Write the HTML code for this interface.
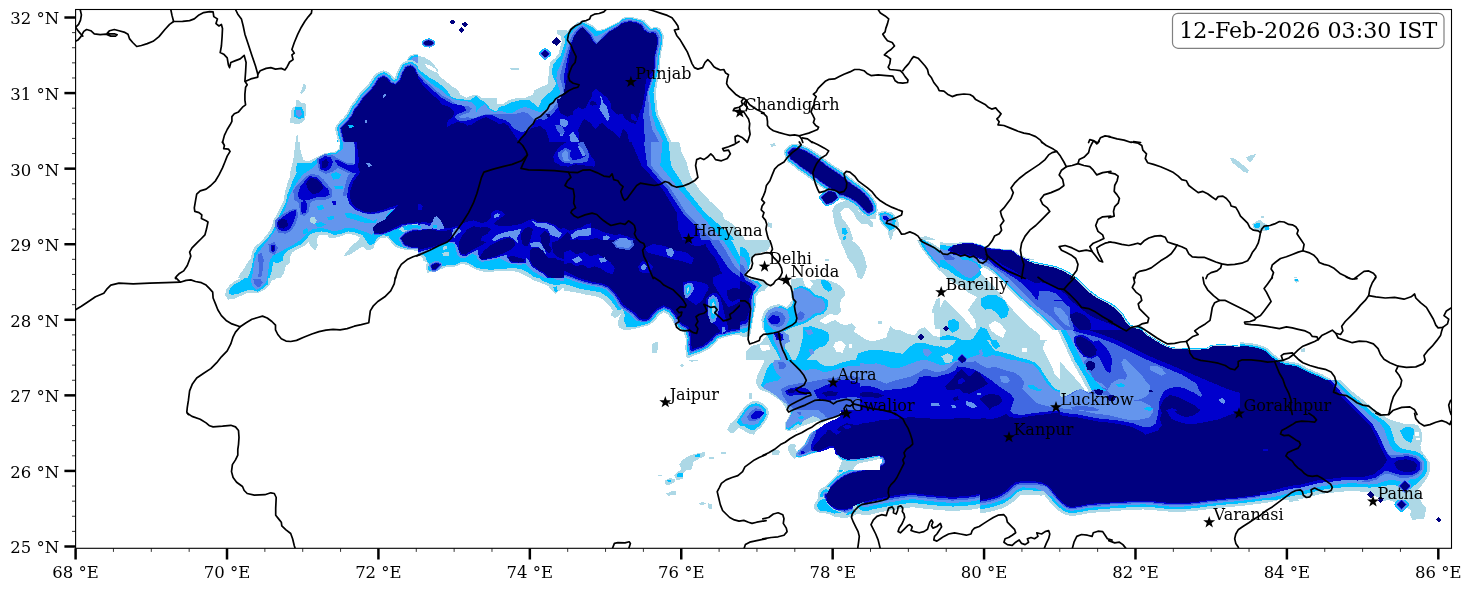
<!DOCTYPE html>
<html><head><meta charset="utf-8"><title>map</title>
<style>html,body{margin:0;padding:0;background:#fff}svg{display:block;will-change:transform}text{font-family:"DejaVu Serif","Liberation Serif",serif;fill:#000}</style>
</head><body>
<svg width="1471" height="591" viewBox="0 0 1471 591">
<defs><clipPath id="ax"><rect x="75.6" y="9.5" width="1375.9" height="538.8"/></clipPath><clipPath id="c00"><rect x="72.0" y="6.0" width="346.0" height="136.0"/></clipPath><clipPath id="c01"><rect x="72.0" y="142.0" width="346.0" height="136.0"/></clipPath><clipPath id="c02"><rect x="72.0" y="278.0" width="346.0" height="136.0"/></clipPath><clipPath id="c03"><rect x="72.0" y="414.0" width="346.0" height="136.0"/></clipPath><clipPath id="c10"><rect x="418.0" y="6.0" width="346.0" height="136.0"/></clipPath><clipPath id="c11"><rect x="418.0" y="142.0" width="346.0" height="136.0"/></clipPath><clipPath id="c12"><rect x="418.0" y="278.0" width="346.0" height="136.0"/></clipPath><clipPath id="c13"><rect x="418.0" y="414.0" width="346.0" height="136.0"/></clipPath><clipPath id="c20"><rect x="764.0" y="6.0" width="346.0" height="136.0"/></clipPath><clipPath id="c21"><rect x="764.0" y="142.0" width="346.0" height="136.0"/></clipPath><clipPath id="c22"><rect x="764.0" y="278.0" width="346.0" height="136.0"/></clipPath><clipPath id="c23"><rect x="764.0" y="414.0" width="346.0" height="136.0"/></clipPath><clipPath id="c30"><rect x="1110.0" y="6.0" width="346.0" height="136.0"/></clipPath><clipPath id="c31"><rect x="1110.0" y="142.0" width="346.0" height="136.0"/></clipPath><clipPath id="c32"><rect x="1110.0" y="278.0" width="346.0" height="136.0"/></clipPath><clipPath id="c33"><rect x="1110.0" y="414.0" width="346.0" height="136.0"/></clipPath><clipPath id="c90"><rect x="700" y="330" width="200" height="120"/></clipPath><clipPath id="c91"><rect x="564" y="240" width="200" height="120"/></clipPath><clipPath id="c92"><rect x="940" y="260" width="200" height="120"/></clipPath><clipPath id="c93"><rect x="1040" y="330" width="200" height="120"/></clipPath><clipPath id="c94"><rect x="740" y="240" width="200" height="120"/></clipPath><clipPath id="c95"><rect x="860" y="340" width="200" height="120"/></clipPath><clipPath id="c96"><rect x="1260" y="380" width="200" height="120"/></clipPath><clipPath id="c97"><rect x="780" y="410" width="200" height="120"/></clipPath><clipPath id="c98"><rect x="780" y="410" width="100" height="60"/></clipPath></defs>
<rect width="1471" height="591" fill="#fff"/>
<g clip-path="url(#ax)">
<g shape-rendering="crispEdges"><g clip-path="url(#c00)"><polygon fill="#add8e6" points="303.7,83.2 306.0,86.0 305.3,90.2 301.3,94.2 300.2,92.6 302.0,88.4"/><polygon fill="#add8e6" points="296.6,98.9 301.3,102.5 305.6,103.6 306.0,111.9 304.9,120.1 300.2,123.6 294.3,123.6 290.3,122.5 290.7,114.2 291.9,108.4 295.5,106.0"/><polygon fill="#00bfff" points="295.5,107.2 301.3,107.2 304.4,111.9 303.7,117.8 299.0,118.9 294.3,116.6 293.6,111.9"/><polygon fill="#6495ed" points="296.6,109.5 300.6,109.5 302.0,114.2 299.0,117.1 295.5,114.7"/><polygon fill="#add8e6" points="296.6,134.9 298.3,135.4 298.3,142.5 296.2,142.5"/><polygon fill="#add8e6" points="357.8,100.1 362.5,91.9 369.5,87.9 375.4,83.6 377.8,87.2 366.0,100.1"/><polygon fill="#add8e6" points="407.2,58.9 410.7,54.9 418.0,53.8 418.0,67.2 408.4,67.2"/><polygon fill="#00bfff" points="408.4,59.6 411.9,55.9 418.0,54.9 418.0,67.2 408.8,67.6"/><polygon fill="#6495ed" points="409.8,60.6 413.1,57.3 418.0,56.6 418.0,67.2 410.7,67.6"/><polygon fill="#00bfff" points="336.6,142.0 340.1,133.1 344.8,130.7 344.8,142.0"/><polygon fill="#6495ed" points="339.0,142.0 342.0,134.9 346.0,133.1 346.0,142.0"/><polygon fill="#add8e6" stroke="#add8e6" stroke-width="12.2" stroke-linejoin="round" points="344.8,142.5 342.5,134.2 341.3,128.4 344.8,124.8 348.4,121.3 351.9,116.6 355.4,109.5 360.1,103.6 363.7,97.8 367.2,94.2 371.9,89.5 375.4,84.8 379.0,78.9 383.7,76.6 387.2,78.9 390.7,83.2 395.4,84.8 400.1,81.3 402.5,74.2 406.0,67.6 410.7,66.0 414.2,68.4 416.6,74.2 420.1,75.4 420.1,142.5"/><polygon fill="#00bfff" stroke="#00bfff" stroke-width="8.4" stroke-linejoin="round" points="344.8,142.5 342.5,134.2 341.3,128.4 344.8,124.8 348.4,121.3 351.9,116.6 355.4,109.5 360.1,103.6 363.7,97.8 367.2,94.2 371.9,89.5 375.4,84.8 379.0,78.9 383.7,76.6 387.2,78.9 390.7,83.2 395.4,84.8 400.1,81.3 402.5,74.2 406.0,67.6 410.7,66.0 414.2,68.4 416.6,74.2 420.1,75.4 420.1,142.5"/><polygon fill="#6495ed" stroke="#6495ed" stroke-width="5.2" stroke-linejoin="round" points="344.8,142.5 342.5,134.2 341.3,128.4 344.8,124.8 348.4,121.3 351.9,116.6 355.4,109.5 360.1,103.6 363.7,97.8 367.2,94.2 371.9,89.5 375.4,84.8 379.0,78.9 383.7,76.6 387.2,78.9 390.7,83.2 395.4,84.8 400.1,81.3 402.5,74.2 406.0,67.6 410.7,66.0 414.2,68.4 416.6,74.2 420.1,75.4 420.1,142.5"/><polygon fill="#4169e1" stroke="#4169e1" stroke-width="3.2" stroke-linejoin="round" points="344.8,142.5 342.5,134.2 341.3,128.4 344.8,124.8 348.4,121.3 351.9,116.6 355.4,109.5 360.1,103.6 363.7,97.8 367.2,94.2 371.9,89.5 375.4,84.8 379.0,78.9 383.7,76.6 387.2,78.9 390.7,83.2 395.4,84.8 400.1,81.3 402.5,74.2 406.0,67.6 410.7,66.0 414.2,68.4 416.6,74.2 420.1,75.4 420.1,142.5"/><polygon fill="#0000cd" stroke="#0000cd" stroke-width="1.6" stroke-linejoin="round" points="344.8,142.5 342.5,134.2 341.3,128.4 344.8,124.8 348.4,121.3 351.9,116.6 355.4,109.5 360.1,103.6 363.7,97.8 367.2,94.2 371.9,89.5 375.4,84.8 379.0,78.9 383.7,76.6 387.2,78.9 390.7,83.2 395.4,84.8 400.1,81.3 402.5,74.2 406.0,67.6 410.7,66.0 414.2,68.4 416.6,74.2 420.1,75.4 420.1,142.5"/><polygon fill="#000080" points="344.8,142.5 342.5,134.2 341.3,128.4 344.8,124.8 348.4,121.3 351.9,116.6 355.4,109.5 360.1,103.6 363.7,97.8 367.2,94.2 371.9,89.5 375.4,84.8 379.0,78.9 383.7,76.6 387.2,78.9 390.7,83.2 395.4,84.8 400.1,81.3 402.5,74.2 406.0,67.6 410.7,66.0 414.2,68.4 416.6,74.2 420.1,75.4 420.1,142.5"/><polygon fill="#6495ed" points="382.0,95.9 385.3,93.5 386.7,94.9 383.7,97.8"/><polygon fill="#6495ed" points="364.8,120.1 367.4,120.1 367.4,122.9 364.8,122.9"/><polygon fill="#00bfff" points="348.4,125.5 352.4,124.4 354.3,126.5 350.0,128.4"/></g>
<g clip-path="url(#c01)"><polygon fill="#add8e6" points="295.5,142.0 294.3,151.4 293.1,160.8 290.7,170.2 289.6,177.3 287.2,184.4 284.9,192.6 283.7,200.8 280.2,207.9 276.6,214.9 273.1,220.8 271.9,226.7 268.4,232.6 263.7,238.5 259.0,243.2 254.3,246.7 251.9,252.6 250.8,258.5 247.2,263.2 243.7,269.1 240.2,273.8 237.8,278.5 280.2,278.5 283.7,273.8 286.0,265.5 289.6,263.2 289.6,258.5 291.9,252.6 297.8,249.1 304.9,245.5 308.4,242.0 310.7,246.7 315.4,250.2 317.8,245.5 316.6,239.6 319.0,234.9 327.2,234.9 329.6,238.5 337.8,237.3 347.2,233.8 354.3,234.9 360.1,237.3 357.8,240.8 351.9,245.5 346.0,252.6 343.7,256.1 349.6,254.9 356.6,250.2 362.5,246.7 367.2,250.2 373.1,249.1 375.4,243.2 380.1,238.5 387.2,237.3 391.9,243.2 395.4,246.7 401.3,249.1 408.4,250.2 418.0,250.7 420.1,142.0 340.1,140.8 339.0,149.1 334.3,151.9 324.9,153.3 316.6,157.3 309.6,160.8 303.7,160.4 300.6,151.4 299.7,140.8"/><polygon fill="#00bfff" points="340.1,140.8 340.1,149.1 335.4,152.6 326.0,153.8 317.8,158.0 311.9,162.7 304.9,163.2 297.8,162.7 295.5,167.9 296.6,172.6 293.1,179.6 290.7,186.7 287.2,194.9 286.0,202.0 282.5,209.1 279.0,216.1 275.5,222.0 274.3,227.9 270.8,233.8 266.1,239.6 261.3,244.4 257.8,247.9 254.3,253.8 253.1,259.6 251.9,266.7 249.6,273.8 247.2,278.5 269.6,278.5 271.9,270.2 273.1,262.0 277.8,263.2 282.5,260.8 283.7,254.9 288.4,250.2 295.5,246.7 301.3,244.4 306.0,239.6 309.6,234.9 314.3,232.6 321.3,231.4 328.4,232.6 334.3,234.9 341.3,233.8 348.4,231.4 355.4,232.6 362.5,234.9 366.0,240.8 369.5,245.5 374.3,243.2 376.6,238.5 382.5,234.9 388.4,236.1 393.1,242.0 397.8,245.5 403.7,247.9 410.7,249.1 420.1,249.1 420.1,140.8"/><polygon fill="#6495ed" points="342.5,140.8 342.5,149.1 336.6,153.8 327.2,154.9 319.0,159.6 315.4,165.5 309.6,170.2 303.7,173.8 299.0,179.6 294.3,186.7 289.6,196.1 287.2,203.2 284.9,210.2 280.2,217.3 276.6,223.2 276.2,229.1 271.9,234.9 268.4,239.6 263.7,245.5 260.2,250.2 256.6,254.9 254.3,262.0 253.1,269.1 251.9,278.5 267.2,278.5 268.4,270.2 269.6,260.8 273.1,254.9 279.0,252.6 284.9,249.1 291.9,245.5 297.8,242.0 303.7,237.3 307.2,232.6 313.1,229.1 320.2,227.9 327.2,229.1 333.1,231.4 340.1,230.2 346.0,227.9 353.1,227.9 360.1,230.2 367.2,232.6 371.9,234.9 375.4,231.4 380.1,226.7 384.8,219.6 388.4,212.6 391.9,210.2 396.6,212.6 420.1,212.6 420.1,140.8"/><polygon fill="#00bfff" points="330.7,173.8 336.6,172.1 341.3,174.9 339.0,179.2 333.1,179.6"/><polygon fill="#00bfff" points="334.3,186.2 342.5,185.5 343.0,188.6 335.4,189.5"/><polygon fill="#00bfff" points="327.2,216.8 333.6,216.1 334.3,219.2 327.9,220.1"/><polygon fill="#add8e6" points="309.6,217.8 314.3,216.8 317.1,220.8 314.3,223.9 310.0,222.0"/><polygon fill="#00bfff" points="316.6,206.0 322.5,205.1 324.1,208.4 319.0,210.7"/><polygon fill="#00bfff" points="315.4,223.2 321.3,222.0 326.0,224.4 321.3,227.2 316.6,226.7"/><polygon fill="#00bfff" points="344.8,212.6 354.3,213.8 363.7,217.3 373.1,220.8 377.8,218.5 375.4,223.2 366.0,223.2 354.3,219.6 346.0,217.3"/><polygon fill="#00bfff" points="302.5,230.2 307.2,227.9 308.4,231.4 303.7,234.9"/><polygon fill="#add8e6" points="400.1,224.8 408.4,223.2 418.0,223.2 418.0,229.5 410.7,230.9 403.7,232.6 399.4,229.5"/><polygon fill="#00bfff" points="402.5,226.7 409.5,224.8 418.0,224.8 418.0,228.1 410.7,229.5 404.8,230.5"/><polygon fill="#4169e1" points="293.1,190.2 299.0,183.2 304.9,177.3 310.7,173.8 317.8,174.9 323.7,179.6 328.4,185.5 331.9,189.1 331.9,197.3 326.0,199.6 317.8,199.6 310.7,202.0 308.4,212.6 304.9,216.1 300.2,214.9 299.0,203.2 294.3,199.6"/><polygon fill="#4169e1" points="316.6,158.5 324.9,154.2 333.1,155.6 339.0,158.9 346.0,162.7 354.3,163.6 360.1,162.7 360.1,176.1 351.9,174.5 344.8,171.4 337.8,167.9 333.1,171.4 326.0,173.8 319.0,170.7"/><polygon fill="#4169e1" points="275.5,219.6 282.5,214.5 290.7,209.8 297.3,208.4 297.8,216.8 295.5,224.4 291.2,230.9 285.6,233.8 278.5,232.6 274.8,226.7"/><polygon fill="#4169e1" points="257.8,254.9 261.3,252.6 263.7,259.6 263.0,269.1 261.3,277.3 258.3,277.3 259.0,266.7"/><polygon fill="#4169e1" points="268.4,244.4 274.3,242.0 277.8,247.9 274.8,254.9 269.6,252.6"/><polygon fill="#4169e1" points="342.5,196.1 349.6,194.9 351.9,205.5 357.8,210.2 366.0,213.8 377.8,213.8 389.5,210.2 397.8,206.7 391.9,213.8 384.8,222.0 375.4,227.9 374.3,234.9 382.5,234.9 396.6,229.1 408.4,224.8 418.0,223.9 418.0,142.0 354.3,142.0 355.4,165.5 347.2,177.3"/><polygon fill="#0000cd" points="319.0,159.6 324.9,156.1 330.7,157.3 333.1,162.0 330.7,167.9 326.0,171.4 320.2,169.1"/><polygon fill="#000080" points="321.8,162.0 326.0,158.9 328.9,162.0 327.2,167.4 322.5,167.9"/><polygon fill="#0000cd" points="334.3,159.6 340.1,160.8 346.0,164.4 353.1,165.5 357.8,164.4 357.8,173.8 351.9,172.6 344.8,169.1 337.8,165.5"/><polygon fill="#0000cd" points="297.8,193.8 300.2,186.7 304.9,180.8 309.6,176.1 316.6,177.3 321.3,182.0 324.9,186.7 328.4,189.1 329.6,194.9 323.7,197.3 316.6,197.3 309.6,199.6 303.7,200.8 299.0,198.5"/><polygon fill="#000080" points="306.0,183.2 310.7,177.3 316.6,179.2 321.3,183.9 323.7,187.9 319.0,192.6 313.1,194.2 308.4,190.2"/><polygon fill="#0000cd" points="301.3,202.0 306.0,200.8 307.2,206.7 306.0,212.6 302.0,213.8 300.6,207.9"/><polygon fill="#0000cd" points="277.8,220.8 283.7,216.1 290.7,211.4 295.5,210.2 295.5,216.1 293.1,223.2 289.6,229.1 284.9,231.4 279.0,230.2 276.6,225.5"/><polygon fill="#000080" points="277.8,222.0 282.5,218.5 287.2,220.8 287.9,225.5 283.7,228.6 279.0,227.9"/><polygon fill="#0000cd" points="270.8,245.5 274.3,244.4 275.5,249.1 273.1,252.6 270.8,250.2"/><polygon fill="#000080" points="271.5,246.7 273.8,246.0 274.3,249.1 272.4,250.7"/><polygon fill="#0000cd" points="331.9,201.3 335.4,200.8 336.6,204.4 333.1,205.5"/><polygon fill="#0000cd" points="354.3,140.8 355.4,156.1 354.3,165.5 356.6,172.6 353.1,177.3 349.6,183.2 347.7,190.2 347.2,197.3 349.6,204.4 355.4,209.8 363.7,213.1 371.9,214.0 380.1,212.6 388.4,210.2 395.4,207.9 390.7,212.6 386.0,219.6 377.8,224.8 373.1,229.1 374.3,233.8 380.1,234.5 388.4,232.1 395.4,229.1 402.5,225.5 409.5,224.1 420.1,223.2 420.1,140.8"/><polygon fill="#000080" points="356.6,140.8 357.8,151.4 359.0,160.8 357.8,165.5 360.1,172.6 356.6,177.3 353.1,182.0 350.7,189.1 349.6,196.1 351.9,203.2 356.6,207.9 363.7,211.4 370.7,212.6 377.8,211.4 384.8,209.1 391.9,206.7 397.8,205.1 394.2,210.2 388.4,214.9 384.8,219.6 377.8,223.2 373.1,227.9 374.3,232.6 380.1,233.8 387.2,231.4 394.2,227.9 401.3,224.4 408.4,223.2 420.1,222.0 420.1,140.8"/><polygon fill="#6495ed" points="366.0,163.6 369.5,162.7 371.9,165.5 368.8,166.9"/><polygon fill="#6495ed" stroke="#6495ed" stroke-width="5.2" stroke-linejoin="round" points="401.3,238.5 406.0,233.8 413.1,230.9 420.1,230.2 420.1,246.7 410.7,246.7 404.8,244.4"/><polygon fill="#4169e1" stroke="#4169e1" stroke-width="3.2" stroke-linejoin="round" points="401.3,238.5 406.0,233.8 413.1,230.9 420.1,230.2 420.1,246.7 410.7,246.7 404.8,244.4"/><polygon fill="#0000cd" stroke="#0000cd" stroke-width="1.6" stroke-linejoin="round" points="401.3,238.5 406.0,233.8 413.1,230.9 420.1,230.2 420.1,246.7 410.7,246.7 404.8,244.4"/><polygon fill="#000080" points="401.3,238.5 406.0,233.8 413.1,230.9 420.1,230.2 420.1,246.7 410.7,246.7 404.8,244.4"/></g>
<g clip-path="url(#c02)"><polygon fill="#add8e6" points="224.9,295.6 226.1,289.8 229.6,285.1 234.3,281.5 239.0,279.2 243.7,276.8 274.3,276.8 276.6,279.2 271.9,280.4 269.6,285.1 266.1,288.6 260.2,292.1 255.5,293.3 248.4,292.6 241.4,295.6 234.3,298.7 228.4,299.6"/><polygon fill="#00bfff" points="228.4,293.3 230.1,288.6 234.3,284.6 240.2,281.5 246.1,276.8 268.4,276.8 268.4,283.9 263.7,287.9 257.8,291.6 251.9,289.8 244.9,290.9 237.8,294.0 231.9,294.9"/><polygon fill="#6495ed" points="250.8,276.8 267.2,276.8 266.1,282.7 261.3,287.4 256.6,289.8 252.6,286.2 251.2,281.5"/><polygon fill="#4169e1" points="253.1,279.2 260.2,278.7 263.0,282.7 259.0,287.4 255.0,285.1"/></g>
<g clip-path="url(#c03)"></g>
<g clip-path="url(#c10)"><polygon fill="#add8e6" points="418.0,55.9 424.6,57.3 429.8,60.6 434.0,64.8 438.0,70.0 437.3,73.1 441.5,77.8 447.4,82.5 453.3,87.2 457.5,89.5 460.3,94.9 466.2,97.8 472.1,95.4 476.8,94.9 482.0,97.8 487.9,98.5 496.8,97.8 497.5,104.4 502.7,104.4 508.6,100.1 516.8,98.2 525.7,97.8 533.3,94.2 534.4,90.2 541.5,86.7 547.4,84.4 548.5,76.6 549.2,67.6 550.4,61.8 554.9,58.2 558.7,54.2 559.8,48.4 562.0,41.3 560.5,36.1 556.8,33.8 556.8,29.5 562.7,29.5 568.1,30.7 572.1,26.7 577.5,22.5 582.6,20.6 587.8,22.9 593.2,25.8 597.2,30.0 603.8,29.1 610.4,25.8 617.9,22.0 623.8,17.3 629.7,16.6 637.2,18.2 644.3,20.1 648.0,24.8 651.3,28.1 656.0,26.7 660.7,29.1 663.8,35.4 663.1,44.1 661.0,53.5 659.3,70.7 655.8,92.4 657.9,114.2 665.2,128.8 671.6,142.5 418.0,142.5"/><polygon fill="#ffffff" points="425.3,64.1 428.8,64.8 432.6,66.9 436.1,69.8 436.8,71.6 434.0,71.6 430.5,69.8 426.7,67.6"/><polygon fill="#00bfff" points="418.0,69.1 423.9,73.5 429.8,77.8 435.4,80.8 441.3,85.1 447.2,90.9 451.4,96.8 457.3,98.9 464.6,99.6 470.5,99.6 476.1,96.1 479.2,98.9 483.4,101.1 487.9,105.5 490.7,109.1 496.6,111.4 499.4,106.9 505.3,105.5 511.1,102.5 519.8,100.4 528.6,99.6 534.4,104.1 538.7,107.6 541.7,99.6 546.0,95.4 551.8,90.9 556.3,83.6 553.2,77.8 551.8,71.9 553.2,64.8 557.7,58.9 560.5,55.9 562.7,49.5 565.0,42.5 564.3,36.6 568.5,31.9 573.7,27.6 579.1,23.6 582.6,22.0 586.9,24.4 592.5,27.2 596.8,31.4 603.8,30.2 609.9,27.2 617.5,23.4 623.3,18.7 629.7,17.8 636.7,19.4 643.3,21.3 647.1,26.0 650.6,29.3 655.6,27.9 659.6,30.2 662.4,36.1 661.7,44.4 659.6,53.8 657.9,70.7 653.4,92.4 655.8,114.2 662.4,128.8 668.3,142.5 418.0,142.5"/><polygon fill="#6495ed" points="418.0,71.9 423.9,77.8 429.8,82.2 435.4,86.5 441.3,90.2 447.2,95.4 452.8,98.9 458.7,100.4 466.0,101.1 471.9,102.5 476.1,106.9 476.1,112.1 480.6,106.9 485.0,104.1 487.9,108.4 493.7,112.1 501.0,110.7 506.7,112.8 512.6,112.8 519.8,108.4 525.7,106.9 533.0,109.8 540.3,112.1 546.0,109.8 551.8,104.1 557.7,98.2 560.5,92.4 557.7,85.1 556.3,77.8 557.7,70.5 561.2,63.2 563.6,55.9 565.7,48.4 567.4,41.3 569.7,35.4 573.2,30.7 578.4,26.0 582.6,24.4 586.4,27.2 591.6,31.9 594.9,36.1 599.1,35.4 603.8,32.4 609.5,28.8 617.0,24.8 623.1,20.1 629.7,18.9 636.7,20.6 642.6,22.5 646.2,27.2 650.2,30.5 655.1,29.1 658.4,31.4 661.0,36.6 660.3,44.8 658.2,54.2 656.3,70.7 649.2,92.4 652.0,114.2 656.5,128.8 664.0,142.5 418.0,142.5"/><polygon fill="#4169e1" points="418.0,73.5 425.3,80.8 432.6,87.2 438.5,92.4 444.1,96.8 450.0,99.6 455.9,104.1 461.7,106.9 467.4,105.5 471.9,108.4 468.8,112.8 463.2,114.2 458.7,116.4 461.7,118.5 467.4,117.1 473.3,118.5 480.6,115.6 486.4,114.2 492.3,114.2 499.4,113.5 505.3,114.2 511.1,114.2 517.0,113.5 522.7,112.1 527.1,112.8 531.6,117.1 534.4,120.1 538.7,117.1 543.1,114.2 547.6,112.8 551.8,109.8 556.3,104.1 561.2,98.2 563.6,92.4 562.2,85.1 559.8,77.8 561.2,70.5 563.6,63.2 565.7,55.9 568.1,48.4 569.7,41.3 572.1,35.4 575.1,31.4 579.4,27.2 582.6,25.8 585.9,28.6 590.9,33.3 593.9,38.9 596.8,42.5 600.3,38.9 603.8,34.7 609.0,30.5 616.5,26.2 622.6,21.5 629.7,20.1 636.7,21.5 641.9,23.6 645.2,28.4 649.7,31.6 654.4,30.5 657.2,32.6 659.6,37.3 658.9,45.3 656.7,54.7 655.3,70.7 648.0,92.4 649.2,114.2 652.0,128.8 659.6,142.5 418.0,142.5"/><polygon fill="#0000cd" points="418.0,74.9 423.9,82.2 429.8,87.2 435.4,92.4 441.3,97.5 447.2,101.1 452.8,104.1 460.1,104.8 464.6,106.9 466.0,110.7 461.7,112.8 457.3,114.2 454.5,116.4 457.3,120.1 463.2,121.5 468.8,120.1 476.1,117.8 482.0,115.6 487.9,114.9 493.7,115.6 499.4,118.5 505.3,120.1 509.7,122.9 512.6,127.4 517.0,130.2 522.7,132.4 527.1,130.2 533.0,125.8 534.4,122.2 538.7,118.5 544.5,120.1 549.0,117.1 554.7,111.4 559.1,105.5 563.6,99.6 566.4,92.4 565.0,85.1 563.6,77.8 565.0,70.5 566.4,63.2 568.1,55.9 569.7,49.5 571.4,42.5 573.7,36.6 576.5,32.4 580.3,28.4 582.6,27.2 585.5,30.0 590.2,34.7 593.0,40.4 596.3,44.1 599.6,40.8 603.8,36.6 608.5,31.9 616.1,27.6 622.2,22.9 629.7,21.1 636.7,22.5 641.5,24.8 644.3,29.5 649.2,32.8 653.7,31.9 656.0,33.8 658.2,38.0 657.4,45.8 655.3,55.2 654.4,70.7 647.1,92.4 643.3,114.2 644.0,128.8 645.5,142.5 418.0,142.5"/><polygon fill="#000080" points="418.0,77.8 422.5,85.1 426.7,89.5 432.6,95.4 438.5,99.6 441.3,104.1 447.2,106.2 451.4,108.4 454.5,112.8 452.8,117.1 448.6,120.1 446.5,124.4 446.5,127.4 451.4,124.4 457.3,122.2 463.2,122.9 467.4,125.8 471.9,124.4 476.1,121.5 482.0,118.5 486.4,117.1 490.7,119.4 495.2,121.5 499.4,124.4 503.9,122.9 508.3,125.8 511.1,130.2 514.0,134.7 517.0,138.9 518.4,142.5 418.0,142.5"/><polygon fill="#000080" points="582.6,27.6 585.5,30.5 589.7,35.2 592.5,40.8 596.1,44.8 599.6,41.3 603.8,37.3 608.5,32.6 616.1,28.4 622.2,23.6 629.7,21.8 636.7,23.2 641.0,25.5 643.8,30.2 649.0,33.5 653.2,32.6 655.6,34.5 657.4,38.5 656.7,46.0 654.6,55.4 653.4,70.7 645.9,79.9 645.0,90.5 643.3,101.1 641.7,108.4 639.8,110.5 639.1,115.6 637.7,119.9 635.6,124.1 632.3,122.9 628.0,120.8 624.0,117.8 622.9,113.5 618.6,114.7 614.6,112.6 611.3,109.3 610.4,102.0 607.1,97.8 601.9,93.5 595.6,88.8 592.5,91.6 591.4,97.8 588.3,102.0 586.2,107.2 581.9,109.3 578.9,107.2 573.7,110.5 572.5,114.7 567.4,116.6 562.0,114.2 560.1,112.6 557.7,104.1 557.0,99.6 560.5,98.2 563.6,92.4 565.0,86.7 566.4,80.8 567.8,70.5 569.2,55.9 570.9,50.7 572.1,43.6 573.7,37.8 576.1,33.8 579.8,29.5"/><polygon fill="#000080" points="578.9,142.5 578.4,129.3 581.9,122.0 584.1,118.7 590.4,122.9 595.6,129.3 599.8,124.1 601.9,122.9 606.2,127.2 612.5,131.4 619.8,137.8 622.9,128.4 627.1,132.4 629.2,142.5"/><polygon fill="#000080" points="519.1,142.5 523.8,135.4 530.9,128.4 540.3,126.0 546.2,130.7 549.7,142.5"/><polygon fill="#6495ed" points="600.4,95.7 601.9,96.8 603.0,103.1 606.1,105.2 608.2,111.5 609.8,116.7 607.7,121.4 605.1,117.8 601.9,112.5 599.3,108.8 600.9,104.1"/><polygon fill="#000080" points="589.4,102.6 591.5,101.0 596.2,102.0 596.7,104.7 592.5,105.7 589.9,105.2"/><polygon fill="#0000cd" points="631.3,113.6 633.4,114.1 637.6,118.8 637.1,120.9 633.4,120.4 631.3,118.8"/><polygon fill="#6495ed" points="560.0,118.8 567.3,119.9 568.4,124.1 565.2,127.7 560.0,125.1"/><polygon fill="#6495ed" points="569.4,135.6 573.1,131.9 575.7,135.6 578.9,142.0 571.5,142.0"/><polygon fill="#6495ed" points="560.0,130.4 563.7,133.5 562.1,136.6 560.0,135.6"/><polygon fill="#4169e1" points="644.9,142.0 648.1,137.7 651.2,136.6 652.3,139.8 650.2,142.0"/><polygon fill="#000080" points="531.5,129.5 537.3,128.0 539.5,131.7 534.4,134.6"/><polygon fill="#000080" points="546.0,114.2 549.7,113.5 550.4,116.4 547.5,117.1"/><polygon fill="#4169e1" points="554.8,124.4 562.0,125.8 565.0,131.7 561.3,135.3 557.7,131.7"/><polygon fill="#6495ed" points="569.3,135.3 573.0,132.4 577.3,137.5 579.5,142.0 570.8,142.0"/><polygon fill="#000080" points="452.1,19.2 455.2,22.0 452.1,24.8 449.0,22.0"/><polygon fill="#000080" points="464.6,21.5 467.9,24.4 464.6,27.4 461.5,24.4"/><polygon fill="#000080" points="461.5,27.2 464.8,30.0 461.5,33.1 458.2,30.0"/><polygon fill="#00bfff" stroke="#00bfff" stroke-width="4.2" stroke-linejoin="round" points="424.6,41.8 428.6,40.4 432.6,41.8 433.5,43.6 429.8,45.5 425.5,45.1 423.6,43.6"/><polygon fill="#6495ed" stroke="#6495ed" stroke-width="2.6" stroke-linejoin="round" points="424.6,41.8 428.6,40.4 432.6,41.8 433.5,43.6 429.8,45.5 425.5,45.1 423.6,43.6"/><polygon fill="#4169e1" stroke="#4169e1" stroke-width="1.6" stroke-linejoin="round" points="424.6,41.8 428.6,40.4 432.6,41.8 433.5,43.6 429.8,45.5 425.5,45.1 423.6,43.6"/><polygon fill="#0000cd" stroke="#0000cd" stroke-width="0.8" stroke-linejoin="round" points="424.6,41.8 428.6,40.4 432.6,41.8 433.5,43.6 429.8,45.5 425.5,45.1 423.6,43.6"/><polygon fill="#000080" points="424.6,41.8 428.6,40.4 432.6,41.8 433.5,43.6 429.8,45.5 425.5,45.1 423.6,43.6"/><polygon fill="#000080" points="556.3,37.3 561.0,41.3 556.8,46.0 551.6,42.5"/><polygon fill="#00bfff" stroke="#00bfff" stroke-width="5.0" stroke-linejoin="round" points="545.0,50.5 548.8,53.8 545.0,57.3 541.5,53.8"/><polygon fill="#6495ed" stroke="#6495ed" stroke-width="3.1" stroke-linejoin="round" points="545.0,50.5 548.8,53.8 545.0,57.3 541.5,53.8"/><polygon fill="#4169e1" stroke="#4169e1" stroke-width="1.9" stroke-linejoin="round" points="545.0,50.5 548.8,53.8 545.0,57.3 541.5,53.8"/><polygon fill="#0000cd" stroke="#0000cd" stroke-width="1.0" stroke-linejoin="round" points="545.0,50.5 548.8,53.8 545.0,57.3 541.5,53.8"/><polygon fill="#000080" points="545.0,50.5 548.8,53.8 545.0,57.3 541.5,53.8"/><polygon fill="#add8e6" points="510.2,68.4 519.1,68.1 519.6,70.0 510.9,70.5"/></g>
<g clip-path="url(#c11)"><polygon fill="#add8e6" points="418.0,140.8 679.1,140.8 681.4,151.4 686.1,160.8 687.3,165.5 690.8,177.3 699.1,189.1 709.7,200.8 722.6,212.6 723.8,218.5 733.2,224.4 742.6,236.1 749.7,245.5 756.7,254.9 756.7,259.6 766.1,264.4 766.1,279.6 549.0,287.3 544.6,284.4 538.8,281.5 531.5,279.3 525.7,275.7 519.9,272.8 514.0,271.3 505.3,270.6 496.6,271.3 487.8,272.0 480.6,271.3 473.3,268.4 467.5,264.8 461.7,264.0 454.4,266.9 447.1,266.9 441.3,269.1 434.0,271.3 427.5,272.8 426.0,268.4 426.7,262.6 423.1,260.4 422.4,257.5 418.0,254.6"/><polygon fill="#00bfff" points="418.0,140.8 668.5,140.8 670.9,165.5 686.1,189.1 705.0,212.6 732.0,236.1 746.1,259.6 747.3,279.6 591.0,287.3 591.0,284.4 578.1,283.7 563.5,282.9 554.8,283.7 546.0,282.2 540.2,279.3 532.9,276.4 528.6,272.8 522.8,269.8 516.9,268.4 508.2,268.4 499.5,269.1 490.8,269.8 483.5,269.1 476.2,267.7 471.8,264.8 467.5,262.6 461.7,261.8 455.8,264.8 448.6,264.8 442.7,266.2 435.5,269.1 428.9,271.3 427.5,268.4 429.6,264.0 426.7,261.1 425.3,256.0 418.0,253.1"/><polygon fill="#add8e6" points="442.7,246.6 447.1,246.3 447.4,249.2 443.0,249.8"/><polygon fill="#add8e6" points="442.4,252.7 448.6,252.1 448.8,255.6 442.7,256.5"/><polygon fill="#6495ed" points="418.0,140.8 662.6,140.8 660.3,165.5 679.1,189.1 699.1,212.6 719.1,236.1 728.5,259.6 737.9,279.6 591.0,287.3 591.0,281.5 581.0,280.8 572.2,278.6 569.3,281.5 560.6,281.5 551.9,280.8 546.0,278.6 540.2,275.7 532.9,271.3 528.6,266.9 525.7,264.0 519.9,264.8 511.1,264.0 505.3,261.1 499.5,258.2 490.8,260.4 482.0,261.8 477.7,259.7 476.2,255.3 471.8,253.8 466.0,257.5 460.2,257.5 457.3,255.3 454.4,243.7 447.1,242.2 432.6,248.7 418.0,255.3"/><polygon fill="#add8e6" points="518.4,247.3 522.8,246.6 526.4,250.2 525.7,253.8 519.9,254.6 516.9,250.9"/><polygon fill="#4169e1" points="629.7,140.8 650.9,140.8 650.9,165.5 670.9,189.1 686.1,212.6 716.1,243.7 722.0,258.2 730.7,272.8 736.5,287.3 692.9,287.3"/><polygon fill="#0000cd" points="418.0,140.8 643.8,140.8 647.3,165.5 667.3,189.1 682.6,212.6 698.7,229.1 701.6,243.7 714.7,258.2 719.0,272.8 714.7,287.3 591.0,287.3 591.0,265.5 588.2,266.2 583.9,269.8 576.6,269.8 572.2,268.4 570.0,269.8 567.9,275.7 563.5,279.3 556.2,280.0 548.2,278.6 543.9,274.2 538.8,271.3 532.2,266.9 529.3,261.1 526.4,258.2 525.7,262.6 519.9,263.3 511.1,262.6 507.5,258.2 506.8,254.6 499.5,256.8 490.8,258.9 482.0,260.4 479.1,258.2 477.7,249.5 471.8,252.4 466.0,256.0 460.2,255.3 457.3,246.6 454.4,242.2 447.1,242.2 432.6,248.0 418.0,252.4"/><polygon fill="#6495ed" points="492.2,239.3 496.6,234.9 505.3,232.0 514.0,230.6 521.3,228.4 519.9,233.5 516.9,237.8 518.4,243.7 514.0,239.3 509.7,236.4 503.8,237.1 498.0,239.3 493.7,241.5"/><polygon fill="#6495ed" points="531.5,220.4 537.3,223.3 546.0,223.3 553.3,226.2 557.7,230.6 562.0,233.5 559.1,237.8 554.8,236.4 550.4,234.9 547.5,229.1 541.7,227.6 535.9,226.2"/><polygon fill="#6495ed" points="570.8,234.9 576.6,230.6 583.9,229.1 591.0,227.6 591.0,234.9 585.3,236.4 578.1,236.4 572.2,239.3"/><polygon fill="#6495ed" points="530.0,243.7 535.9,241.5 540.2,242.2 544.6,249.5 546.8,255.3 543.1,250.9 537.3,246.6 531.5,246.6"/><polygon fill="#6495ed" points="572.2,258.2 578.1,257.5 582.4,256.8 581.0,259.7 575.1,262.6"/><polygon fill="#6495ed" points="578.1,268.4 583.9,266.2 591.0,268.4 591.0,275.7 583.9,274.2"/><polygon fill="#6495ed" points="452.9,229.1 457.3,227.6 461.7,231.3 457.3,234.2 454.4,237.8 452.2,234.9"/><polygon fill="#000080" points="418.0,140.8 630.9,140.8 641.5,165.5 662.6,189.1 676.7,212.6 678.3,229.1 682.7,239.3 678.3,242.9 672.5,243.7 666.7,242.2 660.8,242.2 655.0,243.7 649.2,245.1 641.9,243.7 634.7,239.3 627.4,236.4 620.1,234.2 614.3,234.9 608.5,233.5 602.6,232.0 596.8,229.1 591.0,227.6 591.0,223.3 585.3,224.7 581.0,227.6 575.1,229.1 569.3,230.6 563.5,227.6 560.6,229.1 554.8,224.7 546.0,221.8 537.3,221.8 534.4,219.6 532.9,218.9 528.6,220.4 522.8,223.3 516.9,224.7 508.2,226.2 499.5,226.2 493.7,224.0 495.1,221.8 499.5,218.9 505.3,214.6 502.4,211.6 496.6,209.5 490.8,213.1 490.8,217.5 486.4,221.8 482.0,223.3 473.3,220.4 466.0,221.8 460.2,225.5 455.8,226.2 450.0,228.4 444.2,227.6 442.7,223.3 439.8,218.9 436.9,216.0 434.0,217.5 432.6,221.8 429.6,223.3 423.8,221.8 418.0,223.3"/><polygon fill="#000080" points="418.0,231.3 423.8,229.8 431.1,229.1 438.4,231.3 445.6,231.3 450.7,229.1 452.2,233.5 449.3,238.6 447.1,241.5 441.3,243.7 432.6,246.6 425.3,248.0 418.0,250.2"/><polygon fill="#000080" points="458.7,242.2 461.7,236.4 467.5,229.1 473.3,226.2 480.6,227.6 486.4,226.9 490.8,229.1 487.8,233.5 482.0,236.4 480.6,240.7 486.4,242.2 482.0,245.1 476.2,248.0 470.4,250.9 466.0,254.6 461.7,253.8 458.7,249.5"/><polygon fill="#000080" points="479.1,258.2 483.5,250.9 490.8,245.1 499.5,240.7 508.2,237.8 514.0,240.7 515.5,245.1 511.1,249.5 503.8,253.1 496.6,256.0 487.8,258.2 482.0,259.7"/><polygon fill="#000080" points="508.2,256.8 514.0,256.0 519.9,258.2 524.9,258.9 524.2,261.8 518.4,262.6 512.6,261.8 508.9,259.7"/><polygon fill="#000080" points="530.0,250.9 532.9,248.0 538.8,248.0 543.1,250.9 546.0,255.3 549.0,258.2 554.8,257.5 557.7,259.7 563.5,261.1 567.9,264.0 569.3,268.4 566.4,274.2 562.0,277.9 556.2,278.6 549.0,277.1 544.6,272.8 538.8,269.8 532.9,265.5 530.0,259.7"/><polygon fill="#000080" points="521.3,233.5 524.2,229.1 528.6,226.9 532.9,229.1 531.5,234.9 530.0,240.7 527.1,246.6 522.8,245.1 521.3,239.3"/><polygon fill="#000080" points="540.2,234.9 544.6,230.6 549.0,233.5 550.4,239.3 549.0,245.1 551.9,249.5 549.0,253.8 544.6,249.5 541.7,243.7"/><polygon fill="#000080" points="551.9,242.2 557.7,240.7 563.5,236.4 567.9,232.0 570.8,236.4 569.3,242.2 565.0,246.6 563.5,252.4 566.4,256.8 570.8,258.2 570.8,262.6 565.0,259.7 557.7,256.8 553.3,252.4 551.9,246.6"/><polygon fill="#000080" points="563.5,246.6 569.3,242.2 576.6,239.3 585.3,240.7 591.9,243.7 591.9,252.4 585.3,255.3 581.0,258.2 575.1,256.8 569.3,253.8 565.0,250.9"/><polygon fill="#000080" points="573.7,264.0 579.5,260.4 585.3,261.1 586.8,265.5 582.4,268.4 576.6,268.4"/><polygon fill="#6495ed" stroke="#6495ed" stroke-width="5.2" stroke-linejoin="round" points="431.8,265.5 436.9,263.3 439.8,264.8 435.5,269.1 432.6,269.1"/><polygon fill="#4169e1" stroke="#4169e1" stroke-width="3.2" stroke-linejoin="round" points="431.8,265.5 436.9,263.3 439.8,264.8 435.5,269.1 432.6,269.1"/><polygon fill="#0000cd" stroke="#0000cd" stroke-width="1.6" stroke-linejoin="round" points="431.8,265.5 436.9,263.3 439.8,264.8 435.5,269.1 432.6,269.1"/><polygon fill="#000080" points="431.8,265.5 436.9,263.3 439.8,264.8 435.5,269.1 432.6,269.1"/><polygon fill="#000080" points="590.3,239.3 596.8,237.8 604.1,242.2 611.4,245.1 614.3,248.0 621.6,250.2 628.8,249.5 636.1,250.9 641.9,250.2 643.4,258.2 646.3,265.5 639.0,264.0 637.6,269.8 641.9,272.8 649.2,269.8 652.1,275.7 657.9,281.5 662.3,287.3 590.3,287.3"/><polygon fill="#000080" points="646.3,258.2 652.1,256.8 659.4,255.3 666.7,258.2 669.6,262.6 673.9,258.2 681.2,255.3 685.6,250.9 692.9,249.5 698.7,252.4 704.5,258.2 710.3,264.0 714.7,269.8 713.2,275.7 707.4,281.5 704.5,287.3 663.8,287.3 659.4,281.5 653.6,275.7 650.7,269.8 649.2,264.0"/><polygon fill="#0000cd" points="418.0,204.4 420.9,204.1 422.7,206.5 421.6,209.9 418.0,210.5"/><polygon fill="#6495ed" points="418.0,224.7 423.8,224.0 429.6,226.2 432.6,221.8 434.0,217.5 436.9,216.0 439.8,218.9 442.7,224.0 444.9,228.4 438.4,229.8 432.6,228.4 426.7,229.1 418.0,229.8"/><polygon fill="#00bfff" points="418.0,226.2 420.9,225.9 420.9,228.4 418.0,228.7"/><polygon fill="#00bfff" points="432.6,225.5 436.9,225.0 437.6,227.9 433.3,228.4"/><polygon fill="#0000cd" points="490.8,217.5 490.8,213.1 496.6,209.5 502.4,211.6 505.3,214.6 499.5,218.9 495.1,221.8"/><polygon fill="#6495ed" points="493.7,215.3 497.3,213.1 500.2,214.6 498.0,217.2 494.4,217.8"/><polygon fill="#6495ed" points="613.6,241.5 620.1,237.8 627.4,238.6 633.2,243.7 630.3,247.3 623.0,248.7 615.7,246.6"/><polygon fill="#6495ed" points="602.6,236.4 607.0,235.2 609.9,237.5 607.0,240.0 603.4,239.6"/><polygon fill="#6495ed" points="665.2,249.5 669.6,248.7 675.4,251.7 673.9,255.3 669.6,256.8 666.7,253.8"/><polygon fill="#0000cd" points="593.9,256.0 599.7,253.8 607.0,253.1 609.9,256.0 608.5,260.4 602.6,261.8 596.8,261.1"/><polygon fill="#6495ed" points="598.3,258.2 603.4,256.8 605.6,258.9 602.6,261.1 599.0,260.8"/><polygon fill="#0000cd" points="593.9,264.8 602.6,266.2 609.9,269.8 614.3,272.8 612.8,276.4 605.6,274.2 598.3,271.3 593.9,268.4"/><polygon fill="#0000cd" points="591.0,279.3 596.8,280.8 599.7,287.3 591.0,287.3"/><polygon fill="#0000cd" points="637.6,265.5 641.9,261.8 647.7,264.0 649.2,268.4 644.8,272.8 639.7,272.0"/><polygon fill="#6495ed" points="640.5,266.2 644.1,264.8 646.0,267.2 643.4,269.8 640.8,269.1"/><polygon fill="#0000cd" points="681.2,283.7 687.0,281.5 694.3,282.2 697.2,287.3 679.8,287.3"/><polygon fill="#6495ed" points="683.4,284.4 688.5,282.9 692.9,284.1 693.6,287.3 682.7,287.3"/><polygon fill="#0000cd" points="553.2,156.1 556.8,150.2 561.5,145.5 568.5,140.8 582.6,140.8 587.4,149.1 590.9,156.1 595.6,162.0 594.4,166.7 585.0,165.5 575.6,164.4 568.5,166.7 560.3,165.5 554.4,162.0"/><polygon fill="#4169e1" points="558.0,152.6 565.0,147.9 570.9,150.2 569.7,156.1 573.2,160.4 581.5,158.5 586.2,156.1 582.6,150.2 577.9,143.9 582.6,140.8 586.2,146.7 589.2,154.9 587.8,161.3 580.3,163.2 570.9,163.6 563.8,162.7 558.7,158.5"/><polygon fill="#6495ed" points="561.5,153.3 565.7,150.2 568.5,152.6 567.4,157.3 570.9,161.3 563.8,160.8"/><polygon fill="#6495ed" points="579.8,145.5 583.8,151.4 585.5,155.6 582.6,156.6 580.3,151.4 577.9,146.7"/></g>
<g clip-path="url(#c12)"><polygon fill="#add8e6" points="528.6,276.8 533.3,280.4 540.3,282.7 548.5,286.2 552.1,290.9 555.6,294.0 559.1,290.9 563.8,287.4 573.2,288.6 582.6,290.9 586.2,294.5 592.1,295.6 599.1,296.8 606.2,301.5 610.9,306.2 615.6,309.8 617.9,313.3 613.2,315.6 610.9,318.0 614.4,319.2 617.9,316.8 619.1,322.7 617.5,326.2 621.5,330.2 627.3,332.1 634.4,331.6 641.5,327.4 647.3,325.1 653.2,323.9 653.2,276.8"/><polygon fill="#add8e6" points="756.7,303.9 759.5,299.2 766.1,296.8 766.1,339.2 760.2,336.8 757.9,325.1 756.7,313.3"/><polygon fill="#add8e6" stroke="#add8e6" stroke-width="12.2" stroke-linejoin="round" points="590.9,276.8 596.8,281.5 603.8,283.9 609.7,287.4 614.4,290.9 617.9,295.6 619.8,301.5 622.6,307.4 627.3,309.8 633.2,312.1 639.1,315.6 643.8,321.5 649.7,322.7 654.4,319.2 657.9,314.5 662.6,312.1 668.5,313.3 673.2,316.8 675.6,322.7 679.1,326.2 683.8,328.6 686.1,334.5 687.3,340.4 686.1,346.2 688.5,352.1 692.0,355.6 696.7,354.5 701.4,350.9 706.1,348.6 710.8,346.2 714.4,341.5 717.9,336.8 723.8,333.3 730.8,332.1 736.7,333.3 742.6,330.9 746.1,325.1 749.7,319.2 753.2,310.9 754.4,303.9 757.9,298.0 760.2,292.1 766.1,289.8 766.1,276.8"/><polygon fill="#00bfff" points="538.0,276.8 542.7,280.8 549.7,283.9 556.8,285.1 563.8,283.9 573.2,285.1 582.6,287.4 589.7,289.8 596.8,292.1 603.8,295.6 609.7,300.4 614.4,305.1 617.9,309.8 620.8,313.3 622.6,316.8 623.8,322.7 626.2,327.4 632.0,328.6 639.1,325.1 645.0,323.2 650.9,323.2 650.9,276.8"/><polygon fill="#00bfff" points="553.2,287.4 556.8,286.2 557.7,290.9 554.9,292.6"/><polygon fill="#00bfff" points="759.1,308.6 766.1,306.2 766.1,326.2 760.9,325.1 759.1,316.8"/><polygon fill="#00bfff" stroke="#00bfff" stroke-width="8.4" stroke-linejoin="round" points="590.9,276.8 596.8,281.5 603.8,283.9 609.7,287.4 614.4,290.9 617.9,295.6 619.8,301.5 622.6,307.4 627.3,309.8 633.2,312.1 639.1,315.6 643.8,321.5 649.7,322.7 654.4,319.2 657.9,314.5 662.6,312.1 668.5,313.3 673.2,316.8 675.6,322.7 679.1,326.2 683.8,328.6 686.1,334.5 687.3,340.4 686.1,346.2 688.5,352.1 692.0,355.6 696.7,354.5 701.4,350.9 706.1,348.6 710.8,346.2 714.4,341.5 717.9,336.8 723.8,333.3 730.8,332.1 736.7,333.3 742.6,330.9 746.1,325.1 749.7,319.2 753.2,310.9 754.4,303.9 757.9,298.0 760.2,292.1 766.1,289.8 766.1,276.8"/><polygon fill="#6495ed" points="548.5,276.8 559.1,280.4 570.9,281.5 582.6,283.9 592.1,286.2 600.3,288.6 606.2,292.1 612.1,296.8 615.6,301.5 617.9,306.2 620.8,310.9 625.0,313.3 630.9,315.6 635.6,319.2 640.3,322.7 645.0,322.7 645.0,276.8"/><polygon fill="#6495ed" stroke="#6495ed" stroke-width="5.2" stroke-linejoin="round" points="590.9,276.8 596.8,281.5 603.8,283.9 609.7,287.4 614.4,290.9 617.9,295.6 619.8,301.5 622.6,307.4 627.3,309.8 633.2,312.1 639.1,315.6 643.8,321.5 649.7,322.7 654.4,319.2 657.9,314.5 662.6,312.1 668.5,313.3 673.2,316.8 675.6,322.7 679.1,326.2 683.8,328.6 686.1,334.5 687.3,340.4 686.1,346.2 688.5,352.1 692.0,355.6 696.7,354.5 701.4,350.9 706.1,348.6 710.8,346.2 714.4,341.5 717.9,336.8 723.8,333.3 730.8,332.1 736.7,333.3 742.6,330.9 746.1,325.1 749.7,319.2 753.2,310.9 754.4,303.9 757.9,298.0 760.2,292.1 766.1,289.8 766.1,276.8"/><polygon fill="#4169e1" stroke="#4169e1" stroke-width="3.2" stroke-linejoin="round" points="590.9,276.8 596.8,281.5 603.8,283.9 609.7,287.4 614.4,290.9 617.9,295.6 619.8,301.5 622.6,307.4 627.3,309.8 633.2,312.1 639.1,315.6 643.8,321.5 649.7,322.7 654.4,319.2 657.9,314.5 662.6,312.1 668.5,313.3 673.2,316.8 675.6,322.7 679.1,326.2 683.8,328.6 686.1,334.5 687.3,340.4 686.1,346.2 688.5,352.1 692.0,355.6 696.7,354.5 701.4,350.9 706.1,348.6 710.8,346.2 714.4,341.5 717.9,336.8 723.8,333.3 730.8,332.1 736.7,333.3 742.6,330.9 746.1,325.1 749.7,319.2 753.2,310.9 754.4,303.9 757.9,298.0 760.2,292.1 766.1,289.8 766.1,276.8"/><polygon fill="#0000cd" points="559.1,276.8 570.9,279.9 582.6,281.5 592.1,283.9 600.3,286.2 606.2,289.8 612.1,294.0 616.1,298.7 618.4,303.9 621.2,308.6 629.7,308.6 629.7,276.8"/><polygon fill="#0000cd" stroke="#0000cd" stroke-width="1.6" stroke-linejoin="round" points="590.9,276.8 596.8,281.5 603.8,283.9 609.7,287.4 614.4,290.9 617.9,295.6 619.8,301.5 622.6,307.4 627.3,309.8 633.2,312.1 639.1,315.6 643.8,321.5 649.7,322.7 654.4,319.2 657.9,314.5 662.6,312.1 668.5,313.3 673.2,316.8 675.6,322.7 679.1,326.2 683.8,328.6 686.1,334.5 687.3,340.4 686.1,346.2 688.5,352.1 692.0,355.6 696.7,354.5 701.4,350.9 706.1,348.6 710.8,346.2 714.4,341.5 717.9,336.8 723.8,333.3 730.8,332.1 736.7,333.3 742.6,330.9 746.1,325.1 749.7,319.2 753.2,310.9 754.4,303.9 757.9,298.0 760.2,292.1 766.1,289.8 766.1,276.8"/><polygon fill="#000080" points="590.9,276.8 596.8,281.5 603.8,283.9 609.7,287.4 614.4,290.9 617.9,295.6 619.8,301.5 622.6,307.4 627.3,309.8 633.2,312.1 639.1,315.6 643.8,321.5 649.7,322.7 654.4,319.2 657.9,314.5 662.6,312.1 668.5,313.3 673.2,316.8 675.6,322.7 679.1,326.2 683.8,328.6 686.1,334.5 687.3,340.4 686.1,346.2 688.5,352.1 692.0,355.6 696.7,354.5 701.4,350.9 706.1,348.6 710.8,346.2 714.4,341.5 717.9,336.8 723.8,333.3 730.8,332.1 736.7,333.3 742.6,330.9 746.1,325.1 749.7,319.2 753.2,310.9 754.4,303.9 757.9,298.0 760.2,292.1 766.1,289.8 766.1,276.8"/><polygon fill="#0000cd" points="681.4,276.8 681.4,285.1 679.1,292.1 683.8,301.5 690.8,303.9 697.9,296.8 705.0,293.3 712.0,292.1 721.4,294.5 728.5,292.1 737.9,289.8 747.3,287.4 756.7,285.1 766.1,283.9 766.1,276.8"/><polygon fill="#000080" points="700.3,276.8 703.8,283.9 712.0,287.4 723.8,288.6 733.2,286.2 744.9,283.9 752.0,280.4 753.2,276.8"/><polygon fill="#0000cd" points="695.6,292.1 702.6,289.8 709.7,293.3 708.5,301.5 706.1,308.6 709.7,315.6 708.5,325.1 702.6,328.6 697.9,323.9 700.3,315.6 699.1,306.2 695.6,300.4"/><polygon fill="#0000cd" points="721.4,292.1 730.8,288.6 742.6,287.4 752.0,289.8 756.7,295.6 753.2,303.9 748.5,301.5 742.6,302.7 735.5,307.4 730.8,313.3 726.1,320.4 723.8,328.6 720.3,333.3 716.7,329.8 720.3,322.7 722.6,313.3 722.6,301.5"/><polygon fill="#6495ed" points="682.6,287.4 686.1,283.2 692.0,282.7 696.7,286.2 695.6,292.1 690.8,295.6 688.5,300.4 685.0,298.0 683.3,292.1"/><polygon fill="#00bfff" points="684.5,288.6 687.3,285.1 690.8,286.2 689.7,290.9 686.1,293.3"/><polygon fill="#add8e6" points="685.7,288.6 688.5,286.2 689.7,289.3 686.8,291.6"/><polygon fill="#6495ed" points="709.7,296.8 714.4,294.5 719.1,298.0 721.4,306.2 720.3,315.6 716.7,323.9 712.0,325.1 709.2,318.0 708.5,308.6 707.8,301.5"/><polygon fill="#00bfff" points="712.0,301.5 715.5,300.4 717.2,308.6 715.5,316.8 712.5,319.2 711.1,310.9"/><polygon fill="#add8e6" points="712.5,303.9 714.8,303.4 715.5,309.8 713.4,313.3"/><polygon fill="#6495ed" points="721.9,328.6 725.0,327.4 726.6,331.6 723.8,334.5 721.4,332.6"/><polygon fill="#6495ed" points="696.7,318.0 700.3,316.8 701.4,323.9 699.1,328.6 696.7,325.1"/><polygon fill="#6495ed" points="756.7,292.1 761.4,288.6 766.1,287.4 766.1,295.6 759.1,299.2"/><polygon fill="#add8e6" points="653.2,343.9 656.7,342.0 658.4,346.2 657.4,353.8 652.7,353.3 651.6,348.6"/><polygon fill="#add8e6" points="679.6,365.5 681.9,363.2 684.3,365.5 681.9,367.9"/><polygon fill="#add8e6" points="746.1,349.8 749.7,349.8 749.7,355.6 746.1,355.6"/><polygon fill="#add8e6" points="759.1,366.2 766.1,365.1 766.1,390.9 760.2,388.6 756.7,381.5 759.1,376.8 757.9,370.9"/><polygon fill="#00bfff" points="760.9,376.8 766.1,375.6 766.1,388.6 761.4,386.2"/><polygon fill="#add8e6" points="748.5,393.3 752.0,393.3 752.0,400.4 748.5,400.4"/><polygon fill="#add8e6" points="743.8,414.5 746.1,408.6 750.8,403.9 756.7,401.5 766.1,400.4 766.1,414.5"/><polygon fill="#00bfff" points="747.3,414.5 749.7,408.6 754.4,405.1 766.1,402.7 766.1,414.5"/><polygon fill="#6495ed" points="752.0,414.5 754.4,408.6 766.1,406.2 766.1,414.5"/><polygon fill="#0000cd" points="756.7,414.5 759.1,409.8 766.1,408.6 766.1,414.5"/></g>
<g clip-path="url(#c13)"><polygon fill="#add8e6" points="727.3,430.5 729.7,424.6 734.4,418.7 740.2,412.8 766.1,412.8 766.1,423.4 760.2,428.1 756.7,434.0 750.8,435.6 746.1,432.8 742.6,428.1 737.9,430.5 733.2,434.0 728.5,433.3"/><polygon fill="#00bfff" points="735.5,421.1 741.4,415.2 746.1,412.8 766.1,412.8 762.6,421.1 757.9,426.9 754.4,431.6 749.7,432.4 746.1,428.1 741.4,424.6 736.7,425.8"/><polygon fill="#00bfff" points="730.8,428.6 734.4,427.6 735.1,430.9 731.5,431.9"/><polygon fill="#6495ed" points="741.4,418.7 747.3,412.8 766.1,412.8 761.4,419.9 756.7,425.8 752.0,429.3 747.3,425.8 742.6,422.2"/><polygon fill="#4169e1" points="746.1,417.5 750.8,412.8 766.1,412.8 760.2,419.2 754.4,424.6 749.7,424.6 746.8,421.1"/><polygon fill="#0000cd" points="750.8,416.4 754.4,412.8 766.1,412.8 762.6,416.4 756.7,420.6 752.0,419.9"/><polygon fill="#000080" points="754.4,415.2 756.7,412.8 766.1,412.8 761.4,415.9 756.7,417.5"/><polygon fill="#add8e6" points="679.1,464.6 682.6,459.9 688.5,455.9 696.7,453.5 704.5,452.1 705.0,455.9 699.1,458.7 693.2,462.2 692.0,469.3 686.1,470.5 682.6,474.0 683.3,478.7 676.7,480.4 674.4,475.6 677.9,471.6 681.4,469.3"/><polygon fill="#00bfff" points="695.1,454.7 700.3,454.2 700.3,456.6 695.6,457.1"/><polygon fill="#00bfff" points="676.7,473.8 682.6,472.8 682.6,476.6 677.2,477.1"/><polygon fill="#add8e6" points="664.5,481.1 669.7,478.0 674.9,479.4 674.4,482.7 668.5,485.1 664.5,484.1"/><polygon fill="#00bfff" points="667.3,480.1 670.9,479.6 670.9,481.5 667.8,482.0"/><polygon fill="#add8e6" points="666.2,493.5 672.0,491.2 676.7,491.6 675.6,494.5 668.5,495.9"/><polygon fill="#add8e6" points="698.4,502.9 703.8,502.2 706.1,503.9 701.4,505.3"/><polygon fill="#add8e6" points="708.5,503.4 712.0,504.6 712.5,508.1 709.7,509.3 708.0,506.9"/><polygon fill="#add8e6" points="709.2,457.3 713.9,457.1 713.9,459.2 709.7,459.4"/><polygon fill="#add8e6" points="721.0,451.6 725.7,451.6 725.7,453.5 721.4,453.5"/><polygon fill="#add8e6" points="658.4,474.5 661.7,474.5 661.7,476.1 658.4,476.1"/></g>
<g clip-path="url(#c20)"></g>
<g clip-path="url(#c21)"><polygon fill="#add8e6" points="769.9,143.9 774.6,143.2 775.8,146.2 771.1,146.7"/><polygon fill="#add8e6" points="767.5,222.0 772.2,223.2 772.2,227.9 767.5,227.2"/><polygon fill="#add8e6" points="764.0,240.8 769.9,243.2 774.6,247.9 778.1,253.8 781.6,259.6 784.0,266.7 787.5,273.8 792.2,278.5 762.8,278.5"/><polygon fill="#00bfff" points="762.8,244.4 768.7,245.5 772.2,249.1 771.1,253.8 762.8,252.6"/><polygon fill="#add8e6" points="825.2,258.5 829.9,258.0 830.3,260.8 825.6,261.3"/><polygon fill="#add8e6" points="832.2,210.2 834.6,205.5 840.4,202.0 847.5,200.8 854.6,204.4 858.1,210.2 862.8,214.9 867.5,217.3 873.4,223.2 872.2,227.9 867.5,224.4 861.6,224.4 856.9,219.6 853.4,212.6 848.7,207.9 844.0,207.9 840.4,212.6 842.8,219.6 846.3,223.2 849.9,229.1 852.2,236.1 854.6,243.2 859.3,247.9 861.6,252.6 860.4,259.6 864.0,262.0 867.5,266.7 866.3,272.6 858.1,273.8 853.4,270.2 852.2,264.4 848.7,259.6 845.1,252.6 844.0,245.5 839.3,238.5 836.9,231.4 834.6,224.4 833.4,217.3"/><polygon fill="#00bfff" points="841.6,228.6 845.9,227.9 847.7,232.6 845.1,235.2 842.1,233.3"/><polygon fill="#00bfff" points="843.0,236.6 846.3,236.1 846.3,239.4 843.5,239.6"/><polygon fill="#add8e6" points="856.9,203.6 862.8,206.7 869.8,212.6 876.9,213.8 875.7,218.5 867.5,218.5 860.4,212.6"/><polygon fill="#00bfff" points="859.3,205.5 865.1,209.1 871.0,212.6 874.1,212.6 872.7,216.1 867.5,216.1 861.6,211.4"/><polygon fill="#add8e6" stroke="#add8e6" stroke-width="9.8" stroke-linejoin="round" points="788.7,152.6 793.4,148.6 799.3,149.1 805.2,151.4 811.0,154.9 818.1,159.6 825.2,165.5 832.2,170.2 839.3,174.9 845.1,179.6 851.0,184.4 858.1,189.1 864.0,193.8 868.7,199.6 872.2,205.5 872.7,210.2 868.7,212.6 864.0,209.1 860.4,204.4 855.7,200.8 849.9,197.3 844.0,194.9 838.8,194.2 834.6,190.2 827.5,185.5 820.5,180.8 814.6,176.1 808.7,171.4 801.6,166.7 795.8,162.0 791.0,158.5"/><polygon fill="#00bfff" stroke="#00bfff" stroke-width="6.7" stroke-linejoin="round" points="788.7,152.6 793.4,148.6 799.3,149.1 805.2,151.4 811.0,154.9 818.1,159.6 825.2,165.5 832.2,170.2 839.3,174.9 845.1,179.6 851.0,184.4 858.1,189.1 864.0,193.8 868.7,199.6 872.2,205.5 872.7,210.2 868.7,212.6 864.0,209.1 860.4,204.4 855.7,200.8 849.9,197.3 844.0,194.9 838.8,194.2 834.6,190.2 827.5,185.5 820.5,180.8 814.6,176.1 808.7,171.4 801.6,166.7 795.8,162.0 791.0,158.5"/><polygon fill="#6495ed" stroke="#6495ed" stroke-width="4.2" stroke-linejoin="round" points="788.7,152.6 793.4,148.6 799.3,149.1 805.2,151.4 811.0,154.9 818.1,159.6 825.2,165.5 832.2,170.2 839.3,174.9 845.1,179.6 851.0,184.4 858.1,189.1 864.0,193.8 868.7,199.6 872.2,205.5 872.7,210.2 868.7,212.6 864.0,209.1 860.4,204.4 855.7,200.8 849.9,197.3 844.0,194.9 838.8,194.2 834.6,190.2 827.5,185.5 820.5,180.8 814.6,176.1 808.7,171.4 801.6,166.7 795.8,162.0 791.0,158.5"/><polygon fill="#4169e1" stroke="#4169e1" stroke-width="2.6" stroke-linejoin="round" points="788.7,152.6 793.4,148.6 799.3,149.1 805.2,151.4 811.0,154.9 818.1,159.6 825.2,165.5 832.2,170.2 839.3,174.9 845.1,179.6 851.0,184.4 858.1,189.1 864.0,193.8 868.7,199.6 872.2,205.5 872.7,210.2 868.7,212.6 864.0,209.1 860.4,204.4 855.7,200.8 849.9,197.3 844.0,194.9 838.8,194.2 834.6,190.2 827.5,185.5 820.5,180.8 814.6,176.1 808.7,171.4 801.6,166.7 795.8,162.0 791.0,158.5"/><polygon fill="#0000cd" stroke="#0000cd" stroke-width="1.3" stroke-linejoin="round" points="788.7,152.6 793.4,148.6 799.3,149.1 805.2,151.4 811.0,154.9 818.1,159.6 825.2,165.5 832.2,170.2 839.3,174.9 845.1,179.6 851.0,184.4 858.1,189.1 864.0,193.8 868.7,199.6 872.2,205.5 872.7,210.2 868.7,212.6 864.0,209.1 860.4,204.4 855.7,200.8 849.9,197.3 844.0,194.9 838.8,194.2 834.6,190.2 827.5,185.5 820.5,180.8 814.6,176.1 808.7,171.4 801.6,166.7 795.8,162.0 791.0,158.5"/><polygon fill="#000080" points="788.7,152.6 793.4,148.6 799.3,149.1 805.2,151.4 811.0,154.9 818.1,159.6 825.2,165.5 832.2,170.2 839.3,174.9 845.1,179.6 851.0,184.4 858.1,189.1 864.0,193.8 868.7,199.6 872.2,205.5 872.7,210.2 868.7,212.6 864.0,209.1 860.4,204.4 855.7,200.8 849.9,197.3 844.0,194.9 838.8,194.2 834.6,190.2 827.5,185.5 820.5,180.8 814.6,176.1 808.7,171.4 801.6,166.7 795.8,162.0 791.0,158.5"/><polygon fill="#00bfff" stroke="#00bfff" stroke-width="5.0" stroke-linejoin="round" points="821.6,197.3 828.7,191.4 834.6,192.6 837.4,197.3 832.2,202.0 826.3,203.6"/><polygon fill="#6495ed" stroke="#6495ed" stroke-width="3.1" stroke-linejoin="round" points="821.6,197.3 828.7,191.4 834.6,192.6 837.4,197.3 832.2,202.0 826.3,203.6"/><polygon fill="#4169e1" stroke="#4169e1" stroke-width="1.9" stroke-linejoin="round" points="821.6,197.3 828.7,191.4 834.6,192.6 837.4,197.3 832.2,202.0 826.3,203.6"/><polygon fill="#0000cd" stroke="#0000cd" stroke-width="1.0" stroke-linejoin="round" points="821.6,197.3 828.7,191.4 834.6,192.6 837.4,197.3 832.2,202.0 826.3,203.6"/><polygon fill="#000080" points="821.6,197.3 828.7,191.4 834.6,192.6 837.4,197.3 832.2,202.0 826.3,203.6"/><polygon fill="#add8e6" points="878.1,212.6 884.0,210.7 892.2,212.6 898.1,219.6 899.2,226.7 893.4,232.6 891.0,240.8 888.7,236.1 887.5,230.2 881.6,224.4 878.8,218.5"/><polygon fill="#00bfff" points="879.3,213.8 885.1,212.1 892.2,214.9 895.7,220.8 894.5,227.9 889.8,230.9 884.0,224.4 880.4,219.6"/><polygon fill="#6495ed" points="881.1,214.9 886.3,213.8 891.0,216.8 892.9,222.0 889.8,225.5 885.1,223.2 882.1,219.2"/><polygon fill="#0000cd" points="882.8,216.1 886.3,215.4 888.7,218.5 886.3,220.8 883.5,219.2"/><polygon fill="#add8e6" points="919.2,237.3 926.3,236.1 933.4,238.5 939.2,242.0 947.5,243.2 956.9,242.7 963.9,242.0 973.3,242.5 981.6,244.8 987.5,247.2 996.9,248.4 1007.4,248.8 1013.3,249.8 1019.2,254.5 1026.3,257.8 1036.8,260.1 1046.3,261.3 1056.8,262.5 1063.9,264.8 1071.0,268.6 1076.4,273.8 1079.2,278.5 952.2,278.5 945.1,273.8 938.1,269.1 933.4,263.2 928.6,254.9 923.9,247.9 920.4,242.0"/><polygon fill="#00bfff" points="925.1,242.0 931.0,240.8 938.1,244.4 946.3,245.5 952.2,245.5 963.9,243.2 973.3,243.4 981.6,245.5 987.5,247.9 996.9,249.1 1007.4,249.8 1012.9,250.7 1018.5,255.4 1025.6,258.7 1036.8,261.1 1046.3,262.2 1056.1,263.4 1063.2,265.8 1070.2,269.5 1075.4,274.2 1077.8,278.5 954.5,278.5 947.5,272.6 941.6,267.9 936.9,262.0 932.2,254.9 927.5,247.9"/><polygon fill="#6495ed" points="928.6,245.5 934.5,245.5 940.4,249.1 946.3,250.2 952.2,247.9 963.9,243.9 1006.3,250.2 1013.3,254.9 999.2,278.5 959.2,278.5 952.2,271.4 946.3,266.7 940.4,260.8 935.7,254.9 931.5,250.2"/><polygon fill="#4169e1" points="942.8,255.4 949.8,254.5 955.0,258.5 952.2,262.5 945.1,260.8"/><polygon fill="#4169e1" points="959.2,260.8 966.3,259.6 969.8,264.4 966.3,267.9 960.4,266.2"/><polygon fill="#4169e1" points="963.9,270.2 971.0,269.1 976.9,273.8 975.7,278.5 966.3,278.5"/><polygon fill="#00bfff" points="960.4,257.3 968.6,256.8 975.7,260.8 976.9,269.1 971.0,267.9 967.5,262.0 961.6,259.6"/><polygon fill="#add8e6" points="979.2,270.2 986.3,269.1 995.7,272.6 1001.6,278.5 981.6,278.5"/><polygon fill="#ffffff" points="981.6,271.9 986.3,270.9 989.8,274.2 988.6,278.5 982.7,278.5"/><polygon fill="#0000cd" points="947.5,249.8 953.3,245.1 963.9,243.2 973.3,243.4 981.6,245.8 987.5,248.1 996.9,249.3 1007.4,249.8 1012.9,250.7 1018.5,255.4 1025.6,258.7 1036.8,261.1 1046.3,262.2 1056.1,263.4 1063.2,265.8 1070.2,269.5 1075.4,274.2 1077.8,278.5 1006.3,278.5 999.2,273.8 993.3,267.9 986.3,262.5 981.6,259.2 975.7,257.3 968.6,255.9 961.6,255.2 953.3,254.5"/><polygon fill="#000080" points="949.8,249.1 954.5,245.5 963.9,243.9 973.3,244.4 980.4,246.7 986.3,249.1 996.9,250.2 1006.3,250.7 1012.2,251.4 1018.0,256.1 1025.1,259.6 1036.8,262.0 1046.3,263.2 1055.7,264.4 1062.7,266.7 1069.8,270.2 1074.5,274.9 1076.8,278.5 1008.6,278.5 1001.6,273.8 994.5,267.9 987.5,262.0 982.7,258.5 975.7,256.1 968.6,254.5 961.6,253.8 954.5,253.1"/></g>
<g clip-path="url(#c22)"><polygon fill="#add8e6" points="762.8,276.8 1112.1,276.8 1112.1,415.6 762.8,415.6"/><polygon fill="#ffffff" points="842.8,276.8 845.1,287.4 844.0,294.5 839.3,299.2 841.6,306.2 836.9,312.1 829.9,313.3 822.8,318.0 816.9,321.5 821.6,323.9 829.9,321.5 836.9,323.9 841.6,328.6 847.5,325.1 853.4,323.9 854.6,328.6 851.0,334.5 852.2,340.4 858.1,341.5 865.1,345.1 872.2,346.2 876.9,341.5 881.6,338.0 886.3,334.5 888.7,328.6 892.2,326.2 895.7,330.9 902.8,330.9 907.5,333.3 914.5,332.1 919.2,328.6 923.9,326.2 928.6,328.6 933.4,325.1 938.1,321.5 939.2,315.6 936.9,310.9 938.1,303.9 936.9,296.8 938.1,292.1 942.8,289.8 952.2,290.9 963.9,292.1 973.3,294.5 985.1,290.9 999.2,288.6 1008.6,290.9 1008.6,276.8"/><polygon fill="#ffffff" points="947.5,292.1 952.2,290.9 963.9,292.1 973.3,294.5 978.0,299.2 974.5,303.9 971.0,308.6 968.6,313.3 967.5,320.4 969.8,327.4 972.2,334.5 968.6,333.3 963.9,325.1 959.2,316.8 954.5,310.9 949.8,303.9 945.1,298.0"/><polygon fill="#ffffff" points="1008.6,292.1 1013.3,295.6 1019.2,301.5 1025.1,308.6 1032.1,315.6 1039.2,323.9 1046.3,330.9 1053.3,338.0 1060.4,346.2 1067.4,354.5 1074.5,362.7 1080.4,370.9 1086.2,379.2 1090.9,386.2 1092.1,392.1 1088.6,390.9 1081.5,383.9 1074.5,376.8 1067.4,369.8 1060.4,362.7 1054.5,355.6 1049.8,348.6 1046.3,341.5 1040.4,335.6 1034.5,330.9 1027.4,323.9 1020.4,315.6 1013.3,306.2 1009.8,299.2"/><polygon fill="#ffffff" points="988.6,325.1 995.7,322.7 1001.6,318.0 1006.3,323.9 1003.9,330.9 1007.4,335.6 1001.6,339.2 994.5,334.5 989.8,330.9"/><polygon fill="#ffffff" points="832.2,345.1 838.1,341.5 844.0,343.9 846.3,349.8 842.8,356.8 835.7,358.0 832.2,352.1"/><polygon fill="#ffffff" points="802.8,280.4 807.5,279.2 813.4,283.9 814.6,288.6 809.9,289.8 805.2,286.2"/><polygon fill="#ffffff" points="762.8,406.2 767.5,406.9 768.7,415.6 762.8,415.6"/><polygon fill="#ffffff" points="764.0,355.6 769.9,354.5 773.4,359.2 771.1,363.9 765.2,362.7"/><polygon fill="#ffffff" points="799.3,355.6 805.2,353.3 809.9,358.0 807.5,363.9 801.6,363.2"/><polygon fill="#00bfff" points="764.0,301.5 771.1,294.5 780.5,289.8 789.9,287.4 796.9,289.8 799.3,295.6 805.2,298.0 813.4,295.6 820.5,293.3 826.3,296.8 828.7,303.9 825.2,309.8 820.5,313.3 814.6,316.8 809.9,321.5 805.2,326.2 811.0,328.6 819.3,328.6 826.3,330.9 829.9,336.8 826.3,342.7 820.5,346.2 815.7,350.9 819.3,355.6 826.3,356.8 828.7,361.5 824.0,365.1 816.9,362.7 811.0,360.4 806.3,356.8 801.6,353.3 795.8,349.8 792.2,345.1 795.8,339.2 799.3,334.5 796.9,329.8 792.2,333.3 787.5,339.2 785.2,346.2 787.5,353.3 792.2,359.2 796.9,363.9 804.0,367.4 813.4,368.6 822.8,367.4 834.6,365.1 846.3,361.5 858.1,358.0 859.3,352.1 865.1,349.8 874.6,350.9 886.3,349.8 898.1,350.9 907.5,348.6 909.8,345.1 916.9,343.9 926.3,345.1 933.4,348.6 939.2,345.1 942.8,340.4 949.8,338.0 952.2,333.3 949.8,328.6 952.2,321.5 956.9,320.4 959.2,325.1 956.9,330.9 959.2,336.8 963.9,341.5 968.6,346.2 973.3,350.9 976.9,346.2 974.5,336.8 973.3,328.6 976.9,330.9 979.2,338.0 982.7,343.9 989.8,346.2 996.9,348.6 1003.9,346.2 1011.0,343.9 1016.9,348.6 1022.7,355.6 1029.8,359.2 1036.8,362.7 1042.7,367.4 1048.6,372.1 1053.3,378.0 1058.0,382.7 1063.9,386.2 1069.8,388.6 1076.8,390.9 1083.9,393.3 1093.3,395.6 1112.1,395.6 1112.1,415.6 778.1,415.6 773.4,405.1 768.7,390.9 766.4,379.2 762.8,376.8"/><polygon fill="#00bfff" points="976.9,300.4 981.6,296.8 987.5,294.5 994.5,295.6 1001.6,299.2 1006.3,303.9 1007.4,310.9 1003.9,316.8 999.2,314.5 995.7,308.6 989.8,307.4 985.1,309.8 980.4,306.2"/><polygon fill="#00bfff" points="996.9,315.6 1001.6,318.0 1006.3,322.7 1009.8,329.8 1011.0,336.8 1007.4,335.6 1003.9,328.6 999.2,322.7"/><polygon fill="#00bfff" points="818.1,281.5 824.0,280.4 828.7,285.1 826.3,289.8 820.5,288.6"/><polygon fill="#00bfff" points="1008.6,287.4 1014.5,293.3 1020.4,300.4 1027.4,307.4 1034.5,314.5 1041.6,322.7 1048.6,329.8 1055.7,338.0 1062.7,346.2 1069.8,354.5 1076.8,362.7 1082.7,370.9 1088.6,379.2 1093.3,386.2 1098.0,390.5 1112.1,393.3 1112.1,276.8 1008.6,276.8"/><polygon fill="#6495ed" points="764.0,379.2 773.4,374.5 782.8,370.9 792.2,368.6 801.6,369.8 811.0,370.9 822.8,369.8 834.6,368.6 846.3,366.2 858.1,363.9 869.8,361.5 881.6,360.4 893.4,361.5 905.1,363.9 914.5,361.5 923.9,360.4 928.6,363.9 933.4,368.6 942.8,369.8 952.2,367.4 959.2,365.1 966.3,358.0 971.0,353.3 975.7,348.6 980.4,350.9 987.5,353.3 994.5,355.6 1001.6,353.3 1008.6,350.9 1013.3,355.6 1019.2,360.4 1025.1,363.9 1032.1,367.4 1038.0,372.1 1043.9,376.8 1048.6,381.5 1054.5,386.2 1060.4,389.8 1067.4,393.3 1074.5,395.6 1083.9,398.0 1093.3,399.2 1112.1,400.4 1112.1,415.6 782.8,415.6 778.1,405.1 771.1,390.9"/><polygon fill="#6495ed" points="762.8,313.3 768.7,306.2 775.8,302.7 784.0,303.9 789.9,308.6 794.6,315.6 796.9,322.7 793.4,328.6 787.5,330.9 782.8,336.8 778.1,340.4 773.4,336.8 767.5,333.3 762.8,330.9"/><polygon fill="#6495ed" points="795.8,298.0 801.6,294.5 807.5,300.4 814.6,298.0 821.6,300.4 825.2,305.1 822.8,310.9 816.9,313.3 811.0,310.9 805.2,313.3 799.3,310.9 795.8,305.1"/><polygon fill="#6495ed" points="773.4,348.6 780.5,345.1 786.3,348.6 787.5,355.6 782.8,360.4 776.9,358.0"/><polygon fill="#6495ed" points="1009.8,283.9 1016.9,292.1 1022.7,299.2 1029.8,306.2 1036.8,313.3 1043.9,321.5 1051.0,328.6 1058.0,336.8 1065.1,345.1 1072.1,353.3 1079.2,361.5 1085.1,369.8 1090.9,378.0 1098.0,385.1 1105.1,389.8 1112.1,390.9 1112.1,276.8 1008.6,276.8"/><polygon fill="#4169e1" points="787.5,415.6 782.8,405.1 775.8,388.6 775.8,381.5 787.5,379.2 799.3,381.5 811.0,382.7 822.8,381.5 834.6,379.2 846.3,378.0 858.1,376.8 869.8,375.6 881.6,376.8 891.0,379.2 900.4,376.8 909.8,372.1 919.2,368.6 928.6,369.8 938.1,372.1 947.5,370.9 956.9,368.6 966.3,365.1 975.7,363.9 985.1,366.2 994.5,368.6 1003.9,367.4 1013.3,369.8 1022.7,372.1 1032.1,376.8 1041.6,382.7 1051.0,388.6 1060.4,394.5 1069.8,398.0 1081.5,401.5 1093.3,403.9 1112.1,405.1 1112.1,415.6"/><polygon fill="#4169e1" points="766.4,315.6 771.1,310.9 778.1,309.8 784.0,313.3 786.3,319.2 782.8,325.1 776.9,327.4 771.1,326.2 766.8,321.5"/><polygon fill="#4169e1" points="1011.0,280.4 1018.0,288.6 1023.9,295.6 1031.0,301.5 1038.0,306.2 1045.1,313.3 1052.1,320.4 1059.2,326.2 1066.3,333.3 1072.1,341.5 1078.0,349.8 1082.7,358.0 1086.2,366.2 1092.1,374.5 1100.4,381.5 1112.1,383.9 1112.1,276.8 1008.6,276.8"/><polygon fill="#0000cd" points="789.9,415.6 785.2,405.1 780.5,395.6 782.8,388.6 787.5,386.2 799.3,385.1 811.0,388.6 822.8,387.4 834.6,385.1 844.0,383.9 853.4,386.2 862.8,388.6 872.2,389.8 881.6,390.9 891.0,388.6 900.4,383.9 909.8,380.4 919.2,376.8 928.6,374.5 938.1,376.8 947.5,374.5 956.9,370.9 961.6,367.4 968.6,368.6 978.0,369.8 985.1,374.5 989.8,381.5 996.9,385.1 1003.9,388.6 1011.0,390.9 1022.7,393.3 1034.5,395.6 1046.3,400.4 1058.0,405.1 1069.8,408.6 1081.5,412.1 1093.3,415.6"/><polygon fill="#0000cd" points="768.7,318.0 773.4,314.5 779.3,316.8 780.5,321.5 775.8,324.6 770.6,323.2"/><polygon fill="#0000cd" points="1008.6,276.8 1013.3,283.9 1019.2,289.8 1025.1,295.6 1032.1,299.2 1038.0,298.0 1043.9,301.5 1051.0,306.2 1058.0,309.8 1063.9,313.3 1068.6,319.2 1074.5,322.7 1081.5,322.7 1088.6,325.1 1095.7,330.9 1102.7,336.8 1112.1,340.4 1112.1,276.8"/><polygon fill="#0000cd" points="1074.5,348.6 1081.5,346.2 1088.6,350.9 1093.3,358.0 1098.0,367.4 1093.3,373.3 1086.2,372.1 1081.5,362.7 1076.8,355.6"/><polygon fill="#000080" points="959.2,372.1 963.9,369.8 971.0,372.1 978.0,370.9 983.9,375.6 987.5,381.5 985.1,388.6 978.0,393.3 968.6,392.1 963.9,388.6 956.9,386.2 952.2,381.5 954.5,375.6"/><polygon fill="#000080" points="858.1,393.3 869.8,392.1 881.6,393.3 895.7,395.6 905.1,400.4 895.7,402.7 881.6,401.5 867.5,399.2"/><polygon fill="#000080" points="919.2,378.0 926.3,375.6 933.4,378.0 938.1,382.7 933.4,386.2 926.3,385.1 920.4,382.7"/><polygon fill="#000080" points="987.5,393.3 996.9,390.9 1008.6,394.5 1013.3,400.4 1006.3,405.1 994.5,402.7 987.5,399.2"/><polygon fill="#000080" points="918.1,334.0 921.1,336.8 918.1,339.9 915.0,336.8"/><polygon fill="#000080" points="945.8,328.6 949.1,331.6 945.8,334.7 942.5,331.6"/><polygon fill="#000080" points="962.3,355.6 966.3,359.6 962.3,363.4 958.3,359.6"/><polygon fill="#000080" points="1075.7,339.2 1080.4,334.5 1087.4,335.6 1093.3,340.4 1095.7,347.4 1090.9,352.1 1083.9,350.9 1078.0,346.2"/><polygon fill="#000080" points="1085.8,362.7 1089.8,360.4 1094.5,363.9 1095.2,368.6 1091.4,371.2 1086.7,368.6"/><polygon fill="#000080" points="1093.3,391.4 1098.0,389.8 1102.7,392.1 1099.2,394.9 1094.5,394.5"/><polygon fill="#000080" points="787.5,388.6 796.9,386.7 806.3,388.6 809.9,392.1 804.0,394.5 794.6,393.8 788.7,392.1"/><polygon fill="#000080" points="822.8,393.3 832.2,390.9 839.3,393.3 834.6,396.8 826.3,396.8"/><polygon fill="#000080" points="1013.3,276.8 1019.2,282.7 1025.1,288.6 1032.1,292.1 1039.2,290.9 1046.3,294.5 1053.3,299.2 1060.4,301.5 1067.4,303.9 1072.1,309.8 1079.2,313.3 1086.2,312.1 1093.3,315.6 1100.4,321.5 1112.1,325.1 1112.1,276.8"/><polygon fill="#ffffff" points="1075.0,276.1 1080.6,282.9 1090.9,293.1 1101.1,299.4 1113.3,302.9 1113.3,276.1"/><polygon fill="#add8e6" points="1075.0,276.1 1080.6,282.9 1090.9,293.1 1101.1,299.4 1113.3,302.9 1113.3,300.6 1101.8,297.3 1092.4,291.6 1082.0,281.8 1077.8,276.1"/><polygon fill="#00bfff" points="1075.0,276.1 1080.6,282.9 1090.9,293.1 1101.1,299.4 1113.3,302.9 1113.3,301.8 1101.5,298.5 1091.7,292.4 1081.3,282.5 1076.4,276.1"/></g>
<g clip-path="url(#c23)"><polygon fill="#add8e6" points="785.2,425.8 787.5,419.9 792.2,415.2 794.6,412.8 858.1,412.8 858.1,425.8 844.0,429.3 834.6,432.8 827.5,437.5 821.6,442.2 816.9,446.9 814.6,451.6 811.0,455.2 804.0,457.5 796.9,457.5 794.6,454.0 796.9,449.3 792.2,449.3 787.5,446.9 788.7,442.2 794.6,439.9 800.5,437.5 805.2,434.0 801.6,430.5 799.3,425.8 794.6,424.6 789.9,428.1"/><polygon fill="#add8e6" points="762.8,412.8 787.5,412.8 785.2,418.7 778.1,421.1 771.1,419.9 762.8,421.1"/><polygon fill="#add8e6" points="771.1,449.3 776.9,448.1 780.5,451.6 778.1,455.2 772.2,454.5"/><polygon fill="#add8e6" stroke="#add8e6" stroke-width="7.3" stroke-linejoin="round" points="1112.1,428.1 1102.7,424.6 1093.3,421.1 1081.5,418.7 1069.8,418.2 1058.0,417.5 1046.3,416.8 1034.5,416.4 1022.7,417.5 1011.0,418.7 999.2,419.2 987.5,419.9 975.7,419.2 963.9,418.7 952.2,417.5 940.4,416.4 928.6,415.9 916.9,416.8 905.1,417.5 895.7,417.5 886.3,418.7 876.9,421.1 867.5,422.9 858.1,423.9 851.0,425.8 844.0,428.1 836.9,430.5 831.0,434.0 825.2,437.5 820.5,441.1 815.7,445.8 813.4,449.3 822.8,448.8 832.2,447.6 835.0,451.6 836.4,457.5 839.7,462.2 845.1,462.2 853.4,460.4 860.4,459.2 867.5,457.8 874.6,456.6 880.4,457.8 884.0,461.1 882.1,464.8 877.4,467.2 869.8,468.4 862.8,469.8 855.7,471.9 848.7,474.0 842.8,475.6 838.1,479.9 834.6,485.8 831.0,490.5 828.0,495.2 827.0,501.1 828.7,505.8 833.4,508.1 839.3,510.0 845.1,509.3 851.0,506.9 856.9,504.6 862.8,502.9 869.8,501.5 876.9,500.6 884.0,499.2 891.0,497.5 898.1,496.4 905.1,495.9 914.5,495.2 923.9,496.4 933.4,497.5 942.8,498.2 952.2,499.2 961.6,500.1 971.0,500.6 980.4,499.9 989.8,498.2 999.2,495.2 1006.3,490.5 1011.0,485.8 1015.7,482.2 1022.7,481.1 1032.1,481.1 1041.6,482.2 1048.6,485.8 1053.3,491.6 1058.0,497.5 1062.7,502.2 1067.4,505.8 1072.1,506.9 1079.2,505.8 1088.6,503.9 1098.0,503.2 1112.1,502.7"/><polyline fill="none" stroke="#add8e6" stroke-width="26.8" stroke-linejoin="round" stroke-linecap="round" points="827.0,501.1 828.7,505.8 833.4,508.1 839.3,510.0 845.1,509.3 851.0,506.9 856.9,504.6 862.8,502.9 869.8,501.5 876.9,500.6 884.0,499.2 891.0,497.5 898.1,496.4 905.1,495.9 914.5,495.2 923.9,496.4 933.4,497.5 942.8,498.2 952.2,499.2 961.6,500.1 971.0,500.6 980.4,499.9 989.8,498.2 999.2,495.2 1006.3,490.5 1011.0,485.8 1015.7,482.2 1022.7,481.1 1032.1,481.1 1041.6,482.2"/><polyline fill="none" stroke="#add8e6" stroke-width="18.3" stroke-linejoin="round" stroke-linecap="round" points="1041.6,482.2 1048.6,485.8 1053.3,491.6 1058.0,497.5 1062.7,502.2 1067.4,505.8 1072.1,506.9 1079.2,505.8 1088.6,503.9 1098.0,503.2 1112.1,502.7"/><polygon fill="#add8e6" points="814.6,504.6 818.1,498.7 825.2,497.5 828.7,506.9 834.6,510.5 841.6,512.8 839.3,517.5 829.9,516.4 820.5,514.0 813.9,510.5"/><polygon fill="#ffffff" points="801.6,420.6 809.9,419.2 818.1,421.1 816.9,424.6 808.7,425.3 802.8,423.9"/><polygon fill="#00bfff" points="762.8,412.8 778.1,412.8 775.8,416.8 768.7,417.5 762.8,418.2"/><polygon fill="#00bfff" points="794.6,452.8 799.3,446.9 805.2,441.1 811.0,435.2 818.1,429.3 825.2,424.6 832.2,419.9 834.6,412.8 858.1,412.8 858.1,424.6 844.0,428.6 834.6,432.4 827.5,437.1 821.6,441.8 816.9,446.5 813.9,451.2 809.9,454.5 802.8,456.4 796.9,455.9"/><polygon fill="#00bfff" stroke="#00bfff" stroke-width="5.0" stroke-linejoin="round" points="1112.1,428.1 1102.7,424.6 1093.3,421.1 1081.5,418.7 1069.8,418.2 1058.0,417.5 1046.3,416.8 1034.5,416.4 1022.7,417.5 1011.0,418.7 999.2,419.2 987.5,419.9 975.7,419.2 963.9,418.7 952.2,417.5 940.4,416.4 928.6,415.9 916.9,416.8 905.1,417.5 895.7,417.5 886.3,418.7 876.9,421.1 867.5,422.9 858.1,423.9 851.0,425.8 844.0,428.1 836.9,430.5 831.0,434.0 825.2,437.5 820.5,441.1 815.7,445.8 813.4,449.3 822.8,448.8 832.2,447.6 835.0,451.6 836.4,457.5 839.7,462.2 845.1,462.2 853.4,460.4 860.4,459.2 867.5,457.8 874.6,456.6 880.4,457.8 884.0,461.1 882.1,464.8 877.4,467.2 869.8,468.4 862.8,469.8 855.7,471.9 848.7,474.0 842.8,475.6 838.1,479.9 834.6,485.8 831.0,490.5 828.0,495.2 827.0,501.1 828.7,505.8 833.4,508.1 839.3,510.0 845.1,509.3 851.0,506.9 856.9,504.6 862.8,502.9 869.8,501.5 876.9,500.6 884.0,499.2 891.0,497.5 898.1,496.4 905.1,495.9 914.5,495.2 923.9,496.4 933.4,497.5 942.8,498.2 952.2,499.2 961.6,500.1 971.0,500.6 980.4,499.9 989.8,498.2 999.2,495.2 1006.3,490.5 1011.0,485.8 1015.7,482.2 1022.7,481.1 1032.1,481.1 1041.6,482.2 1048.6,485.8 1053.3,491.6 1058.0,497.5 1062.7,502.2 1067.4,505.8 1072.1,506.9 1079.2,505.8 1088.6,503.9 1098.0,503.2 1112.1,502.7"/><polyline fill="none" stroke="#00bfff" stroke-width="18.5" stroke-linejoin="round" stroke-linecap="round" points="827.0,501.1 828.7,505.8 833.4,508.1 839.3,510.0 845.1,509.3 851.0,506.9 856.9,504.6 862.8,502.9 869.8,501.5 876.9,500.6 884.0,499.2 891.0,497.5 898.1,496.4 905.1,495.9 914.5,495.2 923.9,496.4 933.4,497.5 942.8,498.2 952.2,499.2 961.6,500.1 971.0,500.6 980.4,499.9 989.8,498.2 999.2,495.2 1006.3,490.5 1011.0,485.8 1015.7,482.2 1022.7,481.1 1032.1,481.1 1041.6,482.2"/><polyline fill="none" stroke="#00bfff" stroke-width="12.6" stroke-linejoin="round" stroke-linecap="round" points="1041.6,482.2 1048.6,485.8 1053.3,491.6 1058.0,497.5 1062.7,502.2 1067.4,505.8 1072.1,506.9 1079.2,505.8 1088.6,503.9 1098.0,503.2 1112.1,502.7"/><polygon fill="#6495ed" points="798.1,452.8 802.8,446.9 808.7,439.9 814.6,434.0 821.6,428.1 828.7,423.4 836.9,418.7 841.6,412.8 858.1,412.8 858.1,424.6 844.0,428.1 834.6,431.9 827.5,436.6 821.6,441.3 816.9,446.0 813.4,450.5 808.7,453.5 802.8,455.2 799.3,455.2"/><polygon fill="#6495ed" points="1093.3,412.8 1112.1,412.8 1112.1,419.2 1105.1,416.8 1098.0,414.7"/><polygon fill="#6495ed" stroke="#6495ed" stroke-width="3.1" stroke-linejoin="round" points="1112.1,428.1 1102.7,424.6 1093.3,421.1 1081.5,418.7 1069.8,418.2 1058.0,417.5 1046.3,416.8 1034.5,416.4 1022.7,417.5 1011.0,418.7 999.2,419.2 987.5,419.9 975.7,419.2 963.9,418.7 952.2,417.5 940.4,416.4 928.6,415.9 916.9,416.8 905.1,417.5 895.7,417.5 886.3,418.7 876.9,421.1 867.5,422.9 858.1,423.9 851.0,425.8 844.0,428.1 836.9,430.5 831.0,434.0 825.2,437.5 820.5,441.1 815.7,445.8 813.4,449.3 822.8,448.8 832.2,447.6 835.0,451.6 836.4,457.5 839.7,462.2 845.1,462.2 853.4,460.4 860.4,459.2 867.5,457.8 874.6,456.6 880.4,457.8 884.0,461.1 882.1,464.8 877.4,467.2 869.8,468.4 862.8,469.8 855.7,471.9 848.7,474.0 842.8,475.6 838.1,479.9 834.6,485.8 831.0,490.5 828.0,495.2 827.0,501.1 828.7,505.8 833.4,508.1 839.3,510.0 845.1,509.3 851.0,506.9 856.9,504.6 862.8,502.9 869.8,501.5 876.9,500.6 884.0,499.2 891.0,497.5 898.1,496.4 905.1,495.9 914.5,495.2 923.9,496.4 933.4,497.5 942.8,498.2 952.2,499.2 961.6,500.1 971.0,500.6 980.4,499.9 989.8,498.2 999.2,495.2 1006.3,490.5 1011.0,485.8 1015.7,482.2 1022.7,481.1 1032.1,481.1 1041.6,482.2 1048.6,485.8 1053.3,491.6 1058.0,497.5 1062.7,502.2 1067.4,505.8 1072.1,506.9 1079.2,505.8 1088.6,503.9 1098.0,503.2 1112.1,502.7"/><polyline fill="none" stroke="#6495ed" stroke-width="11.4" stroke-linejoin="round" stroke-linecap="round" points="827.0,501.1 828.7,505.8 833.4,508.1 839.3,510.0 845.1,509.3 851.0,506.9 856.9,504.6 862.8,502.9 869.8,501.5 876.9,500.6 884.0,499.2 891.0,497.5 898.1,496.4 905.1,495.9 914.5,495.2 923.9,496.4 933.4,497.5 942.8,498.2 952.2,499.2 961.6,500.1 971.0,500.6 980.4,499.9 989.8,498.2 999.2,495.2 1006.3,490.5 1011.0,485.8 1015.7,482.2 1022.7,481.1 1032.1,481.1 1041.6,482.2"/><polyline fill="none" stroke="#6495ed" stroke-width="7.8" stroke-linejoin="round" stroke-linecap="round" points="1041.6,482.2 1048.6,485.8 1053.3,491.6 1058.0,497.5 1062.7,502.2 1067.4,505.8 1072.1,506.9 1079.2,505.8 1088.6,503.9 1098.0,503.2 1112.1,502.7"/><polygon fill="#6495ed" points="1001.6,496.4 1008.6,490.5 1013.3,484.6 1020.4,482.7 1032.1,482.7 1041.6,484.1 1047.4,488.1 1052.1,494.0 1049.8,496.4 1043.9,491.6 1034.5,488.1 1022.7,487.4 1015.7,490.5 1009.8,496.4 1003.9,499.9"/><polygon fill="#4169e1" points="1076.8,412.8 1112.1,412.8 1112.1,423.4 1102.7,420.6 1093.3,417.5 1083.9,415.2"/><polygon fill="#4169e1" points="942.8,412.8 999.2,412.8 996.9,416.8 975.7,417.5 952.2,416.4"/><polygon fill="#4169e1" stroke="#4169e1" stroke-width="1.9" stroke-linejoin="round" points="1112.1,428.1 1102.7,424.6 1093.3,421.1 1081.5,418.7 1069.8,418.2 1058.0,417.5 1046.3,416.8 1034.5,416.4 1022.7,417.5 1011.0,418.7 999.2,419.2 987.5,419.9 975.7,419.2 963.9,418.7 952.2,417.5 940.4,416.4 928.6,415.9 916.9,416.8 905.1,417.5 895.7,417.5 886.3,418.7 876.9,421.1 867.5,422.9 858.1,423.9 851.0,425.8 844.0,428.1 836.9,430.5 831.0,434.0 825.2,437.5 820.5,441.1 815.7,445.8 813.4,449.3 822.8,448.8 832.2,447.6 835.0,451.6 836.4,457.5 839.7,462.2 845.1,462.2 853.4,460.4 860.4,459.2 867.5,457.8 874.6,456.6 880.4,457.8 884.0,461.1 882.1,464.8 877.4,467.2 869.8,468.4 862.8,469.8 855.7,471.9 848.7,474.0 842.8,475.6 838.1,479.9 834.6,485.8 831.0,490.5 828.0,495.2 827.0,501.1 828.7,505.8 833.4,508.1 839.3,510.0 845.1,509.3 851.0,506.9 856.9,504.6 862.8,502.9 869.8,501.5 876.9,500.6 884.0,499.2 891.0,497.5 898.1,496.4 905.1,495.9 914.5,495.2 923.9,496.4 933.4,497.5 942.8,498.2 952.2,499.2 961.6,500.1 971.0,500.6 980.4,499.9 989.8,498.2 999.2,495.2 1006.3,490.5 1011.0,485.8 1015.7,482.2 1022.7,481.1 1032.1,481.1 1041.6,482.2 1048.6,485.8 1053.3,491.6 1058.0,497.5 1062.7,502.2 1067.4,505.8 1072.1,506.9 1079.2,505.8 1088.6,503.9 1098.0,503.2 1112.1,502.7"/><polyline fill="none" stroke="#4169e1" stroke-width="7.0" stroke-linejoin="round" stroke-linecap="round" points="827.0,501.1 828.7,505.8 833.4,508.1 839.3,510.0 845.1,509.3 851.0,506.9 856.9,504.6 862.8,502.9 869.8,501.5 876.9,500.6 884.0,499.2 891.0,497.5 898.1,496.4 905.1,495.9 914.5,495.2 923.9,496.4 933.4,497.5 942.8,498.2 952.2,499.2 961.6,500.1 971.0,500.6 980.4,499.9 989.8,498.2 999.2,495.2 1006.3,490.5 1011.0,485.8 1015.7,482.2 1022.7,481.1 1032.1,481.1 1041.6,482.2"/><polyline fill="none" stroke="#4169e1" stroke-width="4.8" stroke-linejoin="round" stroke-linecap="round" points="1041.6,482.2 1048.6,485.8 1053.3,491.6 1058.0,497.5 1062.7,502.2 1067.4,505.8 1072.1,506.9 1079.2,505.8 1088.6,503.9 1098.0,503.2 1112.1,502.7"/><polygon fill="#0000cd" points="811.0,442.2 816.9,436.4 824.0,430.5 832.2,424.6 841.6,419.9 848.7,412.8 1112.1,412.8 1112.1,429.3 1069.8,419.9 905.1,418.7 862.8,423.4 851.0,425.8 844.0,428.1 836.9,430.5 831.0,434.0 825.2,437.5 820.5,441.1 815.7,445.8 812.2,446.9"/><polygon fill="#0000cd" stroke="#0000cd" stroke-width="1.0" stroke-linejoin="round" points="1112.1,428.1 1102.7,424.6 1093.3,421.1 1081.5,418.7 1069.8,418.2 1058.0,417.5 1046.3,416.8 1034.5,416.4 1022.7,417.5 1011.0,418.7 999.2,419.2 987.5,419.9 975.7,419.2 963.9,418.7 952.2,417.5 940.4,416.4 928.6,415.9 916.9,416.8 905.1,417.5 895.7,417.5 886.3,418.7 876.9,421.1 867.5,422.9 858.1,423.9 851.0,425.8 844.0,428.1 836.9,430.5 831.0,434.0 825.2,437.5 820.5,441.1 815.7,445.8 813.4,449.3 822.8,448.8 832.2,447.6 835.0,451.6 836.4,457.5 839.7,462.2 845.1,462.2 853.4,460.4 860.4,459.2 867.5,457.8 874.6,456.6 880.4,457.8 884.0,461.1 882.1,464.8 877.4,467.2 869.8,468.4 862.8,469.8 855.7,471.9 848.7,474.0 842.8,475.6 838.1,479.9 834.6,485.8 831.0,490.5 828.0,495.2 827.0,501.1 828.7,505.8 833.4,508.1 839.3,510.0 845.1,509.3 851.0,506.9 856.9,504.6 862.8,502.9 869.8,501.5 876.9,500.6 884.0,499.2 891.0,497.5 898.1,496.4 905.1,495.9 914.5,495.2 923.9,496.4 933.4,497.5 942.8,498.2 952.2,499.2 961.6,500.1 971.0,500.6 980.4,499.9 989.8,498.2 999.2,495.2 1006.3,490.5 1011.0,485.8 1015.7,482.2 1022.7,481.1 1032.1,481.1 1041.6,482.2 1048.6,485.8 1053.3,491.6 1058.0,497.5 1062.7,502.2 1067.4,505.8 1072.1,506.9 1079.2,505.8 1088.6,503.9 1098.0,503.2 1112.1,502.7"/><polyline fill="none" stroke="#0000cd" stroke-width="3.5" stroke-linejoin="round" stroke-linecap="round" points="827.0,501.1 828.7,505.8 833.4,508.1 839.3,510.0 845.1,509.3 851.0,506.9 856.9,504.6 862.8,502.9 869.8,501.5 876.9,500.6 884.0,499.2 891.0,497.5 898.1,496.4 905.1,495.9 914.5,495.2 923.9,496.4 933.4,497.5 942.8,498.2 952.2,499.2 961.6,500.1 971.0,500.6 980.4,499.9 989.8,498.2 999.2,495.2 1006.3,490.5 1011.0,485.8 1015.7,482.2 1022.7,481.1 1032.1,481.1 1041.6,482.2"/><polyline fill="none" stroke="#0000cd" stroke-width="2.4" stroke-linejoin="round" stroke-linecap="round" points="1041.6,482.2 1048.6,485.8 1053.3,491.6 1058.0,497.5 1062.7,502.2 1067.4,505.8 1072.1,506.9 1079.2,505.8 1088.6,503.9 1098.0,503.2 1112.1,502.7"/><polygon fill="#000080" points="1112.1,428.1 1102.7,424.6 1093.3,421.1 1081.5,418.7 1069.8,418.2 1058.0,417.5 1046.3,416.8 1034.5,416.4 1022.7,417.5 1011.0,418.7 999.2,419.2 987.5,419.9 975.7,419.2 963.9,418.7 952.2,417.5 940.4,416.4 928.6,415.9 916.9,416.8 905.1,417.5 895.7,417.5 886.3,418.7 876.9,421.1 867.5,422.9 858.1,423.9 851.0,425.8 844.0,428.1 836.9,430.5 831.0,434.0 825.2,437.5 820.5,441.1 815.7,445.8 813.4,449.3 822.8,448.8 832.2,447.6 835.0,451.6 836.4,457.5 839.7,462.2 845.1,462.2 853.4,460.4 860.4,459.2 867.5,457.8 874.6,456.6 880.4,457.8 884.0,461.1 882.1,464.8 877.4,467.2 869.8,468.4 862.8,469.8 855.7,471.9 848.7,474.0 842.8,475.6 838.1,479.9 834.6,485.8 831.0,490.5 828.0,495.2 827.0,501.1 828.7,505.8 833.4,508.1 839.3,510.0 845.1,509.3 851.0,506.9 856.9,504.6 862.8,502.9 869.8,501.5 876.9,500.6 884.0,499.2 891.0,497.5 898.1,496.4 905.1,495.9 914.5,495.2 923.9,496.4 933.4,497.5 942.8,498.2 952.2,499.2 961.6,500.1 971.0,500.6 980.4,499.9 989.8,498.2 999.2,495.2 1006.3,490.5 1011.0,485.8 1015.7,482.2 1022.7,481.1 1032.1,481.1 1041.6,482.2 1048.6,485.8 1053.3,491.6 1058.0,497.5 1062.7,502.2 1067.4,505.8 1072.1,506.9 1079.2,505.8 1088.6,503.9 1098.0,503.2 1112.1,502.7"/></g>
<g clip-path="url(#c30)"></g>
<g clip-path="url(#c31)"><polygon fill="#add8e6" points="1230.0,158.5 1233.5,158.0 1239.4,162.0 1245.2,166.7 1248.8,170.2 1247.6,173.1 1244.1,172.1 1238.2,167.4 1232.3,162.7"/><polygon fill="#add8e6" points="1246.4,157.3 1251.1,154.9 1255.8,154.2 1253.5,158.5 1250.0,162.0 1247.6,160.4"/><polygon fill="#add8e6" points="1252.3,224.4 1257.0,220.8 1260.5,220.1 1264.1,223.2 1268.8,225.5 1269.9,229.1 1265.2,231.4 1259.4,231.4 1254.0,229.1"/><polygon fill="#00bfff" points="1254.0,223.9 1259.4,222.5 1260.5,226.7 1256.3,228.6 1254.0,226.7"/><polygon fill="#00bfff" points="1264.1,226.7 1268.8,226.2 1268.8,229.5 1265.2,229.5"/><polygon fill="#add8e6" points="1260.5,216.1 1264.1,216.1 1264.1,217.8 1260.5,217.8"/><polygon fill="#add8e6" points="1293.5,276.6 1297.0,276.6 1297.0,278.5 1293.5,278.5"/></g>
<g clip-path="url(#c32)"><polygon fill="#add8e6" points="1293.5,279.2 1298.2,278.5 1299.3,282.2 1295.8,282.7"/><polygon fill="#add8e6" points="1300.5,349.1 1304.8,348.1 1305.7,351.4 1301.7,352.4"/><polygon fill="#add8e6" stroke="#add8e6" stroke-width="7.0" stroke-linejoin="round" points="1108.8,301.5 1110.0,301.5 1115.9,305.1 1120.6,309.8 1122.9,316.8 1127.6,322.7 1133.5,326.2 1140.6,329.8 1147.6,334.5 1154.7,339.2 1161.7,342.7 1167.6,345.8 1175.9,347.4 1185.3,348.1 1194.7,348.6 1204.1,348.6 1208.8,346.7 1213.5,345.8 1222.9,345.3 1232.3,345.3 1241.7,345.8 1251.1,346.7 1258.2,348.1 1265.2,350.9 1269.9,355.6 1274.6,359.2 1279.4,362.2 1285.2,364.6 1292.3,365.5 1298.2,366.9 1305.2,370.9 1312.3,374.0 1319.3,376.8 1326.4,380.4 1332.3,385.1 1337.0,389.8 1341.7,394.5 1346.4,399.2 1352.3,403.9 1358.2,407.4 1364.0,410.9 1368.7,414.5 1108.8,415.6"/><polygon fill="#00bfff" points="1294.6,279.4 1297.7,278.9 1298.2,281.3 1295.8,281.5"/><polygon fill="#00bfff" stroke="#00bfff" stroke-width="3.2" stroke-linejoin="round" points="1108.8,301.5 1110.0,301.5 1115.9,305.1 1120.6,309.8 1122.9,316.8 1127.6,322.7 1133.5,326.2 1140.6,329.8 1147.6,334.5 1154.7,339.2 1161.7,342.7 1167.6,345.8 1175.9,347.4 1185.3,348.1 1194.7,348.6 1204.1,348.6 1208.8,346.7 1213.5,345.8 1222.9,345.3 1232.3,345.3 1241.7,345.8 1251.1,346.7 1258.2,348.1 1265.2,350.9 1269.9,355.6 1274.6,359.2 1279.4,362.2 1285.2,364.6 1292.3,365.5 1298.2,366.9 1305.2,370.9 1312.3,374.0 1319.3,376.8 1326.4,380.4 1332.3,385.1 1337.0,389.8 1341.7,394.5 1346.4,399.2 1352.3,403.9 1358.2,407.4 1364.0,410.9 1368.7,414.5 1108.8,415.6"/><polygon fill="#00bfff" points="1114.7,382.0 1126.5,381.5 1126.9,386.7 1115.2,387.6"/><polygon fill="#00bfff" points="1142.9,406.7 1153.5,406.2 1154.0,410.5 1143.4,411.2"/><polygon fill="#00bfff" points="1108.8,355.6 1112.8,356.8 1113.5,372.1 1108.8,372.1"/><polygon fill="#6495ed" points="1108.8,301.5 1110.0,301.5 1115.9,305.1 1120.6,309.8 1122.9,316.8 1127.6,322.7 1133.5,326.2 1140.6,329.8 1147.6,334.5 1154.7,339.2 1161.7,342.7 1167.6,345.8 1175.9,347.4 1185.3,348.1 1194.7,348.6 1204.1,348.6 1208.8,346.7 1213.5,345.8 1222.9,345.3 1232.3,345.3 1241.7,345.8 1251.1,346.7 1258.2,348.1 1265.2,350.9 1269.9,355.6 1274.6,359.2 1279.4,362.2 1285.2,364.6 1292.3,365.5 1298.2,366.9 1305.2,370.9 1312.3,374.0 1319.3,376.8 1326.4,380.4 1332.3,385.1 1337.0,389.8 1341.7,394.5 1346.4,399.2 1352.3,403.9 1358.2,407.4 1364.0,410.9 1368.7,414.5 1108.8,415.6"/><polygon fill="#4169e1" points="1108.8,301.5 1110.0,301.5 1115.9,305.1 1120.6,309.8 1122.9,316.8 1127.6,322.7 1133.5,326.2 1140.6,329.8 1147.6,334.5 1154.7,339.2 1161.7,342.7 1167.6,345.8 1175.9,347.4 1185.3,348.1 1194.7,348.6 1204.1,348.6 1208.8,346.7 1213.5,345.8 1222.9,345.3 1232.3,345.3 1241.7,345.8 1251.1,346.7 1258.2,348.1 1265.2,350.9 1269.9,355.6 1274.6,359.2 1279.4,362.2 1285.2,364.6 1292.3,365.5 1298.2,366.9 1305.2,370.9 1312.3,374.0 1319.3,376.8 1326.4,380.4 1332.3,385.1 1337.0,389.8 1341.7,394.5 1346.4,399.2 1352.3,403.9 1358.2,407.4 1364.0,410.9 1368.7,414.5 1204.1,414.5 1201.7,402.7 1197.0,395.6 1192.3,388.6 1185.3,382.7 1175.9,376.8 1166.5,370.9 1157.0,365.1 1147.6,360.4 1138.2,355.6 1128.8,350.9 1119.4,346.2 1108.8,341.5"/><polygon fill="#4169e1" points="1122.9,359.2 1131.2,358.0 1137.0,367.4 1139.4,376.8 1133.5,379.2 1127.6,372.1 1122.9,365.1"/><polygon fill="#4169e1" points="1150.0,367.4 1159.4,368.6 1164.1,372.1 1157.0,373.3 1151.2,370.9"/><polygon fill="#4169e1" points="1133.5,382.7 1145.3,381.5 1157.0,386.2 1159.4,393.3 1150.0,395.6 1140.6,390.9 1134.7,387.4"/><polygon fill="#4169e1" points="1110.0,390.9 1119.4,388.6 1126.5,395.6 1124.1,405.1 1114.7,407.4 1110.0,402.7"/><polygon fill="#0000cd" points="1108.8,301.5 1110.0,301.5 1115.9,305.1 1120.6,309.8 1122.9,316.8 1127.6,322.7 1133.5,326.2 1140.6,329.8 1147.6,334.5 1154.7,339.2 1161.7,342.7 1167.6,345.8 1175.9,347.4 1185.3,348.1 1194.7,348.6 1204.1,348.6 1208.8,346.7 1213.5,345.8 1222.9,345.3 1232.3,345.3 1241.7,345.8 1251.1,346.7 1258.2,348.1 1265.2,350.9 1269.9,355.6 1274.6,359.2 1279.4,362.2 1285.2,364.6 1292.3,365.5 1298.2,366.9 1305.2,370.9 1312.3,374.0 1319.3,376.8 1326.4,380.4 1332.3,385.1 1337.0,389.8 1341.7,394.5 1346.4,399.2 1352.3,403.9 1358.2,407.4 1364.0,410.9 1368.7,414.5 1230.0,414.5 1227.6,406.2 1222.9,400.4 1218.2,395.6 1211.1,389.8 1204.1,385.1 1194.7,379.2 1185.3,374.5 1175.9,368.6 1166.5,363.9 1157.0,359.2 1147.6,354.5 1138.2,349.8 1128.8,345.1 1119.4,339.2 1108.8,334.5"/><polygon fill="#0000cd" points="1160.6,395.6 1166.5,390.9 1173.5,387.4 1182.9,386.2 1190.0,388.6 1197.0,393.3 1204.1,396.8 1213.5,399.2 1222.9,402.7 1230.0,414.5 1164.1,414.5 1161.7,405.1"/><polygon fill="#000080" points="1108.8,300.8 1110.0,301.5 1115.9,305.1 1120.6,309.8 1122.9,316.8 1127.6,322.7 1133.5,326.2 1140.6,329.8 1147.6,334.5 1154.7,339.2 1161.7,342.7 1167.6,345.8 1175.9,347.4 1185.3,348.1 1194.7,348.6 1204.1,348.6 1208.8,346.7 1213.5,345.8 1222.9,345.3 1232.3,345.3 1241.7,345.8 1251.1,346.7 1258.2,348.1 1265.2,350.9 1269.9,355.6 1274.6,359.2 1279.4,362.2 1285.2,364.6 1292.3,365.5 1298.2,366.9 1305.2,370.9 1312.3,374.0 1319.3,376.8 1326.4,380.4 1332.3,385.1 1337.0,389.8 1341.7,394.5 1346.4,399.2 1352.3,403.9 1358.2,407.4 1364.0,410.9 1368.7,414.5 1238.2,414.5 1235.8,409.8 1232.3,402.7 1227.6,395.6 1222.9,390.9 1215.8,386.2 1208.8,381.5 1199.4,376.8 1190.0,370.9 1180.6,366.2 1171.2,361.5 1161.7,356.8 1152.3,352.1 1142.9,347.4 1133.5,342.7 1124.1,338.0 1117.1,333.3 1108.8,327.9"/><polygon fill="#000080" points="1168.8,398.0 1175.9,394.5 1185.3,395.6 1194.7,400.4 1204.1,405.1 1211.1,409.8 1213.5,414.5 1180.6,414.5 1173.5,406.2"/><polygon fill="#6495ed" points="1193.5,390.9 1198.2,393.3 1201.3,401.5 1198.2,402.7 1194.7,396.8"/><polygon fill="#6495ed" points="1219.4,399.2 1222.9,400.4 1225.3,403.9 1221.7,403.2"/></g>
<g clip-path="url(#c33)"><polygon fill="#add8e6" points="1359.3,412.8 1368.7,415.2 1378.1,418.7 1387.6,422.2 1395.8,423.4 1401.7,426.9 1408.7,424.6 1415.8,426.9 1420.5,430.5 1422.8,436.4 1419.3,441.1 1420.5,448.1 1421.7,455.2 1425.2,459.9 1427.5,466.9 1427.1,474.0 1424.0,479.9 1421.7,484.6 1424.0,489.3 1422.8,495.2 1420.5,499.9 1422.8,504.6 1426.4,508.1 1425.2,514.0 1424.0,518.7 1417.0,519.4 1412.3,519.9 1409.9,515.2 1411.1,510.5 1407.5,508.1 1401.7,509.3 1397.0,506.9 1394.6,502.2 1388.7,499.9 1382.8,501.1 1375.8,498.7 1368.7,496.4 1359.3,495.2 1349.9,494.0 1340.5,495.2 1331.1,497.5 1321.7,498.7 1312.3,499.2 1302.9,499.9 1295.8,501.1 1288.8,502.2 1288.8,484.6 1345.2,461.1"/><polyline fill="none" stroke="#add8e6" stroke-width="17.7" stroke-linejoin="round" stroke-linecap="round" points="1108.8,502.2 1124.1,501.5 1133.5,501.1 1142.9,500.6 1152.3,501.1 1161.7,502.2 1171.2,502.9 1180.6,502.9 1190.0,502.5 1199.4,501.5 1208.8,500.1 1218.2,499.2 1227.6,498.2 1237.0,497.5 1246.4,496.4 1255.8,495.2 1265.2,494.0 1274.6,492.1 1281.7,490.5 1288.8,488.1 1295.8,484.6"/><polyline fill="none" stroke="#add8e6" stroke-width="26.8" stroke-linejoin="round" stroke-linecap="round" points="1295.8,484.6 1302.9,482.2 1312.3,481.1 1321.7,479.9 1331.1,478.7 1340.5,477.5 1349.9,476.4 1359.3,476.4 1368.7,475.6"/><polygon fill="#00bfff" points="1366.4,415.2 1375.8,419.9 1382.8,425.8 1388.7,432.8 1392.3,439.9 1394.6,446.9 1400.5,451.6 1406.4,454.0 1412.3,455.2 1415.8,452.8 1413.4,446.9 1409.9,442.2 1406.4,437.5 1401.7,432.8 1400.5,428.1 1406.4,426.9 1412.3,429.3 1415.8,434.0 1414.6,439.9 1417.0,445.8 1419.3,452.8 1422.8,459.9 1425.2,466.9 1424.7,474.0 1421.7,479.9 1418.1,484.6 1415.8,489.3 1412.3,492.8 1408.7,490.5 1404.0,484.6 1399.3,482.2 1394.6,484.6 1389.9,486.9 1384.0,489.3 1378.1,491.6 1371.1,492.8 1364.0,492.8 1354.6,491.6 1345.2,492.8 1335.8,494.5 1326.4,496.4 1317.0,496.8 1307.6,497.5 1298.2,498.7 1293.5,484.6 1345.2,461.1 1357.0,412.8"/><polyline fill="none" stroke="#00bfff" stroke-width="12.2" stroke-linejoin="round" stroke-linecap="round" points="1108.8,502.2 1124.1,501.5 1133.5,501.1 1142.9,500.6 1152.3,501.1 1161.7,502.2 1171.2,502.9 1180.6,502.9 1190.0,502.5 1199.4,501.5 1208.8,500.1 1218.2,499.2 1227.6,498.2 1237.0,497.5 1246.4,496.4 1255.8,495.2 1265.2,494.0 1274.6,492.1 1281.7,490.5 1288.8,488.1 1295.8,484.6"/><polyline fill="none" stroke="#00bfff" stroke-width="18.5" stroke-linejoin="round" stroke-linecap="round" points="1295.8,484.6 1302.9,482.2 1312.3,481.1 1321.7,479.9 1331.1,478.7 1340.5,477.5 1349.9,476.4 1359.3,476.4 1368.7,475.6"/><polygon fill="#00bfff" stroke="#00bfff" stroke-width="6.7" stroke-linejoin="round" points="1401.7,500.8 1405.4,504.6 1401.7,508.4 1397.9,504.6"/><polygon fill="#6495ed" points="1364.0,416.4 1371.1,421.1 1377.0,428.1 1380.5,435.2 1382.8,442.2 1384.0,449.3 1386.4,455.2 1391.1,457.5 1398.1,458.2 1406.4,458.2 1413.4,459.2 1419.3,462.2 1422.8,466.9 1422.4,472.8 1419.3,477.5 1414.6,481.1 1408.7,483.4 1402.8,482.2 1398.1,479.9 1393.4,482.2 1387.6,484.6 1381.7,485.8 1375.8,484.6 1368.7,482.2 1345.2,461.1 1357.0,412.8"/><polygon fill="#6495ed" points="1108.8,412.8 1168.8,412.8 1161.7,416.8 1152.3,419.9 1142.9,421.5 1133.5,420.6 1124.1,419.2 1108.8,418.2"/><polyline fill="none" stroke="#6495ed" stroke-width="7.5" stroke-linejoin="round" stroke-linecap="round" points="1108.8,502.2 1124.1,501.5 1133.5,501.1 1142.9,500.6 1152.3,501.1 1161.7,502.2 1171.2,502.9 1180.6,502.9 1190.0,502.5 1199.4,501.5 1208.8,500.1 1218.2,499.2 1227.6,498.2 1237.0,497.5 1246.4,496.4 1255.8,495.2 1265.2,494.0 1274.6,492.1 1281.7,490.5 1288.8,488.1 1295.8,484.6"/><polyline fill="none" stroke="#6495ed" stroke-width="11.4" stroke-linejoin="round" stroke-linecap="round" points="1295.8,484.6 1302.9,482.2 1312.3,481.1 1321.7,479.9 1331.1,478.7 1340.5,477.5 1349.9,476.4 1359.3,476.4 1368.7,475.6"/><polygon fill="#6495ed" stroke="#6495ed" stroke-width="5.2" stroke-linejoin="round" points="1405.2,483.4 1409.9,488.1 1405.2,492.8 1400.5,488.1"/><polygon fill="#6495ed" stroke="#6495ed" stroke-width="4.2" stroke-linejoin="round" points="1401.7,500.8 1405.4,504.6 1401.7,508.4 1397.9,504.6"/><polygon fill="#4169e1" points="1374.6,476.4 1380.5,471.6 1387.6,472.4 1394.6,473.3 1401.7,475.2 1408.7,475.2 1415.1,473.3 1419.1,469.5 1420.5,465.3 1417.4,462.0 1392.3,456.4 1368.7,461.1"/><polygon fill="#4169e1" points="1108.8,412.8 1194.7,412.8 1185.3,417.5 1175.9,421.1 1166.5,423.9 1157.0,426.2 1147.6,427.6 1138.2,426.9 1128.8,425.3 1119.4,423.9 1108.8,422.9"/><polygon fill="#4169e1" stroke="#4169e1" stroke-width="2.9" stroke-linejoin="round" points="1108.8,428.6 1119.4,430.0 1128.8,432.4 1138.2,434.0 1147.6,434.7 1157.0,432.8 1166.5,430.5 1175.9,428.1 1185.3,425.8 1194.7,423.4 1204.1,421.1 1213.5,418.7 1220.6,416.4 1227.6,412.8 1359.3,412.8 1364.0,417.5 1368.7,422.2 1373.4,428.1 1377.0,435.2 1379.3,442.2 1380.5,449.3 1382.8,455.2 1387.6,458.7 1394.6,459.9 1404.0,459.9 1412.3,461.1 1417.0,464.6 1415.8,469.3 1411.1,472.4 1404.0,472.8 1397.0,471.6 1389.9,470.5 1382.8,469.3 1378.1,471.6 1374.6,474.7 1368.7,475.6 1359.3,476.4 1349.9,476.4 1340.5,477.5 1331.1,478.7 1321.7,479.9 1312.3,481.1 1302.9,482.2 1295.8,484.6 1288.8,488.1 1281.7,490.5 1274.6,492.1 1265.2,494.0 1255.8,495.2 1246.4,496.4 1237.0,497.5 1227.6,498.2 1218.2,499.2 1208.8,500.1 1199.4,501.5 1190.0,502.5 1180.6,502.9 1171.2,502.9 1161.7,502.2 1152.3,501.1 1142.9,500.6 1133.5,501.1 1124.1,501.5 1108.8,502.2"/><polyline fill="none" stroke="#4169e1" stroke-width="4.6" stroke-linejoin="round" stroke-linecap="round" points="1108.8,502.2 1124.1,501.5 1133.5,501.1 1142.9,500.6 1152.3,501.1 1161.7,502.2 1171.2,502.9 1180.6,502.9 1190.0,502.5 1199.4,501.5 1208.8,500.1 1218.2,499.2 1227.6,498.2 1237.0,497.5 1246.4,496.4 1255.8,495.2 1265.2,494.0 1274.6,492.1 1281.7,490.5 1288.8,488.1 1295.8,484.6"/><polyline fill="none" stroke="#4169e1" stroke-width="7.0" stroke-linejoin="round" stroke-linecap="round" points="1295.8,484.6 1302.9,482.2 1312.3,481.1 1321.7,479.9 1331.1,478.7 1340.5,477.5 1349.9,476.4 1359.3,476.4 1368.7,475.6"/><polygon fill="#4169e1" stroke="#4169e1" stroke-width="3.2" stroke-linejoin="round" points="1405.2,483.4 1409.9,488.1 1405.2,492.8 1400.5,488.1"/><polygon fill="#4169e1" stroke="#4169e1" stroke-width="2.6" stroke-linejoin="round" points="1401.7,500.8 1405.4,504.6 1401.7,508.4 1397.9,504.6"/><polygon fill="#0000cd" points="1108.8,412.8 1232.3,412.8 1232.3,437.5 1108.8,437.5"/><polygon fill="#0000cd" stroke="#0000cd" stroke-width="1.4" stroke-linejoin="round" points="1108.8,428.6 1119.4,430.0 1128.8,432.4 1138.2,434.0 1147.6,434.7 1157.0,432.8 1166.5,430.5 1175.9,428.1 1185.3,425.8 1194.7,423.4 1204.1,421.1 1213.5,418.7 1220.6,416.4 1227.6,412.8 1359.3,412.8 1364.0,417.5 1368.7,422.2 1373.4,428.1 1377.0,435.2 1379.3,442.2 1380.5,449.3 1382.8,455.2 1387.6,458.7 1394.6,459.9 1404.0,459.9 1412.3,461.1 1417.0,464.6 1415.8,469.3 1411.1,472.4 1404.0,472.8 1397.0,471.6 1389.9,470.5 1382.8,469.3 1378.1,471.6 1374.6,474.7 1368.7,475.6 1359.3,476.4 1349.9,476.4 1340.5,477.5 1331.1,478.7 1321.7,479.9 1312.3,481.1 1302.9,482.2 1295.8,484.6 1288.8,488.1 1281.7,490.5 1274.6,492.1 1265.2,494.0 1255.8,495.2 1246.4,496.4 1237.0,497.5 1227.6,498.2 1218.2,499.2 1208.8,500.1 1199.4,501.5 1190.0,502.5 1180.6,502.9 1171.2,502.9 1161.7,502.2 1152.3,501.1 1142.9,500.6 1133.5,501.1 1124.1,501.5 1108.8,502.2"/><polyline fill="none" stroke="#0000cd" stroke-width="2.3" stroke-linejoin="round" stroke-linecap="round" points="1108.8,502.2 1124.1,501.5 1133.5,501.1 1142.9,500.6 1152.3,501.1 1161.7,502.2 1171.2,502.9 1180.6,502.9 1190.0,502.5 1199.4,501.5 1208.8,500.1 1218.2,499.2 1227.6,498.2 1237.0,497.5 1246.4,496.4 1255.8,495.2 1265.2,494.0 1274.6,492.1 1281.7,490.5 1288.8,488.1 1295.8,484.6"/><polyline fill="none" stroke="#0000cd" stroke-width="3.5" stroke-linejoin="round" stroke-linecap="round" points="1295.8,484.6 1302.9,482.2 1312.3,481.1 1321.7,479.9 1331.1,478.7 1340.5,477.5 1349.9,476.4 1359.3,476.4 1368.7,475.6"/><polygon fill="#0000cd" stroke="#0000cd" stroke-width="1.6" stroke-linejoin="round" points="1405.2,483.4 1409.9,488.1 1405.2,492.8 1400.5,488.1"/><polygon fill="#0000cd" stroke="#0000cd" stroke-width="1.3" stroke-linejoin="round" points="1401.7,500.8 1405.4,504.6 1401.7,508.4 1397.9,504.6"/><polygon fill="#000080" points="1108.8,428.6 1119.4,430.0 1128.8,432.4 1138.2,434.0 1147.6,434.7 1157.0,432.8 1166.5,430.5 1175.9,428.1 1185.3,425.8 1194.7,423.4 1204.1,421.1 1213.5,418.7 1220.6,416.4 1227.6,412.8 1359.3,412.8 1364.0,417.5 1368.7,422.2 1373.4,428.1 1377.0,435.2 1379.3,442.2 1380.5,449.3 1382.8,455.2 1387.6,458.7 1394.6,459.9 1404.0,459.9 1412.3,461.1 1417.0,464.6 1415.8,469.3 1411.1,472.4 1404.0,472.8 1397.0,471.6 1389.9,470.5 1382.8,469.3 1378.1,471.6 1374.6,474.7 1368.7,475.6 1359.3,476.4 1349.9,476.4 1340.5,477.5 1331.1,478.7 1321.7,479.9 1312.3,481.1 1302.9,482.2 1295.8,484.6 1288.8,488.1 1281.7,490.5 1274.6,492.1 1265.2,494.0 1255.8,495.2 1246.4,496.4 1237.0,497.5 1227.6,498.2 1218.2,499.2 1208.8,500.1 1199.4,501.5 1190.0,502.5 1180.6,502.9 1171.2,502.9 1161.7,502.2 1152.3,501.1 1142.9,500.6 1133.5,501.1 1124.1,501.5 1108.8,502.2"/><polygon fill="#000080" points="1370.6,491.2 1373.9,494.5 1370.6,497.8 1367.3,494.5"/><polygon fill="#000080" points="1380.5,497.3 1383.3,500.1 1380.5,502.9 1377.7,500.1"/><polygon fill="#000080" points="1405.2,483.4 1409.9,488.1 1405.2,492.8 1400.5,488.1"/><polygon fill="#000080" points="1401.7,500.8 1405.4,504.6 1401.7,508.4 1397.9,504.6"/><polygon fill="#000080" points="1438.8,517.1 1441.7,519.9 1438.8,522.7 1436.0,519.9"/></g>
<g clip-path="url(#c90)"><rect x="700" y="330" width="200" height="120" fill="#fff"/><polygon fill="#add8e6" stroke="#add8e6" stroke-width="9.8" stroke-linejoin="round" points="698.0,328.0 740.6,328.0 734.5,332.0 726.4,334.1 720.3,337.1 716.2,342.2 711.2,348.3 705.1,350.7 698.0,351.9"/><polygon fill="#add8e6" points="746.7,350.3 749.7,350.3 749.7,355.4 746.7,355.4"/><polygon fill="#add8e6" points="748.7,392.9 751.8,392.9 751.8,399.0 748.7,399.0"/><polygon fill="#add8e6" points="727.4,429.5 730.5,423.4 735.5,419.3 739.6,413.2 743.7,408.2 747.7,404.1 752.8,401.1 758.9,401.5 764.0,404.1 768.0,408.2 769.0,413.2 767.0,419.3 764.0,423.4 760.9,427.5 756.9,430.5 753.8,434.6 748.7,433.6 743.7,430.5 738.6,427.5 734.5,432.5 730.5,432.5"/><polygon fill="#add8e6" points="760.9,329.0 760.9,340.2 757.9,346.2 760.9,352.3 765.0,358.4 762.9,364.5 759.9,370.6 756.9,376.7 755.8,382.8 758.9,388.9 762.9,390.9 769.0,392.9 775.1,397.0 781.2,401.1 785.3,407.2 787.3,411.2 789.3,415.3 787.3,421.4 786.3,427.5 791.4,429.5 797.5,431.5 803.6,427.5 809.6,425.4 815.7,423.4 821.8,421.4 826.9,419.3 842.1,415.3 838.1,419.3 832.0,425.4 825.9,431.5 819.8,437.6 813.7,443.7 810.7,451.0 901.0,451.0 901.0,329.0"/><polygon fill="#add8e6" points="797.5,352.3 805.6,350.3 812.7,355.4 813.7,363.5 807.6,368.6 801.5,365.5 797.9,359.4"/><polygon fill="#ffffff" points="833.0,342.2 840.1,340.2 845.2,346.2 844.2,353.4 838.1,356.4 833.0,352.3"/><polygon fill="#ffffff" points="850.3,342.2 854.3,342.2 854.3,346.2 850.3,346.2"/><polygon fill="#ffffff" points="858.4,329.0 862.4,334.1 870.6,338.1 880.7,337.1 888.8,332.0 890.9,329.0"/><polygon fill="#ffffff" points="894.9,334.1 901.0,333.7 901.0,338.1 895.9,338.1"/><polygon fill="#ffffff" points="765.0,373.7 771.1,371.6 774.1,375.7 771.1,379.7 766.0,378.7"/><polygon fill="#00bfff" stroke="#00bfff" stroke-width="6.7" stroke-linejoin="round" points="698.0,328.0 740.6,328.0 734.5,332.0 726.4,334.1 720.3,337.1 716.2,342.2 711.2,348.3 705.1,350.7 698.0,351.9"/><polygon fill="#00bfff" points="736.5,422.4 740.6,416.3 744.7,410.2 749.7,405.1 755.8,403.1 761.9,405.1 766.0,409.6 766.6,414.3 764.0,420.4 759.9,425.4 754.8,429.5 749.7,429.5 744.7,426.4 739.6,425.4"/><polygon fill="#00bfff" points="767.0,329.0 769.0,336.1 775.1,340.2 781.2,339.1 787.3,342.2 789.3,348.3 785.3,352.3 781.2,356.4 777.2,360.5 771.1,363.5 767.0,368.6 765.0,374.7 762.9,380.8 760.9,385.8 765.0,388.9 771.1,390.9 777.2,395.0 783.2,400.1 787.3,405.1 790.4,411.2 793.4,417.3 797.5,425.4 803.6,423.4 809.6,420.4 815.7,419.3 821.8,417.3 829.9,414.3 842.1,411.2 846.2,414.3 840.1,419.3 834.0,425.4 827.9,431.5 821.8,438.6 816.8,444.7 814.7,451.0 901.0,451.0 901.0,354.4 894.9,352.3 888.8,354.4 882.7,352.3 876.6,355.4 870.6,358.4 862.4,360.5 856.3,358.4 850.3,360.5 842.1,362.5 834.0,365.5 825.9,366.5 819.8,363.5 815.7,358.4 819.8,352.3 825.9,348.3 827.9,342.2 825.9,336.1 821.8,332.0 817.8,329.0"/><polygon fill="#6495ed" stroke="#6495ed" stroke-width="4.2" stroke-linejoin="round" points="698.0,328.0 740.6,328.0 734.5,332.0 726.4,334.1 720.3,337.1 716.2,342.2 711.2,348.3 705.1,350.7 698.0,351.9"/><polygon fill="#6495ed" points="740.6,419.3 745.7,412.2 750.8,407.2 756.9,405.5 761.9,408.2 764.6,412.2 761.9,418.3 757.9,423.4 752.8,425.4 747.7,424.4 742.6,423.4"/><polygon fill="#6495ed" points="775.1,358.4 781.2,357.4 787.3,360.5 793.4,364.5 799.5,368.6 805.6,370.6 811.7,368.6 817.8,369.6 823.9,372.6 832.0,370.6 842.1,367.6 852.3,365.5 862.4,366.5 872.6,364.5 882.7,365.5 892.9,363.5 901.0,362.5 901.0,451.0 819.8,451.0 823.9,443.7 829.9,435.6 836.0,428.5 842.1,421.4 848.2,417.3 842.1,415.3 829.9,417.3 821.8,420.4 813.7,422.4 805.6,424.4 799.5,426.4 795.4,421.4 792.4,415.3 789.3,409.2 786.3,404.1 781.2,400.1 775.1,395.0 769.0,390.9 762.9,387.9 765.0,383.8 771.1,381.8 777.2,380.8 781.2,377.7 777.2,373.7 774.1,368.6 773.1,363.5"/><polygon fill="#6495ed" points="777.2,329.0 779.2,336.1 783.2,338.1 785.3,334.1 784.3,329.0"/><polygon fill="#4169e1" stroke="#4169e1" stroke-width="2.6" stroke-linejoin="round" points="698.0,328.0 740.6,328.0 734.5,332.0 726.4,334.1 720.3,337.1 716.2,342.2 711.2,348.3 705.1,350.7 698.0,351.9"/><polygon fill="#4169e1" points="746.7,417.3 750.8,411.2 755.8,408.2 760.9,409.6 762.9,413.2 759.9,418.3 754.8,421.4 749.7,421.4"/><polygon fill="#4169e1" points="781.2,388.9 787.3,385.8 795.4,383.8 805.6,382.8 815.7,380.8 825.9,378.7 836.0,377.7 846.2,375.7 856.3,376.7 866.5,378.7 876.6,380.8 886.8,382.8 901.0,384.8 901.0,451.0 829.9,451.0 834.0,443.7 840.1,435.6 846.2,427.5 850.3,420.4 846.2,415.3 838.1,413.2 829.9,411.2 821.8,410.2 813.7,411.2 805.6,412.2 797.5,411.2 791.4,407.2 786.3,401.1 782.2,395.0"/><polygon fill="#4169e1" points="778.2,362.5 783.2,361.5 786.3,365.5 783.2,369.6 779.2,368.6"/><polygon fill="#0000cd" stroke="#0000cd" stroke-width="1.3" stroke-linejoin="round" points="698.0,328.0 740.6,328.0 734.5,332.0 726.4,334.1 720.3,337.1 716.2,342.2 711.2,348.3 705.1,350.7 698.0,351.9"/><polygon fill="#0000cd" points="750.8,416.3 754.8,411.6 759.9,410.8 764.6,412.2 760.9,416.9 755.8,419.3 751.8,419.3"/><polygon fill="#0000cd" points="785.3,390.9 791.4,387.9 799.5,386.9 807.6,388.9 811.7,392.9 805.6,395.0 797.5,395.0 789.3,396.0 786.3,394.0"/><polygon fill="#0000cd" points="813.7,390.9 821.8,386.9 832.0,382.8 842.1,379.7 852.3,380.8 862.4,383.8 872.6,385.8 882.7,384.8 892.9,386.9 901.0,387.9 901.0,398.0 892.9,399.0 882.7,398.0 872.6,399.0 862.4,398.0 852.3,397.0 842.1,398.0 834.0,400.1 825.9,401.1 817.8,398.0"/><polygon fill="#0000cd" points="829.9,451.0 834.0,441.7 840.1,433.6 846.2,426.4 852.3,421.4 860.4,417.3 868.5,414.3 878.7,413.2 888.8,412.2 901.0,411.2 901.0,451.0"/><polygon fill="#000080" points="698.0,328.0 740.6,328.0 734.5,332.0 726.4,334.1 720.3,337.1 716.2,342.2 711.2,348.3 705.1,350.7 698.0,351.9"/><polygon fill="#000080" points="787.3,390.1 792.4,388.9 795.8,390.9 793.4,393.4 788.9,393.4"/><polygon fill="#000080" points="821.8,392.9 829.9,390.9 838.1,392.5 836.0,396.0 825.9,396.6"/><polygon fill="#000080" points="840.1,451.0 843.1,440.7 849.2,431.5 856.3,425.4 864.5,421.4 872.6,419.3 882.7,418.3 892.9,416.3 901.0,415.3 901.0,451.0"/><polygon fill="#ffffff" points="789.3,451.0 787.3,431.5 797.5,432.5 809.6,426.4 825.9,420.4 840.1,416.3 832.0,425.4 821.8,435.6 813.7,443.7 810.7,451.0"/><polygon fill="#add8e6" points="795.4,435.6 805.6,431.5 809.6,435.6 801.5,440.7 795.4,439.6"/></g>
<g clip-path="url(#c91)"><rect x="564" y="240" width="200" height="120" fill="#fff"/><polygon fill="#add8e6" points="564.0,239.0 564.0,290.8 572.1,291.8 580.2,293.2 586.3,294.8 594.5,296.0 602.6,298.9 608.7,305.0 612.7,310.1 610.7,315.1 614.8,318.2 618.8,316.1 621.9,312.1 617.8,321.2 618.8,327.3 624.9,330.4 633.0,329.3 641.2,327.3 649.3,325.3 655.4,320.2 659.4,315.1 663.5,312.1 667.6,314.1 671.6,319.2 674.7,325.3 677.7,329.3 683.8,332.4 685.8,339.5 685.4,347.6 685.8,355.7 687.9,358.8 693.9,355.7 702.1,352.7 708.2,349.6 714.3,344.6 718.3,339.5 724.4,337.5 732.5,335.4 740.6,334.4 746.7,332.4 752.8,327.3 755.9,317.2 756.5,305.0 757.9,294.8 764.0,291.8 765.0,280.6 754.9,281.6 747.8,279.6 744.7,274.5 748.8,270.5 753.8,264.4 752.8,258.3 756.9,252.2 753.8,248.1 750.8,239.0"/><polygon fill="#add8e6" points="652.3,343.6 657.4,341.5 658.4,347.6 656.4,353.7 652.3,352.7"/><polygon fill="#add8e6" points="758.9,341.5 765.0,340.5 765.0,350.7 759.9,349.6"/><polygon fill="#add8e6" points="745.7,349.6 749.8,349.6 749.8,356.8 745.7,356.8"/><polygon fill="#add8e6" points="749.8,344.6 752.8,344.6 752.8,347.6 749.8,347.6"/><polygon fill="#00bfff" points="564.0,239.0 564.0,283.7 570.1,285.7 576.2,287.7 584.3,289.7 592.4,290.8 600.5,292.4 607.7,296.9 613.7,304.0 617.8,310.1 622.9,309.0 624.9,315.1 623.9,321.2 626.9,327.3 634.1,327.3 642.2,325.3 649.3,323.2 654.4,318.2 658.4,313.1 663.5,310.1 668.6,312.1 672.6,317.2 675.7,323.2 679.3,327.7 685.4,331.0 687.5,338.5 687.0,346.6 687.9,355.7 693.9,353.7 702.1,350.7 707.8,347.6 713.2,343.1 717.9,337.9 724.4,335.8 732.5,333.8 740.6,332.8 746.7,330.4 752.8,325.3 754.9,317.2 754.9,305.0 755.9,294.8 764.0,290.8 765.0,279.6 754.9,279.6 749.8,276.5 746.7,270.5 742.7,262.3 738.6,254.2 734.6,246.1 730.5,239.0"/><polygon fill="#6495ed" points="564.0,239.0 564.0,277.6 570.1,279.6 576.2,282.2 583.3,283.7 590.4,285.7 598.5,287.1 605.6,289.5 611.7,294.8 615.8,300.9 618.8,307.0 624.9,311.1 631.0,315.1 635.1,320.2 643.2,322.2 649.3,321.2 653.3,316.8 657.8,311.5 663.5,308.6 669.2,310.7 673.6,316.1 676.9,322.2 680.5,326.5 686.6,329.7 688.7,337.5 688.3,345.6 689.5,353.7 695.0,351.7 702.5,348.8 707.4,346.0 712.6,341.5 717.3,336.4 724.0,334.4 732.5,332.4 740.6,331.4 746.3,328.9 751.8,323.7 753.8,316.1 753.8,305.0 754.9,294.4 764.0,288.7 765.0,286.7 758.9,283.7 750.8,278.6 743.7,272.5 738.6,264.4 733.5,256.2 728.5,248.1 722.4,239.0"/><polygon fill="#4169e1" points="709.2,239.0 712.2,244.1 716.3,250.2 720.3,256.2 724.4,262.3 728.5,268.4 734.6,273.5 742.7,278.6 750.8,283.7 756.9,287.7 757.9,285.7 753.8,281.6 745.7,276.1 738.6,270.5 733.5,264.4 729.5,257.3 725.4,250.2 721.4,244.1 718.3,239.0"/><polygon fill="#4169e1" stroke="#4169e1" stroke-width="2.4" stroke-linejoin="round" points="564.0,239.0 564.0,274.5 570.1,276.5 578.2,279.6 584.3,281.6 592.4,283.7 600.5,284.7 607.7,287.5 613.7,293.2 618.4,299.9 621.9,306.0 628.0,310.1 634.1,314.1 638.1,319.2 644.2,321.2 648.9,319.8 652.5,315.5 657.4,310.1 663.5,307.0 669.6,309.4 674.7,315.1 677.7,321.2 681.4,325.3 687.5,328.5 689.9,337.1 689.5,344.6 690.9,351.7 695.6,349.6 702.9,347.2 706.5,344.8 711.8,340.3 716.7,335.0 723.6,333.0 732.5,331.0 740.6,329.9 745.9,327.3 750.8,322.4 752.8,315.5 752.8,305.0 753.6,293.8 756.9,287.7 750.8,283.7 742.7,278.6 734.6,273.5 728.5,268.4 724.4,262.3 720.3,256.2 716.3,250.2 712.2,244.1 709.2,239.0"/><polygon fill="#0000cd" points="564.0,239.0 564.0,274.5 570.1,276.5 578.2,279.6 584.3,281.6 592.4,283.7 600.5,284.7 607.7,287.5 613.7,293.2 618.4,299.9 621.9,306.0 628.0,310.1 634.1,314.1 638.1,319.2 644.2,321.2 648.9,319.8 652.5,315.5 657.4,310.1 663.5,307.0 669.6,309.4 674.7,315.1 677.7,321.2 681.4,325.3 687.5,328.5 689.9,337.1 689.5,344.6 690.9,351.7 695.6,349.6 702.9,347.2 706.5,344.8 711.8,340.3 716.7,335.0 723.6,333.0 732.5,331.0 740.6,329.9 745.9,327.3 750.8,322.4 752.8,315.5 752.8,305.0 753.6,293.8 756.9,287.7 750.8,283.7 742.7,278.6 734.6,273.5 728.5,268.4 724.4,262.3 720.3,256.2 716.3,250.2 712.2,244.1 709.2,239.0"/><polygon fill="#000080" points="564.0,239.0 564.0,270.5 570.5,273.5 578.6,277.6 584.7,279.6 592.8,282.2 601.4,283.0 608.7,286.3 615.2,292.4 619.8,298.9 623.3,304.6 629.0,308.6 635.1,312.7 639.1,317.6 644.2,319.6 648.1,318.4 651.3,314.3 656.6,308.6 663.5,305.4 670.4,308.0 675.9,314.1 678.9,320.2 682.2,323.9 688.7,326.9 691.5,336.6 691.1,344.0 692.3,349.6 695.2,348.0 702.5,345.6 705.7,343.1 711.0,338.9 715.7,333.6 723.2,331.4 732.1,329.3 740.2,328.3 745.1,325.7 749.6,321.2 751.2,314.7 751.2,305.0 752.0,294.4 752.8,290.8 746.7,287.1 738.6,285.1 730.5,280.6 724.4,276.5 720.3,270.5 718.3,264.4 715.3,258.3 710.2,252.2 706.1,246.1 704.1,239.0"/><polygon fill="#0000cd" points="682.8,282.6 689.9,280.6 698.0,281.6 706.1,283.7 710.2,288.7 706.1,292.8 702.1,300.9 696.0,305.0 689.9,300.9 685.8,296.9 682.8,290.8"/><polygon fill="#6495ed" points="683.8,285.7 687.9,282.6 692.9,283.7 693.9,289.7 689.9,295.8 685.8,298.9 683.8,292.8"/><polygon fill="#00bfff" points="685.4,287.1 688.3,284.7 690.9,286.3 690.3,291.8 686.8,295.8"/><polygon fill="#add8e6" points="686.4,288.7 688.3,286.7 689.5,289.7 687.5,293.2"/><polygon fill="#0000cd" points="706.1,298.9 710.2,293.8 716.3,292.8 720.3,296.9 722.4,305.0 724.4,313.1 726.4,321.2 728.5,329.3 724.4,334.4 720.3,331.4 716.3,325.3 712.2,323.2 708.2,317.2 706.1,309.0"/><polygon fill="#6495ed" points="708.6,297.9 713.2,294.8 717.3,297.9 719.3,305.0 718.3,313.1 715.3,321.2 711.2,323.2 708.6,317.2 707.8,307.0"/><polygon fill="#00bfff" points="710.2,299.9 713.8,297.9 716.3,301.9 716.7,310.1 714.7,318.2 711.8,319.2 710.2,311.1"/><polygon fill="#add8e6" points="711.8,302.9 714.3,301.9 715.1,309.0 713.2,315.1 711.8,311.1"/><polygon fill="#6495ed" points="721.4,327.7 724.8,326.9 725.8,331.4 722.4,332.6"/><polygon fill="#0000cd" points="713.2,277.6 720.3,273.5 726.4,275.5 732.5,279.6 740.6,283.7 746.7,285.7 753.8,288.7 753.8,294.8 746.7,298.9 740.6,300.9 734.6,305.0 728.5,307.0 724.4,300.9 720.3,294.8 716.3,288.7 713.2,283.7"/><polygon fill="#000080" points="726.4,290.8 734.6,287.7 742.7,289.7 747.8,293.8 744.7,297.9 738.6,298.9 732.5,301.9 728.1,298.9"/><polygon fill="#000080" points="708.2,288.3 713.2,287.1 716.7,289.3 713.2,291.2 708.6,290.8"/><polygon fill="#4169e1" points="612.3,242.4 618.4,238.4 632.0,238.4 634.3,245.1 629.8,250.2 622.9,249.1 616.4,248.1"/><polygon fill="#6495ed" points="614.8,242.4 619.8,239.0 630.0,239.0 631.8,244.5 628.2,248.1 622.9,247.3 617.2,246.5"/><polygon fill="#0000cd" points="564.0,252.2 570.1,250.2 576.2,254.2 584.3,252.2 590.4,256.2 598.5,254.2 604.6,258.3 610.7,262.3 614.8,268.4 612.7,274.5 606.6,272.5 600.5,268.4 594.5,266.4 588.4,268.4 582.3,264.4 576.2,266.4 570.1,262.3 564.0,264.4"/><polygon fill="#6495ed" points="572.1,259.3 578.2,256.2 582.3,260.3 576.2,263.4"/><polygon fill="#6495ed" points="598.5,258.7 604.6,257.3 607.0,261.3 601.0,262.7"/><polygon fill="#0000cd" points="638.1,266.4 642.2,261.3 649.3,262.3 653.3,266.4 650.3,272.5 643.2,273.5 639.1,270.5"/><polygon fill="#6495ed" points="640.8,266.4 644.2,264.0 646.8,266.4 644.8,270.1 641.6,269.4"/><polygon fill="#0000cd" points="645.2,248.1 653.3,244.1 665.5,246.1 673.6,250.2 685.8,252.2 693.9,258.3 691.9,264.4 685.8,262.3 677.7,260.3 669.6,258.3 661.5,256.2 653.3,254.2 647.2,252.2"/><polygon fill="#6495ed" points="665.5,249.1 671.6,248.1 674.7,252.2 671.6,257.3 667.6,255.2"/><polygon fill="#0000cd" points="687.9,239.0 706.1,239.0 704.1,245.1 696.0,246.1 689.9,244.1"/><polygon fill="#6495ed" points="673.6,320.2 677.7,319.2 678.7,323.2 675.3,325.3"/></g>
<g clip-path="url(#c92)"><rect x="940" y="260" width="200" height="120" fill="#fff"/><polygon fill="#add8e6" points="939.0,259.0 1141.0,259.0 1141.0,381.0 939.0,381.0"/><polygon fill="#00bfff" points="939.0,259.0 970.5,259.0 980.6,265.1 983.7,270.2 979.6,276.2 972.5,281.3 964.4,280.3 956.2,276.2 948.1,270.2 939.0,266.1"/><polygon fill="#6495ed" points="944.1,259.0 968.4,259.0 976.5,264.1 980.6,269.1 976.5,274.2 970.5,278.3 964.4,276.2 958.3,271.2 952.2,266.1 946.1,262.0"/><polygon fill="#00bfff" points="980.6,298.6 988.7,294.5 996.9,295.5 1005.0,300.6 1009.0,308.7 1007.0,316.9 1000.9,318.9 996.9,312.8 990.8,308.7 984.7,309.7 980.6,304.7"/><polygon fill="#00bfff" points="948.1,320.9 954.2,318.9 959.3,322.9 958.3,330.1 952.2,333.1 948.1,329.0"/><polygon fill="#00bfff" points="939.0,337.2 948.1,335.1 956.2,337.2 964.4,341.2 972.5,339.2 976.5,333.1 980.6,327.0 986.7,329.0 990.8,337.2 994.8,345.3 1000.9,349.3 1009.0,347.3 1017.2,349.3 1025.3,355.4 1031.4,361.5 1037.5,359.5 1043.6,363.6 1047.6,371.7 1049.6,381.0 939.0,381.0"/><polygon fill="#6495ed" points="939.0,347.3 948.1,349.3 956.2,355.4 964.4,353.4 972.5,349.3 980.6,351.4 988.7,357.5 996.9,361.5 1005.0,359.5 1013.1,361.5 1021.2,365.6 1029.3,369.6 1035.4,367.6 1041.5,373.7 1043.6,381.0 939.0,381.0"/><polygon fill="#4169e1" points="939.0,369.6 948.1,370.7 956.2,373.7 964.4,371.7 974.5,373.7 984.7,376.8 992.8,381.0 939.0,381.0"/><polygon fill="#000080" points="939.0,375.7 948.1,374.7 956.2,377.8 960.3,381.0 939.0,381.0"/><polygon fill="#000080" points="946.1,325.6 949.1,328.6 946.1,331.7 943.0,328.6"/><polygon fill="#000080" points="961.9,355.8 965.6,359.5 961.9,363.1 958.3,359.5"/><polygon fill="#ffffff" points="939.0,272.2 940.6,270.8 950.8,280.9 960.9,287.0 969.0,293.1 977.2,297.2 971.1,305.3 967.0,311.4 960.9,309.3 956.9,301.2 948.7,297.2 943.7,300.2 940.6,307.3 939.0,307.3"/><polygon fill="#ffffff" points="946.1,294.5 952.2,297.6 960.3,303.7 968.4,310.8 974.5,318.9 976.5,327.0 972.5,329.0 967.4,322.9 962.3,316.9 956.2,310.8 950.2,304.7 945.1,299.6"/><polygon fill="#ffffff" points="988.7,325.0 994.8,320.9 1000.9,324.0 1006.0,331.1 1002.9,338.2 996.9,335.1 991.8,331.1"/><polygon fill="#ffffff" points="1023.2,349.3 1027.3,349.3 1027.3,353.4 1023.2,353.4"/><polygon fill="#00bfff" points="964.4,259.0 974.5,262.0 986.7,266.1 994.8,272.2 1002.9,280.3 1011.1,288.4 1019.2,296.5 1027.3,303.7 1035.4,310.8 1043.6,317.9 1050.7,325.0 1057.8,333.1 1062.8,341.2 1067.9,349.3 1073.0,357.5 1078.1,365.6 1083.1,374.7 1085.2,381.0 1141.0,381.0 1141.0,259.0"/><polygon fill="#6495ed" points="970.5,259.0 980.6,264.1 990.8,268.1 998.9,274.2 1007.0,282.3 1015.1,290.5 1023.2,298.6 1031.4,305.7 1039.5,312.8 1047.6,319.9 1054.7,327.0 1061.8,335.1 1066.9,343.2 1072.0,351.4 1077.1,359.5 1082.1,367.6 1087.2,376.8 1090.3,381.0 1141.0,381.0 1141.0,259.0"/><polygon fill="#4169e1" points="980.6,259.0 990.8,265.1 1000.9,272.2 1011.1,280.3 1021.2,290.5 1029.3,298.6 1037.5,306.7 1045.6,312.8 1053.7,318.9 1061.8,327.0 1067.9,335.1 1073.0,343.2 1078.1,351.4 1082.1,359.5 1086.2,367.6 1091.3,375.7 1094.3,381.0 1141.0,381.0 1141.0,259.0"/><polygon fill="#6495ed" points="1053.7,306.7 1061.8,308.7 1067.9,316.9 1069.9,327.0 1065.9,325.0 1059.8,318.9 1054.7,312.8"/><polygon fill="#6495ed" points="1122.7,357.5 1130.9,361.5 1140.0,367.6 1140.0,381.0 1128.8,381.0 1122.7,369.6"/><polygon fill="#0000cd" points="987.7,259.0 994.8,266.1 1005.0,272.2 1015.1,278.3 1023.2,284.4 1029.3,290.5 1035.4,298.6 1045.6,303.7 1053.7,300.6 1061.8,300.6 1069.9,307.7 1069.9,314.8 1072.0,320.9 1074.0,329.0 1078.1,337.2 1082.1,345.3 1085.2,353.4 1086.2,361.5 1090.3,369.6 1096.3,370.7 1102.4,365.6 1110.6,367.6 1112.6,361.5 1122.7,365.6 1132.9,371.7 1141.0,375.7 1141.0,259.0"/><polygon fill="#4169e1" points="1039.5,290.5 1047.6,290.5 1055.7,293.5 1061.8,299.6 1053.7,300.6 1045.6,303.7 1037.5,300.6"/><polygon fill="#4169e1" points="1094.3,333.1 1102.4,331.1 1112.6,335.1 1122.7,341.2 1132.9,347.3 1141.0,351.4 1141.0,361.5 1130.9,357.5 1120.7,351.4 1110.6,345.3 1102.4,341.2 1096.3,338.2"/><polygon fill="#000080" points="1069.9,314.8 1076.0,311.8 1084.2,314.8 1090.3,320.9 1091.3,329.0 1086.2,332.1 1080.1,330.1 1074.0,325.0 1071.0,319.9"/><polygon fill="#000080" points="1075.0,338.2 1082.1,335.1 1090.3,339.2 1096.3,345.3 1097.4,352.4 1092.3,355.4 1086.2,353.4 1080.1,348.3 1076.0,343.2"/><polygon fill="#000080" points="1085.8,363.6 1089.8,360.5 1094.3,362.5 1095.3,367.6 1091.3,370.7 1086.6,368.6"/><polygon fill="#000080" points="994.8,259.0 1002.9,265.1 1013.1,270.2 1021.2,275.2 1029.3,280.3 1035.4,283.4 1041.5,282.3 1049.6,284.4 1057.8,288.4 1065.9,294.5 1072.0,301.6 1080.1,307.7 1086.2,312.8 1094.3,317.9 1102.4,320.9 1112.6,325.0 1122.7,330.1 1132.9,336.1 1141.0,340.2 1141.0,259.0"/><polygon fill="#ffffff" points="979.6,269.1 983.7,267.1 988.7,270.2 995.8,275.2 1002.9,282.3 1010.1,290.5 1018.2,298.6 1026.3,305.7 1034.4,312.8 1042.5,319.9 1049.6,327.0 1056.8,335.1 1061.8,343.2 1066.9,351.4 1072.0,359.5 1077.1,367.6 1082.1,376.8 1080.1,381.0 1069.9,381.0 1065.9,373.7 1059.8,365.6 1053.7,357.5 1049.6,349.3 1045.6,341.2 1041.5,337.2 1035.4,331.1 1029.3,327.0 1023.2,320.9 1017.2,314.8 1011.1,307.7 1005.0,300.6 998.9,292.5 992.8,285.4 986.7,279.3 981.6,274.2"/><polygon fill="#add8e6" points="1022.8,259.0 1034.6,263.7 1044.8,265.7 1054.9,267.7 1064.7,271.8 1072.8,276.9 1080.7,284.0 1088.8,292.1 1097.2,298.2 1107.3,303.2 1115.2,308.3 1121.1,314.2 1125.2,321.3 1129.6,326.6 1141.0,329.8 1141.0,259.0"/><polygon fill="#00bfff" points="1024.1,259.0 1035.0,262.8 1045.2,264.9 1055.3,266.9 1065.3,271.0 1073.4,276.0 1081.5,283.1 1089.6,291.3 1097.8,297.4 1107.9,302.4 1116.0,307.5 1121.9,313.4 1126.0,320.5 1130.3,325.8 1141.0,329.0 1141.0,259.0"/><polygon fill="#ffffff" points="1025.3,259.0 1035.4,262.0 1045.6,264.1 1055.7,266.1 1065.9,270.2 1074.0,275.2 1082.1,282.3 1090.3,290.5 1098.4,296.5 1108.5,301.6 1116.6,306.7 1122.7,312.8 1126.8,319.9 1130.9,325.0 1141.0,328.0 1141.0,259.0"/></g>
<g clip-path="url(#c93)"><rect x="1040" y="330" width="200" height="120" fill="#fff"/><polygon fill="#4169e1" points="1039.0,329.0 1241.0,329.0 1241.0,451.0 1039.0,451.0"/><polygon fill="#add8e6" points="1039.0,329.0 1060.3,329.0 1064.4,338.1 1069.4,348.3 1074.9,360.5 1081.0,370.6 1087.1,380.8 1091.8,390.9 1088.7,392.9 1080.6,388.9 1074.5,390.9 1068.4,395.0 1062.3,397.0 1056.2,395.0 1050.2,390.9 1044.1,386.9 1039.0,384.8"/><polygon fill="#00bfff" points="1060.3,329.0 1067.4,329.0 1072.1,338.1 1077.0,348.3 1082.6,360.5 1088.7,370.6 1094.4,379.7 1100.9,386.9 1107.0,390.9 1100.9,391.9 1094.8,388.9 1091.8,390.9 1087.1,380.8 1081.0,370.6 1074.9,360.5 1069.4,348.3 1064.4,338.1"/><polygon fill="#00bfff" points="1039.0,364.5 1044.1,367.6 1049.1,374.7 1052.2,382.8 1055.2,390.9 1052.2,395.0 1046.1,392.9 1039.0,388.9"/><polygon fill="#6495ed" points="1041.0,366.5 1044.1,365.5 1046.1,369.6 1043.7,371.6"/><polygon fill="#6495ed" points="1042.0,377.7 1045.7,376.7 1047.1,381.8 1044.1,383.8"/><polygon fill="#ffffff" points="1039.0,329.0 1057.3,329.0 1061.3,338.1 1066.0,348.3 1071.5,360.5 1077.2,370.6 1083.0,380.8 1088.3,390.9 1085.1,390.5 1079.6,383.2 1073.5,376.3 1066.4,368.6 1059.3,360.5 1052.2,354.4 1046.1,349.3 1039.0,342.2"/><polygon fill="#6495ed" points="1065.4,329.0 1072.5,329.0 1076.5,336.1 1080.6,344.2 1081.6,352.3 1086.7,358.4 1083.7,362.5 1085.7,370.6 1090.8,376.7 1096.9,381.8 1102.9,383.8 1107.0,388.9 1100.9,386.9 1093.8,379.7 1087.7,370.6 1081.6,360.5 1075.5,348.3 1070.5,338.1"/><polygon fill="#6495ed" points="1039.0,388.9 1046.1,392.9 1052.2,395.0 1058.3,396.0 1064.4,397.0 1070.5,395.0 1076.5,390.9 1080.6,388.9 1088.7,394.0 1098.9,393.4 1107.0,395.4 1121.2,399.0 1129.3,401.1 1141.5,401.1 1149.6,405.1 1153.7,411.2 1149.6,417.3 1141.5,419.3 1133.4,420.4 1125.3,419.3 1117.2,417.3 1109.0,415.3 1100.9,414.3 1092.8,413.2 1084.7,411.2 1076.5,410.2 1068.4,409.2 1060.3,408.2 1052.2,407.2 1044.1,405.1 1039.0,404.1"/><polygon fill="#6495ed" points="1107.0,390.9 1111.1,383.8 1115.1,380.8 1120.2,378.7 1125.3,379.7 1127.3,374.7 1123.2,368.6 1121.2,362.5 1124.3,358.4 1129.3,362.5 1135.4,368.6 1141.5,374.7 1145.6,380.8 1149.6,384.8 1150.7,390.9 1145.6,397.0 1137.5,400.1 1129.3,401.1 1121.2,399.0 1113.1,397.0"/><polygon fill="#6495ed" points="1149.6,366.5 1155.7,365.5 1161.8,368.6 1165.9,373.7 1161.8,375.7 1155.7,372.6 1150.7,370.6"/><polygon fill="#6495ed" points="1090.8,330.0 1100.9,331.0 1107.0,336.1 1102.9,338.1 1096.9,335.1 1091.8,333.0"/><polygon fill="#00bfff" points="1116.1,384.4 1121.2,383.2 1125.3,385.2 1123.2,387.3 1118.2,386.9"/><polygon fill="#00bfff" points="1143.6,408.2 1148.6,406.8 1153.7,408.2 1150.7,410.6 1145.6,410.4"/><polygon fill="#4169e1" points="1070.5,407.2 1080.6,405.5 1092.8,407.2 1100.9,410.2 1092.8,411.2 1080.6,410.2 1072.5,409.6"/><polygon fill="#0000cd" points="1073.5,337.1 1081.6,334.5 1088.7,338.1 1094.8,343.2 1098.9,349.3 1097.9,355.4 1091.8,358.8 1083.7,356.8 1079.0,351.3 1074.9,344.6"/><polygon fill="#0000cd" points="1090.8,342.2 1098.9,340.2 1105.0,346.2 1110.1,353.4 1112.1,360.5 1111.1,368.6 1110.1,373.7 1106.0,370.6 1102.9,364.5 1099.9,358.4 1096.9,354.4 1095.8,349.3 1093.2,345.2"/><polygon fill="#0000cd" points="1068.4,329.0 1080.6,333.0 1096.9,337.1 1113.1,343.2 1127.3,350.3 1141.5,357.4 1155.7,363.5 1169.9,369.6 1182.1,374.7 1196.3,383.6 1208.5,389.3 1218.7,393.4 1230.9,398.4 1241.0,402.7 1241.0,329.0"/><polygon fill="#0000cd" points="1039.0,408.2 1046.1,409.2 1056.2,411.2 1066.4,413.2 1076.5,414.3 1086.7,416.3 1096.9,418.3 1107.0,419.3 1117.2,420.4 1125.3,421.8 1133.4,423.4 1141.5,426.4 1149.6,427.5 1155.7,423.4 1157.8,415.3 1158.8,407.2 1159.8,399.0 1163.9,390.9 1169.9,387.9 1178.1,386.9 1186.2,388.9 1194.3,392.9 1200.4,397.0 1202.4,395.0 1198.4,388.9 1196.3,382.8 1208.5,387.9 1218.7,391.9 1230.9,397.0 1241.0,401.1 1241.0,451.0 1039.0,451.0"/><polygon fill="#6495ed" points="1218.7,399.0 1222.7,398.0 1225.8,402.1 1223.8,404.1 1220.3,402.1"/><polygon fill="#000080" points="1075.5,338.1 1080.6,336.1 1086.7,339.1 1092.8,344.2 1096.9,349.3 1095.8,354.4 1090.8,357.4 1084.7,355.4 1080.6,350.3 1076.5,344.2"/><polygon fill="#000080" points="1085.7,363.5 1089.7,360.5 1094.4,362.5 1095.2,367.6 1091.8,370.6 1087.1,369.6"/><polygon fill="#000080" points="1094.4,390.5 1098.9,388.9 1103.4,390.9 1101.9,394.6 1096.9,395.0"/><polygon fill="#000080" points="1107.0,396.0 1112.1,394.6 1116.1,397.0 1114.1,401.1 1109.0,400.7"/><polygon fill="#000080" points="1148.6,389.9 1152.1,389.5 1152.9,391.9 1149.6,392.5"/><polygon fill="#000080" points="1085.7,329.0 1100.9,334.1 1117.2,340.2 1131.4,347.3 1145.6,354.4 1159.8,360.5 1172.0,365.5 1186.2,371.6 1200.4,377.7 1212.6,382.8 1224.8,387.9 1232.9,390.9 1241.0,392.9 1241.0,329.0"/><polygon fill="#000080" points="1039.0,411.2 1046.1,412.2 1056.2,414.3 1066.4,416.3 1076.5,417.3 1086.7,419.3 1096.9,421.4 1107.0,422.4 1117.2,423.8 1125.3,425.4 1133.4,427.5 1141.5,431.5 1145.6,434.6 1151.7,432.5 1157.8,430.5 1161.8,425.4 1159.8,419.3 1161.8,413.2 1159.8,407.2 1163.9,399.0 1169.9,395.0 1178.1,397.0 1186.2,401.1 1194.3,405.1 1200.4,410.2 1194.3,415.3 1186.2,417.3 1180.1,415.3 1174.0,411.2 1169.9,409.2 1167.9,413.2 1172.0,419.3 1180.1,422.4 1188.2,424.4 1198.4,423.4 1208.5,421.4 1218.7,419.3 1228.8,415.3 1241.0,411.2 1241.0,451.0 1039.0,451.0"/><polygon fill="#0000cd" points="1165.9,410.2 1172.0,408.2 1178.1,410.2 1174.0,412.2 1167.9,412.8"/><polygon fill="#add8e6" points="1139.9,329.0 1146.4,334.9 1154.9,340.2 1163.5,345.4 1172.0,348.7 1182.1,349.3 1194.3,349.7 1207.3,349.3 1211.6,346.6 1219.1,345.6 1228.8,346.0 1241.0,347.3 1241.0,329.0"/><polygon fill="#00bfff" points="1140.7,329.0 1147.0,334.5 1155.3,339.5 1163.7,344.8 1172.0,347.9 1182.1,348.5 1194.3,348.9 1206.9,348.5 1211.0,345.8 1218.9,344.8 1228.8,345.2 1241.0,346.4 1241.0,329.0"/><polygon fill="#ffffff" points="1141.5,329.0 1147.6,334.1 1155.7,339.1 1163.9,344.2 1172.0,347.3 1182.1,347.9 1194.3,348.3 1206.5,347.9 1210.6,345.2 1218.7,344.2 1228.8,344.6 1241.0,345.8 1241.0,329.0"/></g>
<g clip-path="url(#c95)"><rect x="860" y="340" width="200" height="120" fill="#fff"/><polygon fill="#add8e6" points="859.0,339.0 1061.0,339.0 1061.0,461.0 859.0,461.0"/><polygon fill="#ffffff" points="886.4,339.0 900.6,339.0 899.6,342.4 888.4,343.0"/><polygon fill="#ffffff" points="1048.8,339.0 1061.0,339.0 1061.0,380.6 1054.9,374.5 1050.9,364.4 1046.8,356.2 1042.7,348.1 1044.8,342.0"/><polygon fill="#ffffff" points="1022.4,348.1 1026.5,348.1 1026.5,352.2 1022.4,352.2"/><polygon fill="#00bfff" points="859.0,351.2 868.1,352.2 876.2,350.2 884.4,352.2 892.5,351.2 900.6,354.2 908.7,348.1 914.8,344.1 920.9,342.0 929.0,343.0 935.1,342.0 941.2,346.1 947.3,348.1 953.4,344.1 957.5,339.0 985.9,339.0 989.9,344.1 994.0,350.2 1002.1,352.2 1010.3,354.2 1018.4,357.3 1026.5,359.3 1034.6,362.3 1040.7,368.4 1044.8,375.5 1049.8,382.6 1054.9,388.7 1061.0,390.8 1061.0,461.0 859.0,461.0"/><polygon fill="#00bfff" points="973.7,344.1 977.8,342.0 981.8,348.1 983.9,354.2 979.8,355.2 976.8,350.2"/><polygon fill="#00bfff" points="989.9,339.0 996.0,339.0 1000.1,346.1 996.0,349.1 992.0,345.1"/><polygon fill="#add8e6" points="941.2,356.2 947.3,353.2 953.4,356.2 951.4,362.3 945.3,363.4"/><polygon fill="#add8e6" points="907.7,352.2 912.8,349.1 918.9,351.2 916.9,356.2 909.7,357.3"/><polygon fill="#6495ed" points="859.0,362.3 868.1,364.4 876.2,363.4 884.4,365.4 892.5,368.4 900.6,367.4 908.7,364.4 916.9,361.3 925.0,359.3 933.1,362.3 941.2,365.4 949.3,363.4 957.5,360.3 965.6,359.3 973.7,356.2 979.8,354.2 985.9,357.3 992.0,355.2 1000.1,356.2 1008.2,359.3 1016.3,360.3 1024.5,362.3 1032.6,364.4 1038.7,370.5 1042.7,376.5 1046.8,383.7 1052.9,389.7 1061.0,392.8 1061.0,461.0 859.0,461.0"/><polygon fill="#6495ed" points="925.0,349.1 930.1,348.1 931.1,353.2 927.0,355.2"/><polygon fill="#6495ed" points="978.8,350.2 981.8,349.1 983.5,355.2 980.2,356.2"/><polygon fill="#00bfff" points="1026.5,385.7 1032.6,384.7 1038.7,388.7 1042.7,389.7 1038.7,391.2 1030.6,388.7"/><polygon fill="#4169e1" points="859.0,380.6 868.1,378.6 878.3,380.6 886.4,383.7 894.5,380.6 902.6,378.6 910.8,376.5 918.9,372.5 925.0,368.4 931.1,370.5 937.2,372.5 945.3,370.5 951.4,366.4 955.4,362.3 961.5,360.3 969.6,362.3 975.7,361.3 981.8,365.4 987.9,368.4 994.0,366.4 1000.1,368.4 1006.2,370.5 1014.3,372.5 1020.4,376.5 1024.5,382.6 1022.4,388.7 1026.5,392.8 1032.6,398.9 1036.6,402.9 1042.7,405.0 1050.9,407.0 1061.0,408.0 1061.0,461.0 859.0,461.0"/><polygon fill="#6495ed" points="903.7,372.5 909.7,370.5 913.8,373.5 908.7,376.1 904.3,375.5"/><polygon fill="#6495ed" points="1000.1,376.5 1006.2,375.5 1010.3,380.6 1006.2,383.7 1001.1,381.6"/><polygon fill="#6495ed" points="870.2,411.1 880.3,410.1 890.5,411.1 896.5,414.7 890.5,416.8 880.3,416.1 872.2,414.7"/><polygon fill="#0000cd" points="859.0,386.7 868.1,385.7 876.2,387.7 882.3,390.8 890.5,389.7 900.6,388.7 910.8,386.7 916.9,382.6 918.9,377.6 927.0,375.5 935.1,377.6 941.2,375.5 949.3,373.5 955.4,370.5 957.5,366.4 965.6,367.4 973.7,369.4 979.8,372.5 985.9,376.5 992.0,380.6 998.1,385.7 1004.2,389.7 1010.3,393.8 1014.3,398.9 1012.3,405.0 1010.3,411.1 1014.3,414.1 1022.4,415.1 1032.6,413.1 1042.7,412.1 1050.9,411.1 1061.0,410.1 1061.0,461.0 859.0,461.0"/><polygon fill="#6495ed" points="870.2,411.5 880.3,410.5 890.5,411.5 896.1,414.7 890.5,416.3 880.3,415.7 872.2,414.3"/><polygon fill="#6495ed" points="931.1,402.9 939.2,403.4 939.6,406.0 931.5,406.0"/><polygon fill="#6495ed" points="951.4,405.0 955.4,404.6 955.8,408.0 951.8,408.2"/><polygon fill="#6495ed" points="965.6,400.9 973.7,402.9 977.8,407.0 971.7,408.0 965.6,405.0"/><polygon fill="#6495ed" points="976.8,393.2 980.8,393.2 980.8,395.2 976.8,395.2"/><polygon fill="#000080" points="945.3,386.7 951.4,380.6 957.5,372.5 961.5,369.4 965.6,373.5 969.6,376.5 975.7,370.5 979.8,373.5 983.9,378.6 987.9,383.7 981.8,387.7 975.7,390.8 969.6,393.8 963.6,392.8 959.5,388.7 953.4,389.7 947.3,389.7"/><polygon fill="#0000cd" points="957.5,380.6 962.5,377.6 965.6,380.6 961.5,384.3 957.9,383.7"/><polygon fill="#000080" points="979.8,398.9 985.9,394.8 992.0,393.8 1000.1,395.8 1002.1,400.9 998.1,405.0 992.0,407.0 989.9,410.1 985.9,405.0 981.8,401.9"/><polygon fill="#000080" points="952.4,397.9 957.5,396.4 959.1,399.9 953.8,400.9"/><polygon fill="#000080" points="859.0,422.2 868.1,420.8 876.2,419.2 886.4,418.2 896.5,418.8 904.7,417.2 912.8,416.1 920.9,415.1 929.0,414.1 937.2,414.7 941.2,418.2 947.3,419.2 955.4,418.2 963.6,419.6 973.7,419.2 983.9,418.2 992.0,419.2 1002.1,416.1 1006.2,414.1 1010.3,417.2 1018.4,418.2 1026.5,416.8 1034.6,415.5 1042.7,414.7 1050.9,413.5 1061.0,412.1 1061.0,461.0 859.0,461.0"/><polygon fill="#000080" points="860.0,392.8 868.1,391.8 878.3,393.2 884.4,395.8 878.3,397.9 868.1,396.9 860.0,396.4"/><polygon fill="#4169e1" stroke="#4169e1" stroke-width="2.2" stroke-linejoin="round" points="962.1,355.4 966.0,359.3 962.1,363.1 958.3,359.3"/><polygon fill="#0000cd" stroke="#0000cd" stroke-width="1.1" stroke-linejoin="round" points="962.1,355.4 966.0,359.3 962.1,363.1 958.3,359.3"/><polygon fill="#000080" points="962.1,355.4 966.0,359.3 962.1,363.1 958.3,359.3"/><polygon fill="#add8e6" points="865.1,461.0 869.1,456.1 878.3,454.9 886.4,457.8 888.4,461.0"/><polygon fill="#00bfff" points="868.1,461.0 871.2,457.8 878.3,456.8 884.4,458.8 885.4,461.0"/></g>
<g clip-path="url(#c96)"><rect x="1260" y="380" width="200" height="120" fill="#fff"/><polygon fill="#add8e6" points="1259.0,379.0 1340.2,379.0 1346.3,386.1 1354.4,393.2 1362.5,399.3 1370.7,406.4 1378.8,412.5 1387.9,418.6 1396.0,421.6 1404.2,423.7 1412.3,423.7 1418.4,425.7 1421.4,430.8 1422.4,438.9 1420.4,445.0 1421.4,451.1 1425.5,456.1 1429.5,462.2 1430.2,470.4 1426.9,478.5 1422.4,484.6 1418.4,489.6 1420.4,495.7 1419.4,501.0 1389.9,501.0 1381.8,499.4 1374.7,496.1 1369.6,492.1 1361.5,491.7 1353.4,490.7 1345.3,491.3 1337.2,492.3 1329.0,492.9 1320.9,494.1 1312.8,496.1 1304.7,498.2 1296.5,499.8 1292.5,501.0 1259.0,501.0"/><polygon fill="#ffffff" points="1415.3,431.8 1419.4,431.8 1419.4,435.8 1415.3,435.8"/><polygon fill="#ffffff" points="1416.3,437.9 1420.4,437.9 1420.4,439.9 1416.3,439.9"/><polygon fill="#00bfff" points="1259.0,379.0 1336.1,379.0 1342.2,386.1 1350.4,394.2 1358.5,400.3 1366.6,407.4 1374.7,414.5 1383.9,420.6 1389.9,426.7 1393.0,434.8 1395.0,442.9 1400.1,448.0 1408.2,450.1 1415.3,451.1 1422.4,455.1 1426.9,461.2 1427.5,469.3 1424.5,476.4 1419.4,481.5 1414.3,485.6 1410.3,489.6 1402.1,487.6 1394.0,484.6 1385.9,485.6 1377.8,487.2 1369.6,487.6 1361.5,487.2 1353.4,486.6 1345.3,487.0 1337.2,488.0 1329.0,488.6 1320.9,490.1 1312.8,492.1 1304.7,494.1 1296.5,495.3 1288.4,496.8 1280.3,498.8 1272.2,501.0 1259.0,501.0"/><polygon fill="#00bfff" points="1400.1,430.8 1404.2,427.7 1410.3,426.7 1414.3,429.7 1413.3,436.9 1411.3,442.9 1406.2,440.9 1402.1,435.8"/><polygon fill="#6495ed" points="1259.0,379.0 1333.1,379.0 1339.2,386.1 1347.3,395.2 1355.4,402.3 1363.6,409.4 1371.7,416.5 1379.8,422.6 1383.9,428.7 1386.9,436.9 1389.9,445.0 1394.0,451.1 1402.1,453.1 1410.3,453.5 1418.4,456.1 1423.5,461.2 1424.1,468.3 1421.4,474.4 1416.3,478.5 1410.3,479.5 1406.2,483.6 1400.1,481.5 1392.0,479.5 1383.9,481.5 1377.8,483.6 1369.6,484.6 1361.5,484.0 1353.4,483.1 1345.3,483.6 1337.2,484.6 1329.0,485.2 1320.9,486.6 1312.8,488.6 1304.7,490.7 1296.5,491.7 1288.4,493.3 1280.3,495.7 1272.2,497.4 1259.0,498.8"/><polygon fill="#4169e1" points="1381.8,440.9 1384.9,449.0 1389.9,455.5 1398.1,455.1 1407.2,454.1 1416.3,456.5 1421.8,462.2 1422.0,469.3 1418.4,473.8 1412.3,477.1 1402.1,478.5 1394.0,475.4 1386.9,473.4 1381.8,475.4 1376.8,479.5 1369.6,481.5 1361.5,481.9 1373.7,475.4 1381.8,469.3 1385.9,461.2 1382.8,451.1"/><polygon fill="#0000cd" points="1259.0,379.0 1330.1,379.0 1336.1,386.1 1344.3,396.2 1351.4,403.4 1358.5,410.5 1365.6,417.6 1372.7,424.7 1377.4,432.8 1381.4,440.9 1384.3,448.0 1386.9,453.1 1392.0,458.2 1398.1,457.2 1407.2,456.1 1415.3,458.2 1420.4,463.2 1419.4,470.4 1414.3,474.4 1406.2,475.4 1398.1,474.4 1392.0,472.4 1385.9,470.4 1381.8,473.4 1375.7,477.5 1367.6,479.5 1357.5,480.5 1349.3,480.1 1341.2,480.5 1333.1,481.5 1325.0,482.1 1316.9,483.6 1308.7,485.6 1300.6,487.6 1292.5,488.6 1284.4,490.3 1276.2,492.7 1268.1,494.3 1259.0,495.7"/><polygon fill="#000080" points="1259.0,379.0 1327.0,379.0 1333.1,386.1 1341.2,396.2 1348.3,403.4 1355.4,410.5 1362.5,417.6 1369.6,424.7 1373.7,432.8 1377.8,440.9 1380.8,448.0 1383.9,454.1 1386.9,460.2 1383.9,465.3 1379.8,469.3 1373.7,474.4 1365.6,476.4 1357.5,477.5 1349.3,477.1 1341.2,477.5 1333.1,478.5 1325.0,479.1 1316.9,480.5 1308.7,482.5 1300.6,484.6 1292.5,485.6 1284.4,487.2 1276.2,489.6 1268.1,491.3 1259.0,492.7"/><polygon fill="#000080" points="1394.0,463.2 1398.1,460.2 1406.2,459.2 1413.3,461.2 1417.4,465.3 1415.3,470.4 1409.2,472.4 1402.1,471.4 1397.1,469.3"/><polygon fill="#0000cd" points="1263.0,449.0 1268.1,448.6 1268.1,450.7 1263.0,451.1"/><polygon fill="#000080" points="1370.7,491.1 1374.3,494.7 1370.7,498.4 1367.0,494.7"/><polygon fill="#000080" points="1380.8,496.1 1383.9,498.8 1380.8,501.4 1377.8,498.8"/><polygon fill="#6495ed" stroke="#6495ed" stroke-width="4.2" stroke-linejoin="round" points="1404.6,481.5 1409.2,486.0 1404.6,490.7 1400.1,486.0"/><polygon fill="#4169e1" stroke="#4169e1" stroke-width="2.6" stroke-linejoin="round" points="1404.6,481.5 1409.2,486.0 1404.6,490.7 1400.1,486.0"/><polygon fill="#0000cd" stroke="#0000cd" stroke-width="1.3" stroke-linejoin="round" points="1404.6,481.5 1409.2,486.0 1404.6,490.7 1400.1,486.0"/><polygon fill="#000080" points="1404.6,481.5 1409.2,486.0 1404.6,490.7 1400.1,486.0"/></g>
<g clip-path="url(#c97)"><rect x="780" y="410" width="200" height="120" fill="#fff"/><polygon fill="#add8e6" points="786.1,428.3 787.1,420.2 792.2,415.1 800.3,411.0 806.4,409.0 922.1,409.0 922.1,422.2 861.2,422.2 840.9,432.3 830.8,437.4 823.7,440.5 818.6,444.5 814.5,450.6 806.4,453.7 799.3,456.7 795.2,453.7 797.3,448.6 792.2,449.6 788.1,447.6 787.1,443.5 794.2,440.5 802.3,436.4 810.5,431.3 816.5,428.3 808.4,427.3 800.3,429.3 792.2,430.3"/><polygon fill="#00bfff" points="789.1,422.2 794.2,417.1 801.3,413.0 807.4,409.0 922.1,409.0 922.1,422.2 861.2,422.2 840.9,431.3 830.8,436.4 823.7,439.4 817.6,443.5 813.5,448.6 806.4,451.6 800.3,453.7 798.3,450.6 804.4,445.5 810.5,440.5 816.5,435.4 823.7,430.3 830.8,425.2 837.9,420.2 841.9,415.1 836.9,414.1 828.7,417.1 820.6,420.2 812.5,419.1 804.4,420.2 796.2,423.2"/><polygon fill="#6495ed" points="808.4,446.5 812.5,441.5 817.6,436.4 824.7,431.3 831.8,426.2 838.9,421.2 842.9,416.1 847.0,409.0 922.1,409.0 922.1,422.2 861.2,422.2 840.9,430.3 830.8,435.4 823.7,438.4 817.6,442.5 812.5,447.6"/><polygon fill="#6495ed" points="802.3,414.1 810.5,410.0 832.8,409.0 838.9,413.0 830.8,416.1 820.6,418.1 810.5,418.1"/><polygon fill="#4169e1" points="813.5,443.5 818.6,438.4 825.7,432.7 832.8,427.9 839.9,422.6 844.0,417.1 849.0,409.0 922.1,409.0 922.1,422.2 861.2,421.2 840.9,429.3 830.8,434.4 823.7,437.4 818.2,440.9"/><polygon fill="#0000cd" points="817.6,440.5 823.7,434.8 830.8,430.3 837.9,425.2 845.0,419.1 850.1,413.0 853.1,409.0 981.0,409.0 981.0,420.2 922.1,419.1 861.2,420.2 840.9,428.3 830.8,433.4 823.7,436.4"/><polygon fill="#add8e6" points="828.7,445.5 834.8,446.5 837.9,451.6 840.9,456.3 847.0,459.7 840.9,465.8 840.9,471.9 846.0,474.6 840.9,479.0 834.8,484.1 829.7,490.2 825.7,495.3 820.6,497.3 823.7,491.2 828.7,485.1 833.8,479.0 837.9,472.9 835.8,466.9 837.9,461.8 833.8,456.7 830.8,451.6"/><polygon fill="#00bfff" points="831.8,447.0 835.2,447.6 838.3,452.6 841.3,457.1 847.0,460.4 842.9,465.8 843.4,470.9 847.0,474.0 841.9,478.0 838.9,480.1 839.9,472.9 837.9,466.9 839.9,461.8 835.8,457.1 833.2,452.2"/><polyline fill="none" stroke="#add8e6" stroke-width="11.0" stroke-linejoin="round" stroke-linecap="round" points="833.8,447.6 835.8,451.6 838.9,455.7 845.0,458.7 853.1,459.7 861.2,458.3 869.3,456.7 876.4,455.5 882.5,456.3 885.6,459.7 885.2,463.2 881.5,466.4 875.4,468.3 867.3,470.1 859.2,471.9 851.1,473.4 845.0,476.0 838.9,480.1 833.8,485.1 828.7,490.2 826.3,495.3"/><polyline fill="none" stroke="#00bfff" stroke-width="7.6" stroke-linejoin="round" stroke-linecap="round" points="833.8,447.6 835.8,451.6 838.9,455.7 845.0,458.7 853.1,459.7 861.2,458.3 869.3,456.7 876.4,455.5 882.5,456.3 885.6,459.7 885.2,463.2 881.5,466.4 875.4,468.3 867.3,470.1 859.2,471.9 851.1,473.4 845.0,476.0 838.9,480.1 833.8,485.1 828.7,490.2 826.3,495.3"/><polyline fill="none" stroke="#6495ed" stroke-width="4.7" stroke-linejoin="round" stroke-linecap="round" points="833.8,447.6 835.8,451.6 838.9,455.7 845.0,458.7 853.1,459.7 861.2,458.3 869.3,456.7 876.4,455.5 882.5,456.3 885.6,459.7 885.2,463.2 881.5,466.4 875.4,468.3 867.3,470.1 859.2,471.9 851.1,473.4 845.0,476.0 838.9,480.1 833.8,485.1 828.7,490.2 826.3,495.3"/><polyline fill="none" stroke="#4169e1" stroke-width="2.9" stroke-linejoin="round" stroke-linecap="round" points="833.8,447.6 835.8,451.6 838.9,455.7 845.0,458.7 853.1,459.7 861.2,458.3 869.3,456.7 876.4,455.5 882.5,456.3 885.6,459.7 885.2,463.2 881.5,466.4 875.4,468.3 867.3,470.1 859.2,471.9 851.1,473.4 845.0,476.0 838.9,480.1 833.8,485.1 828.7,490.2 826.3,495.3"/><polyline fill="none" stroke="#0000cd" stroke-width="1.4" stroke-linejoin="round" stroke-linecap="round" points="833.8,447.6 835.8,451.6 838.9,455.7 845.0,458.7 853.1,459.7 861.2,458.3 869.3,456.7 876.4,455.5 882.5,456.3 885.6,459.7 885.2,463.2 881.5,466.4 875.4,468.3 867.3,470.1 859.2,471.9 851.1,473.4 845.0,476.0 838.9,480.1 833.8,485.1 828.7,490.2 826.3,495.3"/><polyline fill="none" stroke="#add8e6" stroke-width="17.1" stroke-linejoin="round" stroke-linecap="round" points="826.3,495.3 827.1,501.4 830.8,505.4 836.9,508.5 845.0,509.5 851.1,507.5 857.2,504.4 865.3,501.4"/><polyline fill="none" stroke="#00bfff" stroke-width="11.8" stroke-linejoin="round" stroke-linecap="round" points="826.3,495.3 827.1,501.4 830.8,505.4 836.9,508.5 845.0,509.5 851.1,507.5 857.2,504.4 865.3,501.4"/><polyline fill="none" stroke="#6495ed" stroke-width="7.3" stroke-linejoin="round" stroke-linecap="round" points="826.3,495.3 827.1,501.4 830.8,505.4 836.9,508.5 845.0,509.5 851.1,507.5 857.2,504.4 865.3,501.4"/><polyline fill="none" stroke="#4169e1" stroke-width="4.5" stroke-linejoin="round" stroke-linecap="round" points="826.3,495.3 827.1,501.4 830.8,505.4 836.9,508.5 845.0,509.5 851.1,507.5 857.2,504.4 865.3,501.4"/><polyline fill="none" stroke="#0000cd" stroke-width="2.2" stroke-linejoin="round" stroke-linecap="round" points="826.3,495.3 827.1,501.4 830.8,505.4 836.9,508.5 845.0,509.5 851.1,507.5 857.2,504.4 865.3,501.4"/><polyline fill="none" stroke="#add8e6" stroke-width="28.1" stroke-linejoin="round" stroke-linecap="round" points="865.3,501.4 873.4,499.3 881.5,497.7 889.6,496.3 897.8,494.9 905.9,493.7 914.0,493.2 922.1,494.3 932.3,495.3 942.4,496.3 952.6,496.9 962.7,496.3 972.9,495.3 981.0,493.2"/><polyline fill="none" stroke="#00bfff" stroke-width="19.3" stroke-linejoin="round" stroke-linecap="round" points="865.3,501.4 873.4,499.3 881.5,497.7 889.6,496.3 897.8,494.9 905.9,493.7 914.0,493.2 922.1,494.3 932.3,495.3 942.4,496.3 952.6,496.9 962.7,496.3 972.9,495.3 981.0,493.2"/><polyline fill="none" stroke="#6495ed" stroke-width="12.0" stroke-linejoin="round" stroke-linecap="round" points="865.3,501.4 873.4,499.3 881.5,497.7 889.6,496.3 897.8,494.9 905.9,493.7 914.0,493.2 922.1,494.3 932.3,495.3 942.4,496.3 952.6,496.9 962.7,496.3 972.9,495.3 981.0,493.2"/><polyline fill="none" stroke="#4169e1" stroke-width="7.4" stroke-linejoin="round" stroke-linecap="round" points="865.3,501.4 873.4,499.3 881.5,497.7 889.6,496.3 897.8,494.9 905.9,493.7 914.0,493.2 922.1,494.3 932.3,495.3 942.4,496.3 952.6,496.9 962.7,496.3 972.9,495.3 981.0,493.2"/><polyline fill="none" stroke="#0000cd" stroke-width="3.7" stroke-linejoin="round" stroke-linecap="round" points="865.3,501.4 873.4,499.3 881.5,497.7 889.6,496.3 897.8,494.9 905.9,493.7 914.0,493.2 922.1,494.3 932.3,495.3 942.4,496.3 952.6,496.9 962.7,496.3 972.9,495.3 981.0,493.2"/><polygon fill="#add8e6" points="813.5,505.4 817.6,499.3 823.7,496.3 827.7,503.4 832.8,508.5 840.9,511.5 847.0,513.6 842.9,516.6 834.8,515.6 826.7,513.6 818.6,512.5 814.5,509.5"/><polygon fill="#00bfff" points="816.5,505.0 819.6,500.4 824.3,498.3 827.7,504.4 833.2,509.5 840.9,512.5 834.8,513.6 826.7,511.5 819.6,510.5"/><polygon fill="#000080" points="981.0,419.1 962.7,418.1 942.4,419.1 922.1,418.1 909.9,417.1 901.8,418.1 893.7,419.1 881.5,420.2 869.3,421.2 861.2,419.1 855.1,422.2 849.0,425.2 840.9,430.3 834.8,433.4 828.7,435.4 822.6,438.4 817.6,442.5 813.5,447.6 820.6,448.6 828.7,446.5 833.8,447.6 835.8,451.6 838.9,455.7 845.0,458.7 853.1,459.7 861.2,458.3 869.3,456.7 876.4,455.5 882.5,456.3 885.6,459.7 885.2,463.2 881.5,466.4 875.4,468.3 867.3,470.1 859.2,471.9 851.1,473.4 845.0,476.0 838.9,480.1 833.8,485.1 828.7,490.2 826.3,495.3 827.1,501.4 830.8,505.4 836.9,508.5 845.0,509.5 851.1,507.5 857.2,504.4 865.3,501.4 873.4,499.3 881.5,497.7 889.6,496.3 897.8,494.9 905.9,493.7 914.0,493.2 922.1,494.3 932.3,495.3 942.4,496.3 952.6,496.9 962.7,496.3 972.9,495.3 981.0,493.2"/><polygon fill="#ffffff" points="856.1,464.8 861.2,462.4 869.3,460.4 876.4,458.7 881.5,459.3 882.5,462.4 879.5,464.8 872.4,466.4 864.3,467.9 858.2,468.5"/></g>
<g clip-path="url(#c98)"><rect x="780" y="410" width="100" height="60" fill="#fff"/><polygon fill="#add8e6" points="784.6,428.3 785.1,423.2 787.6,418.6 789.6,414.6 791.2,409.5 840.9,409.5 839.9,417.1 834.8,417.9 829.7,419.4 824.7,421.5 820.6,424.0 818.6,425.2 813.5,426.8 808.4,428.8 804.4,430.8 800.3,432.3 796.2,431.8 795.2,429.8 792.2,430.3 789.1,430.8 786.1,430.3"/><polygon fill="#ffffff" points="795.2,429.8 800.3,426.8 805.4,425.2 810.5,423.2 815.5,421.7 820.6,420.2 821.6,421.7 818.6,425.2 813.5,427.3 808.4,429.3 804.4,431.3 800.3,432.5 797.3,431.8"/><polygon fill="#00bfff" points="785.6,427.3 786.1,423.2 788.6,418.6 790.7,414.6 792.2,409.5 840.9,409.5 839.9,416.1 834.8,417.1 829.7,418.6 824.7,420.2 820.6,419.1 816.5,417.1 812.5,416.1 809.4,417.6 806.4,419.1 803.4,421.2 800.3,425.2 798.3,423.7 795.2,425.2 792.2,427.8 789.1,429.8 786.6,429.3"/><polygon fill="#6495ed" points="786.1,423.2 788.1,419.1 791.2,415.1 793.2,411.0 794.2,409.5 840.9,409.5 839.9,415.6 836.9,416.1 832.8,417.6 827.7,419.1 822.6,421.2 820.6,419.6 816.5,417.1 812.5,416.1 809.4,417.6 806.4,419.1 803.4,421.2 800.3,423.2 798.3,421.2 795.2,423.2 791.2,426.2 788.1,428.3 786.1,426.8"/><polygon fill="#00bfff" points="798.3,417.6 801.3,416.1 804.4,417.1 802.8,419.1 799.8,419.6"/><polygon fill="#4169e1" points="817.6,409.5 840.9,409.5 839.9,415.1 837.4,415.6 832.8,417.1 828.7,418.6 825.7,417.1 823.7,414.1 820.6,412.0"/><polygon fill="#4169e1" points="797.3,412.5 800.3,412.0 801.8,414.1 799.3,415.1"/><polygon fill="#add8e6" points="787.6,446.5 790.2,444.0 793.7,443.5 796.2,445.0 795.2,448.6 796.8,451.6 795.2,454.7 796.2,457.7 794.2,458.7 791.2,455.7 788.6,451.6"/><polygon fill="#add8e6" points="810.5,432.8 808.4,436.4 806.4,440.5 804.4,444.5 801.3,447.6 797.8,450.6 795.2,453.7 795.2,457.2 800.3,457.7 806.4,455.9 812.5,453.7 816.5,452.6 822.6,450.6 827.7,448.6 830.8,447.1 833.8,447.6 835.3,450.6 836.3,454.7 838.9,458.2 841.9,460.8 840.9,463.8 839.4,466.9 838.9,470.5 853.1,470.5 854.6,466.9 857.2,464.3 861.2,462.8 866.3,461.8 871.4,460.8 880.5,458.7 880.5,430.3 840.9,416.1"/><polygon fill="#ffffff" points="855.6,465.3 860.2,463.3 866.3,462.0 871.4,461.3 876.4,459.9 880.5,459.2 880.5,466.9 875.4,467.9 869.3,468.9 863.2,469.9 857.2,468.9"/><polygon fill="#00bfff" points="811.0,432.8 808.9,436.4 806.9,440.5 804.9,444.5 801.8,447.6 798.3,450.6 795.9,453.7 796.0,456.7 800.3,457.0 806.4,455.3 812.5,453.0 816.5,452.0 822.6,450.0 827.7,448.0 830.8,446.3 834.3,446.8 836.0,450.1 837.1,454.3 839.7,457.7 842.9,459.9 849.0,461.0 855.1,460.8 861.2,459.9 867.3,458.9 873.4,457.7 880.5,455.9 880.5,430.3 840.9,416.1"/><polygon fill="#6495ed" points="811.5,432.8 809.4,436.4 807.4,440.5 805.4,444.5 802.3,447.6 798.8,450.6 796.2,453.7 796.8,456.2 800.3,456.2 805.4,454.7 810.5,452.6 815.5,451.1 820.6,449.6 825.7,447.8 829.7,445.5 834.8,446.0 836.4,449.6 837.5,453.7 840.1,456.9 844.0,459.1 849.0,460.2 855.1,459.7 861.2,459.1 867.3,458.1 873.4,456.9 880.5,455.3 880.5,430.3 840.9,416.1"/><polygon fill="#4169e1" points="813.5,431.8 811.5,435.4 809.4,439.4 807.9,443.5 804.4,447.6 800.3,450.6 798.3,453.7 800.3,455.2 804.4,453.7 808.4,451.6 812.5,450.6 815.0,451.1 880.5,455.3 880.5,420.2 840.9,416.1"/><polygon fill="#0000cd" points="800.3,451.8 802.8,451.1 804.9,452.1 803.9,453.7 801.3,453.9"/><polygon fill="#0000cd" points="816.5,430.3 820.6,427.3 824.7,424.2 828.7,422.2 832.8,420.2 836.9,418.6 839.4,417.1 840.4,413.0 841.4,409.5 880.5,409.5 880.5,455.7 840.9,455.7 814.5,451.1 812.5,450.6 810.5,448.6 811.0,445.5 812.5,441.5 814.0,438.4 815.5,434.4"/><polygon fill="#ffffff" points="822.6,451.0 827.7,449.2 830.8,447.8 833.3,448.1 834.8,450.8 835.8,454.7 838.4,458.7 840.9,461.3 840.1,463.8 838.7,466.9 838.1,470.5 820.6,470.5 810.5,457.7 814.5,454.7"/><polygon fill="#000080" points="880.5,420.2 871.4,422.2 863.2,423.2 857.2,425.2 851.1,424.2 846.0,423.2 842.9,425.2 838.9,427.3 836.9,430.3 833.8,433.4 830.8,430.3 827.7,429.3 825.7,433.4 822.6,435.4 820.6,438.4 817.6,441.5 814.5,444.5 813.0,448.1 814.5,450.6 817.6,451.1 821.6,449.6 825.7,447.6 829.7,446.0 833.8,446.5 835.8,449.6 836.9,453.7 839.9,456.7 844.0,458.7 848.0,459.7 853.1,459.2 858.2,458.7 863.2,458.2 868.3,457.2 873.4,456.2 880.5,454.7"/><polygon fill="#0000cd" points="842.9,426.8 846.0,424.7 850.1,425.2 851.1,427.3 848.0,428.8 845.0,428.8"/><polygon fill="#0000cd" points="833.8,431.8 836.9,430.3 840.9,431.3 838.9,433.9 835.8,434.9"/></g></g>
<g fill="none" stroke="#000" stroke-width="1.7" stroke-linejoin="round" stroke-linecap="round"><polyline points="75.5,41.3 77.9,40.1 80.9,36.6 83.8,31.4 86.6,29.5 90.8,30.7 94.3,33.8 100.2,34.7 106.1,34.2 110.8,36.1 115.5,36.1 117.2,34.7 114.3,33.8 109.6,33.8 107.3,33.1 109.6,30.7 114.3,29.5 119.0,30.7 124.9,32.4 128.0,34.2 129.6,38.9 132.7,42.5 136.7,46.5 141.4,45.5 147.3,43.6 153.1,41.3 159.0,36.6 164.9,29.5 169.6,24.4 173.6,21.5 182.6,21.3 189.6,20.6 194.3,18.9 199.0,14.9 203.7,12.6 209.6,11.6 213.1,11.9 213.8,16.6 217.4,18.9 216.0,23.6 219.0,26.0 221.4,24.4 222.5,28.4 222.1,36.6 221.4,46.0 220.2,52.6 223.7,54.2 227.2,57.8 228.4,64.8 229.6,67.6 230.8,62.5 235.5,60.6 240.2,58.9 244.2,55.4 246.1,62.5 245.6,71.9 244.9,81.3 247.2,84.8 245.6,87.2 244.9,94.2 244.9,100.1 245.6,104.8 242.5,107.2 238.5,111.9 234.3,113.8 231.9,116.6 231.9,121.3 230.1,124.8 227.2,129.5 224.4,135.4 222.5,142.5"/><polyline points="170.8,9.5 172.0,15.4 173.6,21.5"/><polyline points="235.5,9.5 237.8,14.2 241.4,18.9 243.2,26.0 244.9,34.2 248.4,44.8 251.9,55.4 255.5,66.0 257.8,74.2 257.8,77.1 250.8,78.9 245.6,81.3"/><polyline points="257.8,74.2 260.2,70.7 266.1,68.4 270.8,67.6 275.5,69.1 281.3,68.4 284.9,70.0 287.2,66.7 289.6,62.0 293.1,59.6 291.9,54.9 294.3,53.1 291.9,49.5 294.3,42.5 297.8,34.2 301.3,27.2 304.9,21.3 308.4,16.6 311.4,13.1 311.9,9.5"/><polyline points="80.2,9.5 81.4,14.9 80.5,20.1 78.6,24.4 75.8,27.2"/><polyline points="75.8,27.6 78.6,31.4 81.4,34.7 82.8,36.1"/>
<polyline points="222.5,142.0 224.4,145.5 223.7,148.6 228.4,149.1 230.1,151.4 227.2,156.1 224.9,162.0 222.5,167.9 219.0,174.9 215.5,180.8 210.8,185.5 206.1,189.1 200.2,190.9 196.7,194.2 195.5,200.8 194.3,207.9 194.8,211.4 199.0,212.6 201.8,214.9 201.4,218.5 206.1,220.8 208.0,222.0 206.5,229.1 204.9,234.9 201.4,238.5 196.7,243.2 192.0,247.9 189.6,252.1 190.8,256.1 189.1,260.8 187.3,265.5 183.7,270.9 179.0,273.8 176.7,276.1 175.5,278.5"/><polyline points="395.4,278.5 397.8,270.2 401.3,264.4 407.2,259.6 413.1,256.8 420.1,254.5"/>
<polyline points="75.5,309.8 81.4,306.2 88.5,301.5 95.5,296.8 103.8,293.3 107.3,288.6 110.8,285.1 119.0,283.2 133.2,283.9 149.6,283.2 166.1,282.7 180.2,282.2 186.1,280.4 190.8,279.9 195.5,281.5 201.4,282.7 206.1,285.1 209.6,288.6 212.7,292.1 213.1,298.0 215.5,303.9 217.8,309.8 221.4,315.6 226.1,320.4 231.9,323.9 240.2,326.7 246.1,322.7 251.9,319.2 257.8,317.5 262.5,316.1 267.2,318.0 271.9,321.5 275.5,325.1 275.5,329.8 277.8,334.5 281.3,338.7 286.0,341.1 290.7,341.5 296.6,340.4 303.7,337.3 311.9,334.0 319.0,331.6 326.0,330.2 333.1,329.3 340.1,329.8 347.2,328.6 354.3,326.2 361.3,324.6 368.8,322.7 369.5,316.8 370.3,310.9 373.1,306.2 377.8,301.5 384.8,296.8 390.7,290.9 394.2,283.9 395.4,277.3"/><polyline points="175.5,277.3 180.2,282.2"/><polyline points="240.2,326.7 235.5,332.1 233.1,336.8 230.8,343.9 227.2,350.9 221.4,356.8 216.7,362.7 210.8,368.6 203.7,373.3 196.7,378.0 192.4,383.9 189.6,390.9 188.4,400.4 187.3,407.4 186.8,412.1 188.4,414.5"/>
<polyline points="187.3,413.3 192.0,416.4 200.2,419.2 206.1,422.9 209.6,425.8 213.1,426.9 222.5,426.2 230.8,425.3 235.5,426.9 238.5,430.5 239.0,437.5 238.5,444.6 237.8,449.3 237.8,455.2 235.5,459.9 232.4,464.6 231.5,471.6 233.1,477.5 236.6,482.2 242.5,486.5 244.2,490.5 247.2,493.5 254.3,495.2 264.9,494.7 270.8,492.8 274.3,493.5 276.2,497.5 275.7,508.1 275.7,515.2 279.0,519.4 281.3,522.2 281.8,525.8 286.0,529.8 290.7,533.5 292.6,538.7 294.3,545.8 295.5,549.3"/>
<polyline points="606.2,9.5 603.8,11.9 599.1,13.5 594.4,14.2 590.9,15.9 589.7,18.9 586.2,20.6 582.2,21.3 580.3,23.6 575.1,26.0 570.9,29.5 568.5,34.2 567.4,40.1 570.9,44.8 573.2,50.7 576.1,56.6 575.1,62.5 572.1,66.0 569.7,71.9 568.5,76.6 569.7,80.8 573.2,83.2 579.1,84.8 577.9,87.2 573.2,88.4 568.5,90.7 563.8,94.2 559.1,96.6 555.6,98.9 553.2,102.5 549.7,104.8 547.4,109.5 543.8,113.1 540.3,116.6 535.6,118.9 533.3,123.6 528.6,128.4 525.0,134.2 521.5,137.8 518.0,142.5"/><polyline points="648.5,9.5 653.2,10.7 660.3,13.1 667.3,15.4 672.0,17.8 675.6,22.5 677.9,26.0 678.6,29.1 674.4,30.0 676.7,35.4 680.3,40.1 683.8,46.0 687.3,51.9 689.7,57.8 692.0,63.6 694.4,67.6 697.9,69.1 702.6,67.6 705.0,62.5 707.8,59.6 710.8,62.5 713.9,66.7 716.7,68.4 720.3,70.0 723.8,69.5 725.7,73.1 728.5,74.7 727.3,78.9 726.6,83.6 728.5,87.2 732.0,90.7 735.5,94.2 740.2,97.3 743.8,98.2 746.1,100.1 749.7,104.8 756.7,109.5 764.0,113.1"/><polyline points="743.8,98.2 741.4,101.3 742.6,104.8 739.1,107.2 734.4,108.4 733.2,110.7 737.9,110.7 743.8,111.9 746.1,115.4 748.5,118.9 749.7,123.6 749.2,128.4 750.1,134.2 748.5,138.9 747.3,142.5"/><polyline points="747.3,142.0 742.6,137.8 737.9,135.4 735.1,136.6 735.5,142.5"/><polyline points="746.1,100.1 743.8,103.6 747.3,107.2 746.1,110.7"/>
<polyline points="519.1,142.0 522.7,145.5 526.2,151.4 527.4,154.9 521.5,160.8 512.1,164.4 502.7,166.7 493.3,169.1 483.9,172.1 481.5,177.3 479.2,185.5 476.8,193.8 473.3,203.2 468.6,212.6 462.7,222.0 456.8,230.2 450.9,238.5 447.4,242.0 439.2,245.5 429.8,250.2 416.8,255.9"/><polyline points="527.4,154.9 523.8,162.0 521.0,168.4 528.6,169.8 540.3,170.2 554.4,170.7 568.5,172.1 577.9,172.6 582.6,170.2 589.7,169.8 596.8,172.6 603.8,176.1 609.7,176.8 612.1,173.8 613.7,179.6 617.9,180.8 620.3,184.4 623.1,186.7 620.8,191.4 622.6,197.3 624.5,200.4 627.3,198.5 629.7,194.9 633.2,190.2 636.7,185.5 640.3,183.2 647.3,184.4 654.4,185.5 660.3,184.4 665.0,181.5 668.5,182.5 672.0,185.5 676.7,187.2 682.6,186.2 688.5,183.9 694.4,180.8 697.9,177.3 696.7,171.4 695.6,165.5 696.7,159.6 700.3,158.0 703.8,159.6 707.3,157.3 710.8,153.8 713.2,156.1 715.5,159.6 721.4,160.8 727.3,158.5 730.4,153.8 728.5,150.2 723.8,150.9 722.6,148.6 728.5,146.7 734.4,144.4 739.1,141.5"/><polyline points="568.5,172.1 570.9,177.3 567.4,180.8 565.0,185.5 568.5,187.9 573.2,189.1 574.4,196.1 573.7,203.2 575.6,207.9 572.1,210.2 570.9,212.6 574.4,216.1 577.9,217.8 585.0,214.9 592.1,213.1 596.8,214.5 600.3,217.8 603.8,220.8 607.3,223.2 610.9,225.5 615.6,224.4 620.3,223.2 625.0,224.4 628.5,220.8 632.0,223.2 634.4,225.5 635.6,230.2 634.4,233.8 636.7,238.5 640.3,242.0 643.8,243.6 645.0,246.7 642.6,250.2 643.8,256.1 647.3,263.2 649.7,270.2 653.2,278.5"/><polyline points="764.9,254.5 756.7,256.1 752.0,259.6 753.2,264.4 750.8,270.2 746.1,273.8 743.8,278.5"/>
<polyline points="653.7,277.3 660.3,281.5 663.8,285.1 668.5,287.4 673.2,289.8 676.7,293.3 680.3,296.8 683.3,300.4 686.1,305.1 685.0,307.4 680.3,306.7 676.7,309.8 679.1,312.8 681.9,312.1 681.0,315.6 677.9,318.0 679.1,321.5 675.6,323.9 676.7,327.4 680.3,330.2 685.0,330.9 689.7,330.2 693.2,332.6 696.7,333.3 697.9,328.6 695.6,325.1 697.9,321.5 696.0,316.8 699.1,314.5 703.8,313.3 706.8,310.9 705.4,307.4 703.8,304.4 707.3,305.8 710.8,307.4 714.8,306.7 717.2,309.8 714.8,312.8 717.9,315.6 721.0,318.5 723.3,320.8 727.3,319.9 730.8,318.5 729.7,314.5 733.2,312.1 736.7,308.6 740.2,305.1 743.8,302.2 746.8,301.5 749.7,304.4 751.5,308.6 752.0,315.6 751.5,322.7 752.5,329.8 750.8,336.8 749.2,341.5 752.0,343.9 756.7,341.5 760.2,339.6 766.1,338.2"/><polyline points="744.9,277.3 749.7,279.9 756.7,280.4 761.4,279.2 766.1,281.8"/><polyline points="756.7,341.5 759.1,335.6 766.1,333.5"/>
<polyline points="766.1,454.5 759.1,457.5 754.4,459.9 749.7,463.4 744.9,466.9 742.6,471.6 737.9,475.6 732.0,477.5 726.1,479.9 721.4,483.4 719.1,488.1 717.2,491.6 718.6,497.5 720.3,504.6 722.6,510.5 726.1,514.0 729.7,517.5 734.4,519.9 739.1,521.1 743.8,520.4 748.5,522.2 752.0,523.4 756.7,522.2 766.1,520.6"/><polyline points="612.1,549.3 614.4,543.4 617.9,542.7 625.0,542.9 629.2,541.8 630.4,543.4 628.5,549.3"/><polyline points="743.8,549.3 745.4,544.6 749.7,542.2 756.7,540.6 766.1,538.7"/>
<polyline points="878.1,9.5 880.4,13.1 885.1,15.9 888.7,18.9 887.5,23.6 885.8,28.4 885.1,31.9 882.8,34.2 885.1,37.8 887.5,40.8 892.2,42.5 894.5,46.0 891.0,49.5 887.5,51.9 884.4,54.9 887.5,56.6 890.5,58.9 889.8,63.6 888.2,67.2 889.8,69.5 895.7,70.0 900.4,70.7 902.8,73.1 905.1,76.6 908.0,80.1 907.5,82.5 902.8,83.2 898.1,82.7 895.2,80.8 892.9,76.1 886.3,75.6 878.1,74.9 871.0,75.6 867.5,73.8 864.0,70.7 859.3,69.5 854.6,69.5 849.9,71.9 844.0,74.2 839.3,76.6 834.6,78.9 828.7,79.4 825.2,81.3 821.6,84.8 818.1,88.4 816.2,91.9 813.4,94.2 816.2,96.6 814.6,100.1 813.9,104.8 812.2,108.4 811.0,111.9 812.9,115.4 814.6,118.9 813.4,122.5 815.7,125.5 818.6,127.2 817.6,129.5 813.4,131.2 808.7,133.1 802.8,134.7 799.3,135.9 794.6,134.9 789.9,135.4 785.2,134.2 779.3,132.6 773.4,130.7 769.9,128.4 767.5,125.5 767.5,121.3 766.8,116.6 764.0,113.8 761.6,113.1"/><polyline points="902.8,70.7 905.1,67.6 908.7,63.6 911.7,58.9 913.6,56.6 918.1,58.2 921.6,62.0 925.1,66.0 927.5,69.5 928.6,74.2 931.5,77.8 933.8,82.5 937.6,87.2 939.2,90.7 943.9,91.2 947.5,94.2 952.2,96.6 956.9,94.9 963.9,94.0 969.8,94.5 973.3,96.6 975.7,99.6 980.4,102.0 985.1,104.4 988.6,107.6 991.7,109.1 995.7,107.9 998.0,110.7 1001.1,113.8 999.2,116.6 996.9,118.9 999.2,121.8 998.0,124.8 1003.9,125.5 1011.0,128.4 1018.0,131.2 1023.9,133.1 1029.8,134.2 1035.7,136.6 1040.4,140.1 1042.0,142.5"/><polyline points="799.3,135.9 801.6,138.9 802.8,142.5"/><polyline points="802.1,137.8 807.5,138.9 812.2,142.5"/><polyline points="1088.6,142.5 1089.8,139.6 1093.3,140.6 1096.8,142.5"/><polyline points="1098.0,142.5 1100.4,137.8 1105.1,135.9 1110.0,136.6"/>
<polyline points="799.3,142.0 801.2,144.8 796.9,149.1 792.2,152.6 787.5,157.3 784.0,162.0 778.1,165.5 774.6,169.1 772.2,174.9 769.9,180.8 766.4,185.5 765.2,191.4 763.5,195.6 761.6,199.6 764.5,202.7 762.1,206.0 761.2,209.8 764.0,212.6 762.6,216.8 765.4,220.1 766.8,224.4 765.9,229.1 767.5,236.1 769.9,243.2 772.2,249.1 771.1,252.6 767.5,253.8 762.8,254.9"/><polyline points="772.2,249.1 775.8,252.6 779.3,257.3 780.5,264.4 782.8,270.2 781.6,274.9 779.3,278.5"/><polyline points="812.2,142.0 818.1,144.8 824.0,147.9 828.7,150.9 826.3,154.9 820.5,158.5 816.9,163.2 814.6,167.9 812.9,172.6 813.9,178.5 815.7,184.4 817.6,189.1 819.3,192.6 824.0,191.4 828.7,189.1 834.6,190.2 839.3,192.6 844.0,191.4 846.3,187.9 846.8,183.2 845.1,178.5 844.0,173.8 846.3,171.4 849.9,172.1 854.6,176.1 858.1,180.8 862.8,184.4 867.5,187.9 872.2,191.9 875.7,196.6 880.4,200.8 886.3,204.4 892.2,207.4 898.1,209.8 902.3,211.4 901.6,214.9 896.9,217.3 892.2,219.2 887.5,220.8 886.3,223.2 891.0,224.4 895.7,226.7 899.2,230.2 901.6,234.2 905.1,233.8 909.8,231.9 914.5,233.8 918.1,236.1 920.4,239.6 925.1,242.0 929.8,244.4 934.5,246.7 939.2,250.2 942.8,253.8 947.5,254.5 951.0,252.6 955.7,253.8 960.4,256.1 965.1,254.9 969.8,257.3 973.3,256.1 976.9,258.5 979.2,262.0 982.7,263.2 986.3,260.8 987.5,257.3 986.3,252.6 985.1,247.9 988.6,245.5 992.2,240.8 994.5,236.1 999.2,233.8 1001.6,230.2 1000.4,225.5 1003.9,220.8 1001.6,216.1 1000.4,211.4 1003.9,207.9 1007.4,203.2 1011.0,198.5 1013.3,192.6 1011.0,187.9 1014.5,183.2 1019.2,178.5 1025.1,173.8 1032.1,169.1 1039.2,164.4 1045.1,159.6 1048.6,154.9 1052.1,152.6 1056.8,151.4 1053.3,149.1 1046.3,145.5 1041.6,142.0"/><polyline points="986.3,254.5 989.8,257.8 995.7,262.5 1001.6,267.2 1008.6,271.4 1016.9,274.9 1025.1,278.5"/><polyline points="1056.8,151.4 1060.4,156.1 1063.9,162.0 1066.3,166.7 1061.5,170.2 1059.2,174.9 1062.7,179.6 1063.9,185.5 1059.2,189.1 1051.0,192.6 1043.9,194.9 1040.4,199.6 1042.7,204.4 1047.4,207.9 1049.8,211.4 1045.1,216.1 1040.4,220.8 1035.7,225.5 1029.8,230.2 1025.1,236.1 1021.6,243.2 1020.4,250.2 1021.6,257.3 1023.9,264.4 1022.7,271.4 1021.6,278.5"/><polyline points="1066.3,166.7 1072.1,165.5 1078.0,163.6 1079.2,159.6 1083.9,157.3 1088.6,152.6 1089.8,147.9 1092.1,143.2 1093.3,141.3"/><polyline points="1078.0,163.6 1083.9,165.5 1089.8,166.7 1093.3,170.2 1096.8,174.9 1102.7,172.6 1110.9,171.4"/><polyline points="1110.9,216.1 1102.7,216.8 1098.0,219.6 1095.7,225.5 1098.0,231.4 1102.7,234.9 1103.9,238.5 1099.2,240.8 1093.3,243.2 1089.8,246.7 1092.1,251.4 1095.7,256.1 1099.2,260.8 1102.7,262.0 1100.4,257.3 1098.0,252.6 1096.8,247.9 1100.4,245.5 1105.1,243.2 1110.9,242.0"/><polyline points="1092.1,251.4 1086.2,250.2 1079.2,251.4 1072.1,247.9 1065.1,245.5 1059.2,246.7 1061.5,250.2 1066.3,252.6 1071.0,254.9 1075.7,258.5 1078.0,264.4 1076.8,270.2 1073.3,274.9 1071.0,278.5"/><polyline points="1094.5,141.5 1096.8,143.9 1099.2,141.5"/>
<polyline points="762.8,289.1 768.7,286.2 774.6,285.1 778.1,281.5 781.6,279.2 784.0,277.3"/><polyline points="786.3,277.3 788.7,281.5 792.2,285.1 793.4,290.9 795.8,296.8 794.6,301.5 796.9,306.2 795.8,313.3 794.6,319.2 792.2,323.9 787.5,327.4 781.6,330.9 775.8,333.3 769.9,334.5 762.8,335.6"/><polyline points="775.8,333.3 778.1,338.0 781.6,343.9 784.0,349.8 787.5,355.6 791.0,361.5 795.8,366.2 800.5,370.9 804.0,375.6 806.3,380.4 804.0,385.1 799.3,387.4 795.8,389.8 799.3,392.1 805.2,393.3 809.9,392.8 811.0,395.2 806.3,396.8 801.6,399.2 796.9,401.5 792.2,403.9 788.7,406.2 787.1,409.8 788.7,412.1 793.4,409.8 799.3,407.4 805.2,405.1 809.9,402.7 814.6,400.4 819.3,399.9 825.2,400.4 829.9,401.5 833.4,403.9 836.9,401.5 841.6,400.4 846.3,399.2 851.0,400.4 853.4,403.9 849.9,406.2 846.3,405.1 844.0,408.6 845.1,412.1 842.8,414.5"/><polyline points="853.4,403.9 862.8,406.2 872.2,408.6 881.6,409.8 891.0,412.1 895.7,414.5"/><polyline points="1038.0,277.3 1043.9,281.5 1051.0,285.1 1058.0,288.6 1063.9,289.3 1069.8,294.5 1076.8,301.5 1081.5,307.4 1088.6,308.6 1095.7,312.1 1102.7,316.8 1112.1,322.0"/><polyline points="1063.9,289.3 1068.6,283.9 1072.1,280.4 1074.5,277.3"/>
<polyline points="762.8,455.6 768.7,452.8 774.6,449.3 780.5,444.6 785.2,442.2 789.9,438.7 795.8,435.2 801.6,432.8 807.5,429.3 812.2,426.9 816.9,423.4 821.6,421.1 827.5,419.2 833.4,417.5 839.3,415.2 842.1,413.3"/><polyline points="894.5,413.3 899.2,416.4 902.8,418.7 905.1,423.4 908.0,428.1 910.3,434.0 912.2,439.9 912.7,444.1 909.8,446.9 906.3,449.3 904.0,452.8 905.1,456.4 902.8,459.9 904.0,463.4 901.6,468.1 899.2,472.8 896.9,477.5 894.5,481.1 891.0,484.6 888.7,488.1 888.2,492.8 889.1,496.4 887.5,498.7 881.6,500.6 874.6,502.2 867.5,503.4 861.6,504.6 858.1,506.9 854.6,510.5 852.2,514.0 851.5,517.5 853.4,522.2 855.7,526.9 858.1,531.6 859.3,536.4 858.6,542.2 857.6,549.3"/><polyline points="880.4,549.3 879.3,544.6 878.1,539.9 875.7,534.0 873.4,529.3 871.0,524.6 873.4,519.9 876.9,516.4 881.6,514.7 886.3,515.6 887.5,511.6 888.7,508.1 892.2,506.9 893.8,509.3 893.4,512.8 896.2,514.0 897.6,510.5 898.1,506.9 900.9,505.8 902.8,508.1 902.3,511.6 904.0,514.0 904.7,517.5 903.2,521.1 901.6,524.6 899.2,528.1 898.1,531.6 900.4,532.8 904.0,529.3 907.5,525.8 909.8,524.6 912.2,526.9 911.0,530.5 914.5,531.6 919.2,532.8 923.9,531.6 927.5,529.3 928.6,525.8 929.8,522.2 931.5,519.9 932.9,522.2 931.5,525.8 932.9,528.1 936.9,526.5 940.4,523.4 941.6,526.9 939.2,530.5 936.9,534.0 934.5,536.4 933.8,539.9 936.9,541.1 940.4,538.7 943.9,536.4 948.6,534.0 954.5,532.8 960.4,534.0 966.3,535.2 971.0,534.0 972.2,530.5 974.5,528.1 979.2,526.5 983.9,523.4 988.6,520.4 993.3,517.5 998.0,515.2 1003.9,514.7 1006.3,517.5 1007.4,522.2 1011.0,525.8 1014.5,529.3 1015.7,532.8 1012.2,535.2 1008.6,537.5 1005.1,538.7 1003.9,542.2 1007.4,544.6 1012.2,545.3 1015.7,542.2 1019.2,539.9 1021.6,543.4 1025.1,544.6 1028.6,542.2 1027.4,538.7 1031.0,537.5 1034.5,538.7 1038.0,536.4 1036.8,532.8 1041.6,534.0 1045.1,531.6 1048.6,530.5 1049.8,534.0 1048.6,538.7 1046.3,543.4 1043.9,549.3"/><polyline points="762.8,518.9 768.7,517.5 773.4,514.0 778.1,512.8 782.8,514.7 784.0,518.7 783.3,523.4 786.3,528.1 787.1,531.6 784.0,535.2 778.1,536.8 771.1,537.5 762.8,538.9"/><polyline points="1072.1,549.3 1074.0,542.2 1076.8,536.4 1081.5,534.5 1087.4,535.2 1092.1,536.4 1093.3,532.8 1098.0,531.2 1102.7,531.6 1105.1,535.2 1107.4,538.7 1112.1,540.1"/>
<polyline points="1108.8,136.6 1117.1,138.9 1124.1,140.1 1131.2,142.5"/><polyline points="1133.5,141.5 1140.6,142.5"/>
<polyline points="1131.2,142.0 1138.2,143.2 1141.8,145.5 1142.9,150.2 1146.5,153.8 1145.3,158.5 1147.6,162.7 1153.5,164.4 1160.6,166.7 1167.6,169.8 1173.5,172.6 1178.2,176.1 1181.7,179.6 1186.4,180.8 1188.8,185.5 1193.5,189.1 1198.2,192.6 1202.9,191.4 1207.6,193.8 1212.3,197.3 1215.8,199.6 1218.2,196.6 1222.9,196.1 1226.4,198.5 1230.0,202.7 1231.1,206.0 1235.8,207.4 1238.2,211.4 1240.5,216.1 1244.1,219.6 1247.6,223.2 1250.0,227.9 1253.5,230.2 1258.2,230.9 1260.5,232.6 1261.7,229.1 1264.1,226.2 1269.9,225.5 1274.6,223.9 1279.4,221.5 1284.1,222.0 1288.8,224.4 1292.3,224.8 1295.8,226.7 1298.2,230.2 1297.0,233.8 1299.3,237.3 1301.7,240.8 1304.1,244.4 1302.9,250.7"/><polyline points="1260.5,232.6 1259.4,238.5 1258.2,243.2 1255.8,247.9 1252.3,252.6 1250.0,257.3 1247.6,260.8 1241.7,263.2 1234.7,264.4 1227.6,264.8 1221.7,263.9 1215.8,262.0 1210.0,259.6 1204.1,257.3 1198.2,257.3 1192.3,256.8 1188.8,253.8 1186.4,249.1 1181.7,246.7 1177.0,245.1 1172.3,243.6 1167.6,242.0 1165.3,237.3 1160.6,235.6 1154.7,236.1 1148.8,238.0 1144.1,240.8 1140.6,244.4 1137.8,243.2 1133.5,244.4 1128.8,245.5 1121.8,244.4 1114.7,242.7 1108.8,242.0"/><polyline points="1177.0,245.1 1174.7,249.1 1171.2,253.8 1166.5,257.3 1160.6,260.8 1155.9,264.4 1151.2,267.9 1145.3,270.2 1139.4,271.4 1135.9,273.8 1134.7,278.5"/><polyline points="1221.7,263.9 1220.6,267.9 1217.0,270.9 1211.1,272.6 1207.6,274.9 1206.0,278.5"/><polyline points="1302.9,250.7 1298.2,252.1 1292.3,254.5 1286.4,256.8 1280.5,258.5 1275.8,262.0 1272.3,264.8 1271.1,269.1 1273.5,272.6 1272.3,276.1 1271.8,278.5"/><polyline points="1302.9,250.7 1308.8,252.6 1313.5,254.9 1317.0,258.5 1319.3,262.5 1324.0,264.4 1328.7,265.5 1333.5,267.9 1337.0,270.9 1340.5,273.8 1345.2,276.1 1349.9,278.5"/><polyline points="1354.6,278.5 1359.3,274.9 1364.0,271.4 1368.7,270.9 1373.4,273.3 1375.8,276.1 1375.3,278.5"/><polyline points="1108.8,172.6 1114.7,173.8 1118.2,176.1 1117.1,180.8 1114.7,185.5 1114.2,191.4 1117.1,194.9 1119.4,198.5 1118.2,203.2 1114.7,206.7 1113.5,211.4 1114.2,216.1 1108.8,217.8"/>
<polyline points="1133.5,277.3 1134.7,282.7 1132.3,287.4 1135.9,292.1 1140.6,295.6 1141.8,300.4 1138.2,303.9 1139.4,308.6 1144.1,313.3 1148.8,318.0 1147.6,322.7 1141.8,323.9 1137.8,326.2"/><polyline points="1108.8,321.1 1115.9,325.1 1121.8,328.6 1126.5,330.9 1131.2,327.4 1137.8,326.2 1142.9,328.6 1150.0,333.3 1157.0,338.0 1162.9,341.5 1167.6,343.9 1174.7,343.4 1180.6,342.0 1186.4,341.5"/><polyline points="1186.4,341.5 1188.8,347.4 1190.0,353.3 1193.5,358.0 1200.6,360.4 1208.8,361.5 1218.2,363.2 1225.3,365.5 1230.0,368.6 1234.7,369.8 1238.2,366.2 1238.2,361.5 1241.7,359.9 1251.1,359.9 1260.5,360.8 1267.6,362.2 1274.6,361.5 1279.4,360.8 1282.9,360.4 1288.8,358.0 1293.5,354.5 1298.2,349.8 1302.9,346.2 1308.8,343.9 1314.6,341.5 1318.2,339.6 1317.0,336.8 1312.3,336.4 1309.9,333.3 1305.2,330.9 1298.2,329.3 1292.3,327.9 1286.4,326.9 1279.4,328.6 1272.3,327.4 1265.2,326.2 1258.2,325.1 1251.1,324.6 1245.2,323.9 1244.5,322.2 1250.0,321.5 1254.7,319.9 1255.8,318.0"/><polyline points="1186.4,341.5 1192.3,336.8 1198.2,334.5 1194.7,330.9 1199.4,327.4 1205.3,323.9 1210.0,320.4 1211.1,314.5 1212.3,307.4 1214.7,302.7 1219.4,300.4"/><polyline points="1202.9,277.3 1204.1,283.9 1207.6,289.8 1213.5,295.6 1219.4,300.4 1225.3,300.4 1232.3,303.9 1239.4,307.4 1246.4,310.9 1252.3,314.5 1255.8,318.0 1260.5,315.6 1264.1,310.9 1267.6,306.2 1271.1,301.5 1268.8,296.8 1266.4,292.1 1264.1,288.6 1267.6,283.9 1272.3,277.3"/><polyline points="1318.2,339.6 1321.7,335.6 1326.4,333.3 1332.3,330.2 1335.8,333.3 1340.5,334.5 1342.9,330.9 1341.7,326.2 1345.2,321.5 1349.9,316.8 1355.8,310.9 1360.5,305.1 1365.2,300.4 1368.7,295.6 1369.9,288.6 1372.3,282.7 1375.8,277.3"/><polyline points="1368.7,295.6 1375.8,296.8 1385.2,298.0 1394.6,297.3 1404.0,299.2 1411.1,296.8 1414.6,294.0 1415.8,298.0 1420.5,302.7 1426.4,307.4 1429.9,313.3 1433.4,319.2 1435.8,325.1 1438.1,327.9 1442.8,327.4 1447.5,323.9 1448.7,319.2 1444.0,315.6 1446.4,310.9 1451.1,308.1"/><polyline points="1335.8,333.3 1338.2,338.0 1345.2,340.4 1352.3,342.7 1359.3,341.1 1366.4,341.5 1373.4,343.9 1378.1,348.6 1380.5,354.5 1384.0,359.2 1389.9,362.7 1398.1,366.2 1406.4,367.4 1415.8,366.9 1422.8,363.9 1425.2,360.4 1424.0,355.6 1427.5,350.9 1432.2,346.2 1436.9,340.4 1440.5,335.6 1441.7,330.9 1442.8,327.4"/><polyline points="1398.1,366.2 1395.8,370.9 1399.3,375.6 1401.7,380.4 1400.5,386.2 1397.0,390.9 1393.4,396.8 1391.1,403.9 1389.9,409.8 1388.7,414.5"/><polyline points="1274.6,361.5 1277.0,367.4 1279.4,373.3 1282.9,379.2 1285.2,386.2 1288.8,393.3 1291.1,400.4 1290.6,407.4 1292.3,414.5"/><polyline points="1282.9,360.4 1281.2,355.6 1284.1,353.8 1292.3,352.8 1294.6,355.6 1298.2,359.2 1302.9,362.7 1309.9,365.5 1318.2,367.9 1325.2,369.3 1331.1,372.1 1334.6,376.8 1336.3,382.7 1334.6,388.6 1333.5,392.1 1339.3,394.5 1346.4,395.6 1352.3,399.2 1357.0,402.7 1362.9,405.1 1368.7,406.2 1373.4,409.8 1377.0,412.6 1380.5,414.5"/><polyline points="1388.7,414.5 1393.4,410.2 1401.7,407.4 1409.9,406.9 1414.6,409.8 1417.0,414.5"/><polyline points="1450.6,400.4 1448.7,405.1 1449.9,410.9 1451.1,414.5"/><polyline points="1346.4,277.3 1352.3,279.2 1357.0,278.7"/>
<polyline points="1308.8,413.3 1313.5,416.4 1316.5,419.9 1314.6,422.2 1308.8,421.5 1301.7,421.1 1295.8,422.2 1292.3,424.6 1286.4,428.1 1281.7,430.5 1280.5,434.0 1284.1,435.6 1288.8,435.2 1292.3,437.5 1295.8,439.9 1299.3,441.8 1300.5,444.6 1298.2,448.1 1292.3,450.5 1287.6,452.8 1285.9,455.9 1288.8,458.7 1292.3,461.1 1294.6,464.6 1298.2,468.1 1301.7,470.5 1304.1,473.3 1307.6,475.6 1312.3,476.4 1317.0,475.6 1321.7,478.0 1326.4,481.1 1330.6,484.1 1332.3,487.4 1331.1,490.5 1327.6,492.1 1322.9,491.6 1318.2,489.8 1314.6,488.1 1311.1,489.8 1311.8,494.0 1309.9,496.8 1306.4,497.5 1303.3,495.2 1302.4,491.6 1300.5,489.8 1295.8,490.5 1291.1,492.8 1286.4,496.4 1281.7,499.9 1277.0,503.4 1272.3,506.9 1266.4,510.5 1260.5,515.2 1254.7,518.7 1248.8,522.7 1242.9,526.5 1238.2,529.8 1235.8,534.0 1234.7,538.7 1235.8,543.4 1238.2,546.9 1238.9,549.3"/><polyline points="1108.8,540.6 1114.7,542.9 1119.4,542.2 1122.9,544.6 1125.3,547.6 1126.5,549.3"/><polyline points="1414.6,413.3 1415.8,418.7 1419.3,422.9 1424.0,425.8 1429.9,424.6 1435.8,422.2 1441.7,420.6 1446.4,422.2 1449.9,424.6 1451.1,421.1"/><polyline points="1375.8,413.3 1380.5,415.2 1387.6,414.7 1389.9,413.3"/>







</g>
<g shape-rendering="crispEdges"><g clip-path="url(#c94)"><rect x="740" y="240" width="200" height="120" fill="#fff"/><polygon fill="#add8e6" points="739.0,239.0 769.4,239.0 770.5,246.1 766.4,251.2 760.3,252.6 754.2,253.8 751.8,260.3 749.1,268.4 745.1,273.5 748.1,278.6 756.2,279.6 763.4,281.6 768.4,285.7 764.4,290.8 759.3,291.8 756.2,296.9 756.2,305.0 754.2,313.1 752.2,325.3 750.2,335.4 744.1,337.5 739.0,335.4"/><polygon fill="#00bfff" points="739.0,246.1 745.1,248.1 749.1,254.2 750.2,262.3 748.1,270.5 745.1,275.5 750.2,279.6 758.3,281.6 762.3,285.7 758.3,289.7 754.2,294.8 754.6,305.0 752.6,317.2 750.2,329.3 744.1,333.4 739.0,331.4"/><polygon fill="#6495ed" points="739.0,255.2 744.1,257.3 747.1,263.4 748.1,270.5 746.1,276.5 754.2,281.6 759.3,285.7 756.2,289.7 753.2,293.8 753.2,305.0 751.2,319.2 748.1,327.3 739.0,329.3"/><polygon fill="#4169e1" points="739.0,263.4 743.0,265.4 745.7,270.5 745.1,276.1 752.2,281.6 757.3,286.3 754.2,290.8 752.2,296.9 751.8,307.0 750.2,319.2 747.7,325.3 739.0,327.3"/><polygon fill="#0000cd" points="739.0,271.5 742.4,273.5 744.1,277.6 746.1,280.6 752.2,283.7 756.2,286.7 753.2,291.8 751.2,300.9 750.2,315.1 747.1,323.2 739.0,325.3"/><polygon fill="#000080" points="739.0,280.6 745.1,282.6 750.2,286.7 752.2,290.8 749.1,298.9 749.1,311.1 746.1,320.2 739.0,322.2"/><polygon fill="#ffffff" points="752.2,257.3 755.2,254.6 761.3,253.8 766.4,252.6 770.5,253.2 773.5,257.3 776.5,260.3 779.6,264.4 781.6,268.4 782.2,272.5 780.6,276.1 778.6,278.6 775.5,280.6 773.5,283.7 770.5,285.7 766.4,283.7 763.4,280.6 759.3,279.6 755.2,278.6 751.2,277.6 748.1,276.5 745.1,274.9 748.1,271.5 751.2,268.4 752.6,263.4 751.8,260.3"/><polygon fill="#add8e6" points="790.8,279.6 800.9,277.6 809.0,280.6 815.1,279.6 821.2,278.6 829.3,280.6 837.5,283.7 843.6,288.7 845.6,294.8 841.5,298.9 839.5,305.0 841.5,311.1 837.5,315.1 829.3,314.1 823.2,318.2 819.2,321.2 825.3,324.3 831.4,321.2 835.4,320.2 839.5,323.2 845.6,325.3 851.7,323.2 855.7,327.3 853.7,331.4 859.8,335.4 865.9,339.5 872.0,341.5 880.1,339.5 886.2,337.5 888.2,331.4 890.3,326.3 894.3,329.3 900.4,330.4 906.5,333.4 914.6,335.4 918.7,329.3 924.8,327.3 928.8,331.4 932.9,335.4 940.0,337.5 941.0,361.0 746.1,361.0 746.1,351.7 752.2,345.6 760.3,343.6 766.4,335.4 762.3,327.3 761.3,319.2 764.4,311.1 770.5,306.0 778.6,304.0 786.7,307.0 791.8,300.9 790.8,290.8"/><polygon fill="#ffffff" points="802.9,279.6 808.0,278.6 813.1,283.7 810.1,288.7 805.0,285.7"/><polygon fill="#ffffff" points="835.4,342.5 841.5,340.5 845.6,345.6 842.5,352.7 836.4,351.7 833.4,346.6"/><polygon fill="#ffffff" points="848.6,343.6 851.7,343.6 851.7,347.6 848.6,347.6"/><polygon fill="#ffffff" points="759.3,345.6 768.4,344.6 770.5,349.6 762.3,351.3"/><polygon fill="#add8e6" points="840.5,240.0 849.6,239.0 856.8,244.1 861.8,250.2 864.9,258.3 866.9,266.4 864.9,273.5 861.8,279.6 857.8,277.6 855.7,270.5 852.7,264.4 847.6,258.3 844.6,250.2 841.5,244.1"/><polygon fill="#add8e6" points="825.3,259.3 829.3,259.3 829.3,261.3 825.3,261.3"/><polygon fill="#add8e6" points="931.9,309.0 934.9,309.0 934.9,313.1 931.9,313.1"/><polygon fill="#add8e6" points="878.1,321.2 882.1,321.2 882.1,324.3 878.1,324.3"/><polygon fill="#add8e6" points="916.6,239.0 922.7,239.0 930.9,242.4 941.0,249.1 941.0,272.5 932.9,263.4 925.8,254.2 920.7,247.1"/><polygon fill="#add8e6" points="936.5,298.9 941.0,297.9 941.0,329.3 934.9,329.3 933.9,317.2 933.3,307.0"/><polygon fill="#00bfff" points="820.2,280.6 825.3,279.6 830.4,283.7 832.4,289.7 828.3,291.8 823.2,287.7"/><polygon fill="#00bfff" points="793.8,288.7 800.9,285.7 809.0,288.7 815.1,294.8 823.2,296.9 828.3,300.9 827.3,309.0 823.2,314.1 817.2,315.1 811.1,319.2 805.0,323.2 798.9,325.3 792.8,327.3 788.7,329.3 783.7,331.4 780.6,337.5 783.7,345.6 788.7,353.7 792.8,361.0 780.6,361.0 777.6,353.7 772.5,345.6 768.4,337.5 764.4,329.3 763.4,321.2 766.4,313.1 772.5,308.0 780.6,306.0 787.7,309.0 792.4,305.0 793.2,296.9"/><polygon fill="#00bfff" points="802.9,327.3 811.1,326.3 821.2,329.3 828.3,332.4 829.3,339.5 825.3,345.6 819.2,347.6 813.1,351.7 809.0,357.8 805.0,361.0 794.8,361.0 798.9,353.7 800.9,345.6 802.9,337.5"/><polygon fill="#00bfff" points="857.8,353.7 865.9,350.7 878.1,349.6 890.3,351.7 902.4,353.7 908.5,347.6 914.6,343.6 922.7,342.5 932.9,345.6 940.0,346.6 941.0,361.0 855.7,361.0"/><polygon fill="#00bfff" points="919.7,239.0 923.8,240.0 930.9,244.5 941.0,251.8 941.0,269.4 932.9,260.3 926.4,252.2 921.7,245.7"/><polygon fill="#6495ed" points="794.8,289.7 800.9,287.7 808.0,290.8 814.1,296.9 822.2,298.9 825.3,304.0 824.3,310.1 820.2,313.1 815.1,313.1 810.1,317.2 804.0,321.2 797.9,323.2 795.8,318.2 794.8,311.1 795.8,301.9 793.2,298.9 792.4,292.8"/><polygon fill="#4169e1" points="796.9,314.1 800.9,311.1 805.0,314.1 802.9,319.2 798.5,320.2"/><polygon fill="#6495ed" points="765.4,315.1 768.4,310.1 774.5,307.0 781.6,308.0 787.7,311.1 789.7,317.2 787.7,323.2 783.7,329.3 778.6,331.4 772.5,329.3 767.4,323.2"/><polygon fill="#4169e1" points="767.4,318.2 770.5,313.1 776.5,311.1 782.6,313.1 785.7,318.2 783.7,324.3 778.6,327.3 772.5,325.3 768.4,322.2"/><polygon fill="#0000cd" points="768.4,319.2 772.5,315.1 778.6,316.1 780.6,320.2 777.6,324.3 772.5,324.3 769.4,322.2"/><polygon fill="#6495ed" points="772.5,332.4 778.6,331.8 783.7,331.4 788.7,335.4 789.7,341.5 785.7,343.6 783.7,349.6 785.7,355.7 787.7,361.0 781.6,361.0 779.6,353.7 776.5,345.6 773.5,339.5"/><polygon fill="#0000cd" points="773.5,333.4 778.6,332.4 782.6,334.4 783.7,339.5 780.6,341.5 776.5,339.5"/><polygon fill="#000080" points="775.5,334.4 779.6,333.8 781.6,337.5 778.6,339.5"/><polygon fill="#6495ed" points="805.0,330.4 811.1,329.3 813.1,333.4 809.0,335.4"/><polygon fill="#6495ed" points="809.0,349.6 813.1,348.6 814.1,353.7 810.1,355.7"/><polygon fill="#6495ed" points="922.7,241.0 930.9,246.5 941.0,254.6 941.0,266.4 932.9,257.9 926.8,250.2"/><polygon fill="#6495ed" points="922.7,349.6 928.8,348.6 931.9,352.7 927.8,356.8 923.8,354.7"/><polygon fill="#000080" points="921.1,333.4 924.8,337.1 921.1,340.7 917.5,337.1"/></g></g><g clip-path="url(#c94)" fill="none" stroke="#000" stroke-width="1.7" stroke-linejoin="round" stroke-linecap="round"><polyline points="752.2,257.3 755.2,254.6 761.3,253.8 766.4,252.6 770.5,253.2 773.5,257.3 776.5,260.3 779.6,264.4 781.6,268.4 782.2,272.5 780.6,276.1 778.6,278.6 775.5,280.6 773.5,283.7 770.5,285.7 766.4,283.7 763.4,280.6 759.3,279.6 755.2,278.6 751.2,277.6 748.1,276.5 745.1,274.9 748.1,271.5 751.2,268.4 752.6,263.4 751.8,260.3 752.2,257.3"/><polyline points="769.4,239.0 771.5,245.1 772.5,249.1 770.5,253.2"/><polyline points="778.6,278.6 783.7,280.6 787.7,283.7 790.8,286.7 792.4,292.8 793.2,298.9 795.8,301.9 794.4,306.0 795.2,311.1 796.9,318.2 795.8,322.2 791.8,325.3 786.7,327.7 781.6,330.4 778.6,331.8 779.6,337.5 780.6,343.6 782.6,349.6 785.1,354.7 787.7,361.0"/><polyline points="739.0,300.9 745.1,300.9 749.1,304.0 750.6,309.0 749.7,317.2 749.1,325.3 748.5,333.4 748.1,339.5 749.7,344.0 754.2,342.5 759.3,340.5 760.3,337.1 763.4,334.4 768.4,333.8 773.5,333.0 778.6,331.8"/><polyline points="918.7,239.0 922.7,242.0 928.8,245.1 934.9,248.1 941.0,252.6"/></g>
</g>
<rect x="75.6" y="9.5" width="1375.9" height="538.8" fill="none" stroke="#000" stroke-width="1.1"/>
<text x="59.3" y="553.3" font-size="16.5" text-anchor="end">25 °N</text>
<text x="59.3" y="477.7" font-size="16.5" text-anchor="end">26 °N</text>
<text x="59.3" y="402.2" font-size="16.5" text-anchor="end">27 °N</text>
<text x="59.3" y="326.6" font-size="16.5" text-anchor="end">28 °N</text>
<text x="59.3" y="251.0" font-size="16.5" text-anchor="end">29 °N</text>
<text x="59.3" y="175.5" font-size="16.5" text-anchor="end">30 °N</text>
<text x="59.3" y="99.9" font-size="16.5" text-anchor="end">31 °N</text>
<text x="59.3" y="24.3" font-size="16.5" text-anchor="end">32 °N</text>
<text x="75.6" y="577.9" font-size="16.5" text-anchor="middle">68 °E</text>
<text x="227.0" y="577.9" font-size="16.5" text-anchor="middle">70 °E</text>
<text x="378.4" y="577.9" font-size="16.5" text-anchor="middle">72 °E</text>
<text x="529.8" y="577.9" font-size="16.5" text-anchor="middle">74 °E</text>
<text x="681.2" y="577.9" font-size="16.5" text-anchor="middle">76 °E</text>
<text x="832.7" y="577.9" font-size="16.5" text-anchor="middle">78 °E</text>
<text x="984.1" y="577.9" font-size="16.5" text-anchor="middle">80 °E</text>
<text x="1135.5" y="577.9" font-size="16.5" text-anchor="middle">82 °E</text>
<text x="1286.9" y="577.9" font-size="16.5" text-anchor="middle">84 °E</text>
<text x="1438.3" y="577.9" font-size="16.5" text-anchor="middle">86 °E</text>
<g stroke="#000"><line x1="64.4" y1="546.50" x2="75.6" y2="546.50" stroke-width="2.5"/><line x1="64.4" y1="470.93" x2="75.6" y2="470.93" stroke-width="2.5"/><line x1="64.4" y1="395.36" x2="75.6" y2="395.36" stroke-width="2.5"/><line x1="64.4" y1="319.79" x2="75.6" y2="319.79" stroke-width="2.5"/><line x1="64.4" y1="244.22" x2="75.6" y2="244.22" stroke-width="2.5"/><line x1="64.4" y1="168.65" x2="75.6" y2="168.65" stroke-width="2.5"/><line x1="64.4" y1="93.08" x2="75.6" y2="93.08" stroke-width="2.5"/><line x1="64.4" y1="17.51" x2="75.6" y2="17.51" stroke-width="2.5"/><line x1="72.0" y1="531.39" x2="75.6" y2="531.39" stroke-width="0.8"/><line x1="72.0" y1="516.27" x2="75.6" y2="516.27" stroke-width="0.8"/><line x1="72.0" y1="501.16" x2="75.6" y2="501.16" stroke-width="0.8"/><line x1="72.0" y1="486.04" x2="75.6" y2="486.04" stroke-width="0.8"/><line x1="72.0" y1="455.82" x2="75.6" y2="455.82" stroke-width="0.8"/><line x1="72.0" y1="440.70" x2="75.6" y2="440.70" stroke-width="0.8"/><line x1="72.0" y1="425.59" x2="75.6" y2="425.59" stroke-width="0.8"/><line x1="72.0" y1="410.47" x2="75.6" y2="410.47" stroke-width="0.8"/><line x1="72.0" y1="380.25" x2="75.6" y2="380.25" stroke-width="0.8"/><line x1="72.0" y1="365.13" x2="75.6" y2="365.13" stroke-width="0.8"/><line x1="72.0" y1="350.02" x2="75.6" y2="350.02" stroke-width="0.8"/><line x1="72.0" y1="334.90" x2="75.6" y2="334.90" stroke-width="0.8"/><line x1="72.0" y1="304.68" x2="75.6" y2="304.68" stroke-width="0.8"/><line x1="72.0" y1="289.56" x2="75.6" y2="289.56" stroke-width="0.8"/><line x1="72.0" y1="274.45" x2="75.6" y2="274.45" stroke-width="0.8"/><line x1="72.0" y1="259.33" x2="75.6" y2="259.33" stroke-width="0.8"/><line x1="72.0" y1="229.11" x2="75.6" y2="229.11" stroke-width="0.8"/><line x1="72.0" y1="213.99" x2="75.6" y2="213.99" stroke-width="0.8"/><line x1="72.0" y1="198.88" x2="75.6" y2="198.88" stroke-width="0.8"/><line x1="72.0" y1="183.76" x2="75.6" y2="183.76" stroke-width="0.8"/><line x1="72.0" y1="153.54" x2="75.6" y2="153.54" stroke-width="0.8"/><line x1="72.0" y1="138.42" x2="75.6" y2="138.42" stroke-width="0.8"/><line x1="72.0" y1="123.31" x2="75.6" y2="123.31" stroke-width="0.8"/><line x1="72.0" y1="108.19" x2="75.6" y2="108.19" stroke-width="0.8"/><line x1="72.0" y1="77.97" x2="75.6" y2="77.97" stroke-width="0.8"/><line x1="72.0" y1="62.85" x2="75.6" y2="62.85" stroke-width="0.8"/><line x1="72.0" y1="47.74" x2="75.6" y2="47.74" stroke-width="0.8"/><line x1="72.0" y1="32.62" x2="75.6" y2="32.62" stroke-width="0.8"/><line x1="75.60" y1="548.3" x2="75.60" y2="559.5" stroke-width="2.5"/><line x1="227.01" y1="548.3" x2="227.01" y2="559.5" stroke-width="2.5"/><line x1="378.42" y1="548.3" x2="378.42" y2="559.5" stroke-width="2.5"/><line x1="529.84" y1="548.3" x2="529.84" y2="559.5" stroke-width="2.5"/><line x1="681.25" y1="548.3" x2="681.25" y2="559.5" stroke-width="2.5"/><line x1="832.66" y1="548.3" x2="832.66" y2="559.5" stroke-width="2.5"/><line x1="984.07" y1="548.3" x2="984.07" y2="559.5" stroke-width="2.5"/><line x1="1135.48" y1="548.3" x2="1135.48" y2="559.5" stroke-width="2.5"/><line x1="1286.90" y1="548.3" x2="1286.90" y2="559.5" stroke-width="2.5"/><line x1="1438.31" y1="548.3" x2="1438.31" y2="559.5" stroke-width="2.5"/><line x1="113.45" y1="548.3" x2="113.45" y2="551.9" stroke-width="0.8"/><line x1="151.31" y1="548.3" x2="151.31" y2="551.9" stroke-width="0.8"/><line x1="189.16" y1="548.3" x2="189.16" y2="551.9" stroke-width="0.8"/><line x1="264.87" y1="548.3" x2="264.87" y2="551.9" stroke-width="0.8"/><line x1="302.72" y1="548.3" x2="302.72" y2="551.9" stroke-width="0.8"/><line x1="340.57" y1="548.3" x2="340.57" y2="551.9" stroke-width="0.8"/><line x1="416.28" y1="548.3" x2="416.28" y2="551.9" stroke-width="0.8"/><line x1="454.13" y1="548.3" x2="454.13" y2="551.9" stroke-width="0.8"/><line x1="491.98" y1="548.3" x2="491.98" y2="551.9" stroke-width="0.8"/><line x1="567.69" y1="548.3" x2="567.69" y2="551.9" stroke-width="0.8"/><line x1="605.54" y1="548.3" x2="605.54" y2="551.9" stroke-width="0.8"/><line x1="643.40" y1="548.3" x2="643.40" y2="551.9" stroke-width="0.8"/><line x1="719.10" y1="548.3" x2="719.10" y2="551.9" stroke-width="0.8"/><line x1="756.95" y1="548.3" x2="756.95" y2="551.9" stroke-width="0.8"/><line x1="794.81" y1="548.3" x2="794.81" y2="551.9" stroke-width="0.8"/><line x1="870.51" y1="548.3" x2="870.51" y2="551.9" stroke-width="0.8"/><line x1="908.37" y1="548.3" x2="908.37" y2="551.9" stroke-width="0.8"/><line x1="946.22" y1="548.3" x2="946.22" y2="551.9" stroke-width="0.8"/><line x1="1021.93" y1="548.3" x2="1021.93" y2="551.9" stroke-width="0.8"/><line x1="1059.78" y1="548.3" x2="1059.78" y2="551.9" stroke-width="0.8"/><line x1="1097.63" y1="548.3" x2="1097.63" y2="551.9" stroke-width="0.8"/><line x1="1173.34" y1="548.3" x2="1173.34" y2="551.9" stroke-width="0.8"/><line x1="1211.19" y1="548.3" x2="1211.19" y2="551.9" stroke-width="0.8"/><line x1="1249.04" y1="548.3" x2="1249.04" y2="551.9" stroke-width="0.8"/><line x1="1324.75" y1="548.3" x2="1324.75" y2="551.9" stroke-width="0.8"/><line x1="1362.60" y1="548.3" x2="1362.60" y2="551.9" stroke-width="0.8"/><line x1="1400.45" y1="548.3" x2="1400.45" y2="551.9" stroke-width="0.8"/></g>
<polygon points="630.90,75.70 632.37,79.98 636.89,80.05 633.28,82.77 634.60,87.10 630.90,84.50 627.20,87.10 628.52,82.77 624.91,80.05 629.43,79.98" fill="#000"/>
<text x="635.3" y="79.4" font-size="16">Punjab</text>
<polygon points="739.80,106.10 741.27,110.38 745.79,110.45 742.18,113.17 743.50,117.50 739.80,114.90 736.10,117.50 737.42,113.17 733.81,110.45 738.33,110.38" fill="#000"/>
<text x="744.2" y="109.8" font-size="16">Chandigarh</text>
<polygon points="688.60,232.70 690.07,236.98 694.59,237.05 690.98,239.77 692.30,244.10 688.60,241.50 684.90,244.10 686.22,239.77 682.61,237.05 687.13,236.98" fill="#000"/>
<text x="693.0" y="236.4" font-size="16">Haryana</text>
<polygon points="764.60,260.30 766.07,264.58 770.59,264.65 766.98,267.37 768.30,271.70 764.60,269.10 760.90,271.70 762.22,267.37 758.61,264.65 763.13,264.58" fill="#000"/>
<text x="769.0" y="264.0" font-size="16">Delhi</text>
<polygon points="786.30,273.40 787.77,277.68 792.29,277.75 788.68,280.47 790.00,284.80 786.30,282.20 782.60,284.80 783.92,280.47 780.31,277.75 784.83,277.68" fill="#000"/>
<text x="790.7" y="277.1" font-size="16">Noida</text>
<polygon points="941.20,285.90 942.67,290.18 947.19,290.25 943.58,292.97 944.90,297.30 941.20,294.70 937.50,297.30 938.82,292.97 935.21,290.25 939.73,290.18" fill="#000"/>
<text x="945.6" y="289.6" font-size="16">Bareilly</text>
<polygon points="665.30,395.90 666.77,400.18 671.29,400.25 667.68,402.97 669.00,407.30 665.30,404.70 661.60,407.30 662.92,402.97 659.31,400.25 663.83,400.18" fill="#000"/>
<text x="669.7" y="399.6" font-size="16">Jaipur</text>
<polygon points="833.20,376.10 834.67,380.38 839.19,380.45 835.58,383.17 836.90,387.50 833.20,384.90 829.50,387.50 830.82,383.17 827.21,380.45 831.73,380.38" fill="#000"/>
<text x="837.6" y="379.8" font-size="16">Agra</text>
<polygon points="846.60,407.30 848.07,411.58 852.59,411.65 848.98,414.37 850.30,418.70 846.60,416.10 842.90,418.70 844.22,414.37 840.61,411.65 845.13,411.58" fill="#000"/>
<text x="851.0" y="411.0" font-size="16">Gwalior</text>
<polygon points="1056.00,401.00 1057.47,405.28 1061.99,405.35 1058.38,408.07 1059.70,412.40 1056.00,409.80 1052.30,412.40 1053.62,408.07 1050.01,405.35 1054.53,405.28" fill="#000"/>
<text x="1060.4" y="404.7" font-size="16">Lucknow</text>
<polygon points="1009.00,430.90 1010.47,435.18 1014.99,435.25 1011.38,437.97 1012.70,442.30 1009.00,439.70 1005.30,442.30 1006.62,437.97 1003.01,435.25 1007.53,435.18" fill="#000"/>
<text x="1013.4" y="434.6" font-size="16">Kanpur</text>
<polygon points="1239.00,407.20 1240.47,411.48 1244.99,411.55 1241.38,414.27 1242.70,418.60 1239.00,416.00 1235.30,418.60 1236.62,414.27 1233.01,411.55 1237.53,411.48" fill="#000"/>
<text x="1243.4" y="410.9" font-size="16">Gorakhpur</text>
<polygon points="1209.20,516.00 1210.67,520.28 1215.19,520.35 1211.58,523.07 1212.90,527.40 1209.20,524.80 1205.50,527.40 1206.82,523.07 1203.21,520.35 1207.73,520.28" fill="#000"/>
<text x="1213.6" y="519.7" font-size="16">Varanasi</text>
<polygon points="1373.00,495.20 1374.47,499.48 1378.99,499.55 1375.38,502.27 1376.70,506.60 1373.00,504.00 1369.30,506.60 1370.62,502.27 1367.01,499.55 1371.53,499.48" fill="#000"/>
<text x="1377.4" y="498.9" font-size="16">Patna</text>
<rect x="1172.5" y="13.3" width="271.5" height="35" rx="5.5" ry="5.5" fill="#fff" stroke="#808080" stroke-width="1.2"/>
<text x="1179.2" y="37.6" font-size="22.2">12-Feb-2026 03:30 IST</text>
</svg>
</body></html>
